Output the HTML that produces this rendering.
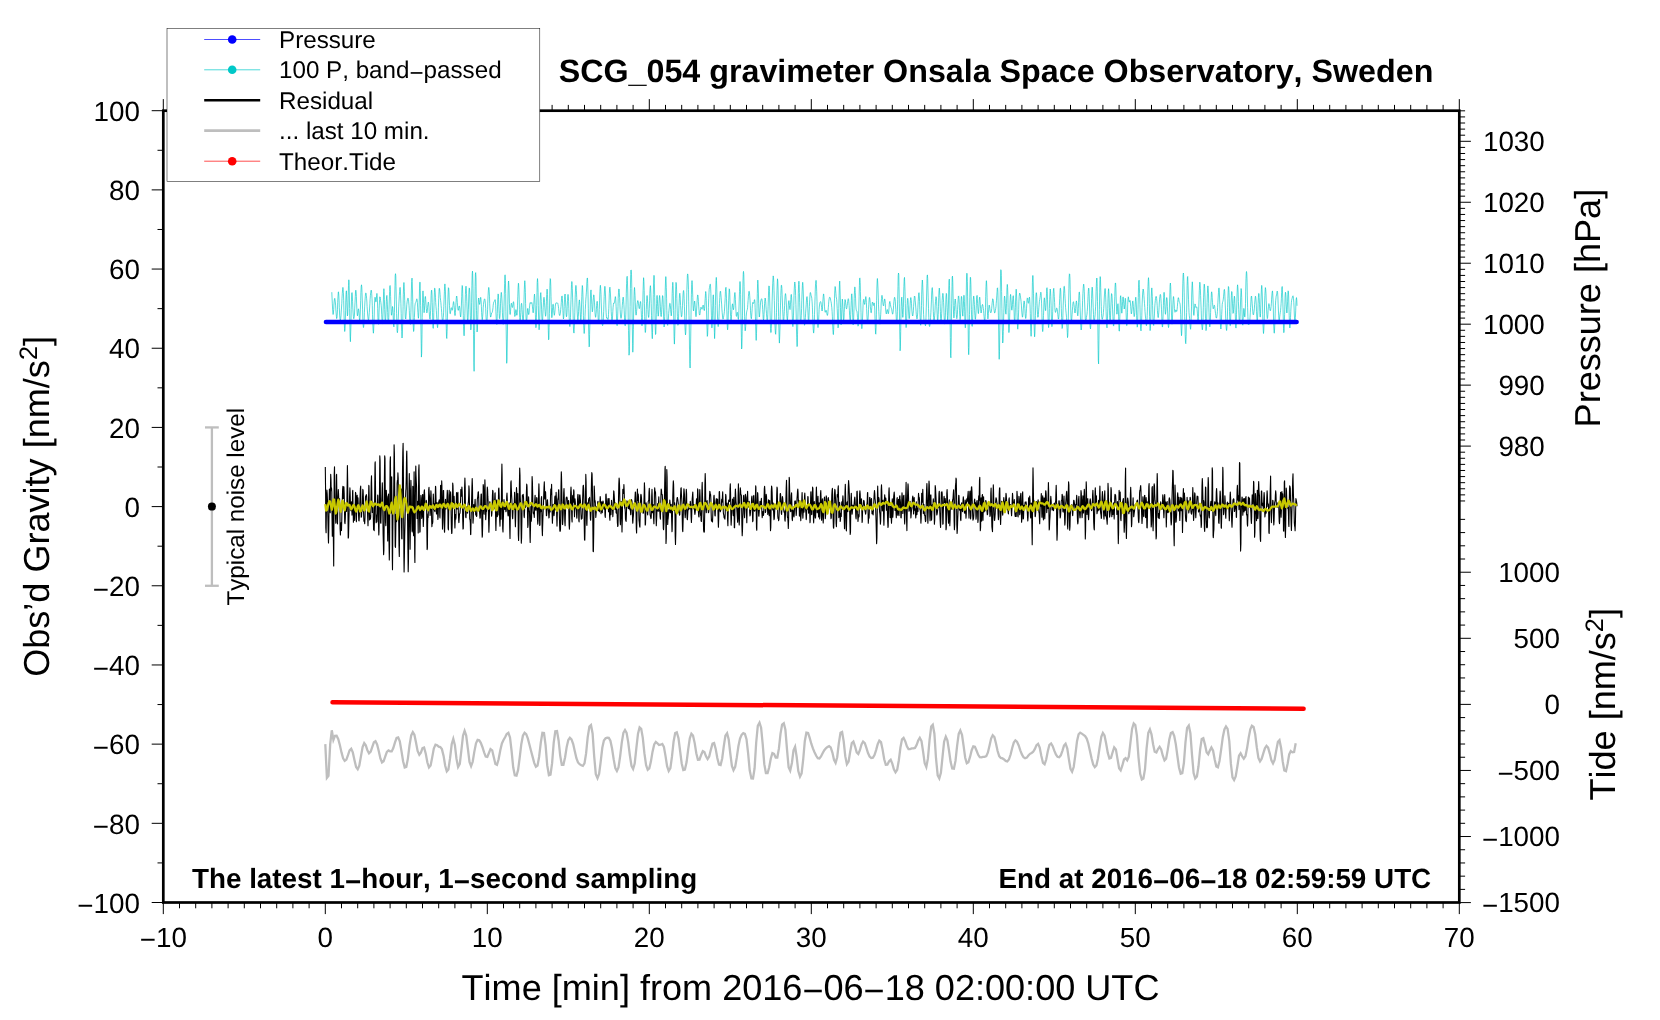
<!DOCTYPE html>
<html lang="en"><head><meta charset="utf-8"><title>SCG_054 gravimeter Onsala Space Observatory</title>
<style>html,body{margin:0;padding:0;background:#fff;}body{width:1660px;height:1020px;overflow:hidden;}svg{display:block;will-change:transform;}text{font-family:"Liberation Sans", sans-serif;font-kerning:none;text-rendering:geometricPrecision;}</style></head>
<body>
<svg width="1660" height="1020" viewBox="0 0 1660 1020" font-family='"Liberation Sans", sans-serif' fill="#000">
<rect x="0" y="0" width="1660" height="1020" fill="#fff"/>
<g fill="none" stroke-linejoin="round">
<path d="M331.8 292.2L332.0 297.1L332.3 303.2L332.6 309.1L332.9 313.1L333.1 314.5L333.4 313.0L333.7 309.4L333.9 305.0L334.2 301.1L334.5 298.8L334.8 298.3L335.0 299.5L335.3 301.9L335.6 305.1L335.8 308.9L336.1 312.9L336.4 316.4L336.6 318.6L336.9 318.4L337.2 315.3L337.5 309.6L337.7 302.6L338.0 296.2L338.3 292.2L338.5 291.8L338.8 295.0L339.1 300.8L339.3 307.7L339.6 314.0L339.9 318.4L340.1 320.5L340.4 320.4L340.7 318.7L341.0 315.8L341.2 312.1L341.5 308.0L341.8 303.3L342.0 298.3L342.3 293.4L342.6 289.4L342.9 287.4L343.1 288.3L343.4 292.8L343.7 300.6L343.9 310.6L344.2 320.6L344.5 328.3L344.7 331.5L345.0 329.1L345.3 321.6L345.6 310.8L345.8 300.1L346.1 292.7L346.4 290.8L346.6 294.8L346.9 302.7L347.2 311.0L347.4 315.9L347.7 314.7L348.0 307.2L348.2 295.9L348.5 285.3L348.8 279.8L349.1 282.3L349.3 293.0L349.6 308.5L349.9 324.2L350.1 336.6L350.4 341.7L350.7 333.0L351.0 322.1L351.2 309.6L351.5 299.1L351.8 293.2L352.0 292.6L352.3 296.0L352.6 301.7L352.8 307.8L353.1 313.0L353.4 316.6L353.6 318.5L353.9 318.8L354.2 317.3L354.5 314.0L354.7 308.9L355.0 302.7L355.3 296.6L355.5 292.0L355.8 290.2L356.1 291.8L356.4 296.6L356.6 303.1L356.9 309.5L357.2 314.0L357.4 315.8L357.7 314.8L358.0 312.2L358.2 309.7L358.5 308.8L358.8 310.3L359.1 313.7L359.3 317.6L359.6 320.3L359.9 320.0L360.1 316.1L360.4 309.1L360.7 300.5L360.9 292.4L361.2 286.7L361.5 284.8L361.8 287.1L362.0 292.8L362.3 300.9L362.6 309.8L362.8 318.0L363.1 324.2L363.4 327.5L363.6 327.5L363.9 324.5L364.2 319.2L364.4 312.7L364.7 306.1L365.0 300.5L365.3 296.4L365.5 293.8L365.8 292.9L366.1 293.4L366.3 295.2L366.6 298.2L366.9 302.1L367.1 306.5L367.4 311.0L367.7 315.0L368.0 318.0L368.2 319.8L368.5 320.1L368.8 318.8L369.0 316.2L369.3 312.4L369.6 308.0L369.9 303.5L370.1 299.3L370.4 295.6L370.7 292.8L370.9 290.9L371.2 290.1L371.5 290.8L371.7 293.4L372.0 298.4L372.3 305.7L372.5 314.5L372.8 323.3L373.1 330.1L373.4 333.2L373.6 331.2L373.9 324.9L374.2 316.0L374.4 307.0L374.7 300.3L375.0 297.2L375.2 297.7L375.5 299.9L375.8 301.8L376.1 301.7L376.3 299.1L376.6 295.6L376.9 293.4L377.1 294.6L377.4 300.1L377.7 308.6L377.9 317.4L378.2 323.3L378.5 324.3L378.8 320.2L379.0 312.9L379.3 305.1L379.6 299.3L379.8 296.8L380.1 297.0L380.4 298.7L380.6 300.7L380.9 302.7L381.2 305.2L381.5 309.0L381.7 314.3L382.0 320.0L382.3 323.8L382.5 323.8L382.8 318.9L383.1 310.1L383.4 300.0L383.6 291.9L383.9 288.7L384.2 291.6L384.4 299.4L384.7 309.4L385.0 318.1L385.2 322.9L385.5 322.4L385.8 317.2L386.1 309.4L386.3 301.7L386.6 296.6L386.9 295.4L387.1 298.6L387.4 304.9L387.7 312.5L387.9 319.2L388.2 322.9L388.5 322.4L388.8 317.6L389.0 309.4L389.3 300.0L389.6 291.5L389.8 286.3L390.1 285.5L390.4 289.3L390.6 296.5L390.9 304.7L391.2 311.6L391.4 315.2L391.7 315.1L392.0 312.1L392.3 308.4L392.5 306.5L392.8 307.9L393.1 312.8L393.3 319.5L393.6 325.2L393.9 326.9L394.1 322.7L394.4 312.7L394.7 299.1L395.0 285.4L395.2 275.5L395.5 273.7L395.8 276.1L396.0 286.2L396.3 299.8L396.6 313.5L396.9 324.4L397.1 330.9L397.4 332.7L397.7 330.4L397.9 325.5L398.2 319.4L398.5 313.0L398.7 306.8L399.0 301.1L399.3 295.8L399.6 291.3L399.8 288.2L400.1 287.4L400.4 289.6L400.6 295.1L400.9 303.5L401.2 313.6L401.4 323.7L401.7 331.7L402.0 338.0L402.2 336.6L402.5 329.1L402.8 318.9L403.1 306.6L403.3 294.7L403.6 286.1L403.9 282.5L404.1 284.5L404.4 291.2L404.7 300.4L405.0 309.4L405.2 316.0L405.5 319.0L405.8 318.7L406.0 315.9L406.3 311.9L406.6 308.0L406.8 304.6L407.1 301.9L407.4 300.0L407.6 298.7L407.9 298.1L408.2 298.3L408.5 299.5L408.7 301.9L409.0 305.6L409.3 310.5L409.5 315.9L409.8 320.9L410.1 324.2L410.4 324.3L410.6 320.3L410.9 312.3L411.2 301.4L411.4 290.1L411.7 281.4L412.0 278.1L412.2 281.5L412.5 291.0L412.8 304.1L413.1 317.3L413.3 327.1L413.6 331.5L413.9 330.1L414.1 324.7L414.4 317.5L414.7 310.9L414.9 306.2L415.2 303.7L415.5 302.8L415.8 302.4L416.0 301.8L416.3 300.7L416.6 299.4L416.8 298.8L417.1 299.7L417.4 302.5L417.6 307.1L417.9 312.4L418.2 316.7L418.4 318.3L418.7 315.8L419.0 308.9L419.3 299.0L419.5 288.9L419.8 282.2L420.1 282.2L420.3 290.3L420.6 305.3L420.9 323.3L421.2 343.3L421.4 357.1L421.7 353.6L422.0 334.5L422.2 317.6L422.5 302.2L422.8 292.5L423.0 290.9L423.3 295.8L423.6 303.7L423.9 310.3L424.1 312.7L424.4 310.4L424.7 305.2L424.9 299.8L425.2 296.5L425.5 296.6L425.7 299.5L426.0 304.0L426.3 308.5L426.6 311.6L426.8 312.9L427.1 312.2L427.4 310.1L427.6 307.2L427.9 304.4L428.2 302.5L428.4 302.1L428.7 303.6L429.0 307.0L429.2 311.5L429.5 316.0L429.8 319.0L430.1 319.3L430.3 316.3L430.6 310.4L430.9 302.9L431.1 295.6L431.4 290.8L431.7 290.1L432.0 294.2L432.2 302.4L432.5 312.8L432.8 322.4L433.0 328.2L433.3 328.3L433.6 322.5L433.8 312.6L434.1 301.6L434.4 292.8L434.6 288.2L434.9 288.3L435.2 292.0L435.5 297.3L435.7 302.5L436.0 306.7L436.3 310.4L436.5 314.2L436.8 318.7L437.1 323.5L437.4 327.0L437.6 327.7L437.9 324.3L438.2 317.2L438.4 307.8L438.7 298.5L439.0 291.6L439.2 288.3L439.5 288.5L439.8 291.0L440.1 294.5L440.3 297.7L440.6 300.4L440.9 302.7L441.1 305.3L441.4 308.6L441.7 312.3L441.9 316.1L442.2 319.2L442.5 321.1L442.8 321.5L443.0 320.3L443.3 317.4L443.6 312.8L443.8 306.5L444.1 299.2L444.4 291.8L444.6 286.1L444.9 283.9L445.2 286.5L445.5 294.1L445.7 305.3L446.0 317.8L446.3 328.6L446.5 336.9L446.8 338.5L447.1 331.4L447.3 322.2L447.6 310.9L447.9 299.9L448.2 291.7L448.4 287.7L448.7 288.2L449.0 292.5L449.2 299.0L449.5 305.7L449.8 310.9L450.0 313.6L450.3 313.7L450.6 312.1L450.9 309.8L451.1 308.2L451.4 307.7L451.7 308.4L451.9 309.6L452.2 310.3L452.5 309.8L452.7 308.0L453.0 305.3L453.3 302.8L453.6 301.6L453.8 302.5L454.1 305.3L454.4 309.3L454.6 313.2L454.9 315.6L455.2 315.4L455.4 312.6L455.7 307.9L456.0 302.7L456.3 298.3L456.5 296.0L456.8 296.3L457.1 298.7L457.3 302.3L457.6 306.1L457.9 309.0L458.1 310.4L458.4 310.2L458.7 308.9L458.9 307.1L459.2 306.0L459.5 306.2L459.8 308.2L460.0 311.4L460.3 314.9L460.6 317.0L460.8 316.3L461.1 312.2L461.4 305.1L461.7 296.7L461.9 289.3L462.2 285.5L462.5 286.8L462.7 293.3L463.0 303.8L463.3 315.7L463.5 326.2L463.8 333.0L464.1 335.8L464.4 331.0L464.6 323.4L464.9 313.5L465.2 303.2L465.4 294.4L465.7 288.4L466.0 286.2L466.2 288.0L466.5 293.4L466.8 301.3L467.1 310.0L467.3 317.5L467.6 321.7L467.9 321.6L468.1 317.0L468.4 309.2L468.7 300.0L468.9 292.2L469.2 287.9L469.5 288.6L469.8 294.3L470.0 304.0L470.3 315.2L470.6 324.9L470.8 329.9L471.1 327.8L471.4 318.2L471.6 302.8L471.9 285.7L472.2 273.8L472.5 271.1L472.7 274.0L473.0 288.5L473.3 311.0L473.5 334.2L473.8 362.2L474.1 371.3L474.3 359.0L474.6 330.6L474.9 307.8L475.1 286.5L475.4 274.1L475.7 272.6L476.0 277.8L476.2 293.2L476.5 310.7L476.8 324.8L477.0 332.0L477.3 331.2L477.6 324.2L477.9 314.3L478.1 305.3L478.4 299.6L478.7 298.0L478.9 299.6L479.2 302.4L479.5 304.4L479.7 304.3L480.0 302.2L480.3 299.3L480.6 297.3L480.8 297.6L481.1 300.8L481.4 306.3L481.6 312.4L481.9 317.3L482.2 319.8L482.4 319.3L482.7 316.3L483.0 312.0L483.2 307.8L483.5 304.3L483.8 301.9L484.1 300.4L484.3 299.4L484.6 298.9L484.9 299.1L485.1 300.7L485.4 303.9L485.7 308.7L485.9 314.3L486.2 319.4L486.5 322.8L486.8 323.5L487.0 321.1L487.3 316.1L487.6 309.3L487.8 302.0L488.1 295.2L488.4 290.1L488.7 287.4L488.9 287.8L489.2 291.1L489.5 296.8L489.7 303.7L490.0 310.1L490.3 314.8L490.5 317.0L490.8 317.0L491.1 315.7L491.4 314.1L491.6 313.0L491.9 312.6L492.2 312.4L492.4 311.7L492.7 310.1L493.0 307.7L493.2 305.2L493.5 303.2L493.8 302.1L494.1 301.6L494.3 301.3L494.6 300.7L494.9 299.8L495.1 299.6L495.4 301.1L495.7 305.2L495.9 311.5L496.2 318.3L496.5 323.3L496.8 324.5L497.0 320.9L497.3 313.6L497.6 304.9L497.8 297.5L498.1 293.9L498.4 294.9L498.6 299.8L498.9 306.8L499.2 313.5L499.4 317.8L499.7 318.7L500.0 315.9L500.3 310.4L500.5 303.8L500.8 297.7L501.1 293.6L501.3 292.4L501.6 294.3L501.9 298.9L502.2 305.2L502.4 312.2L502.7 318.4L503.0 322.8L503.2 324.3L503.5 322.1L503.8 316.0L504.0 306.4L504.3 294.8L504.6 283.6L504.9 275.8L505.1 274.8L505.4 280.3L505.7 293.6L505.9 311.5L506.2 329.8L506.5 352.0L506.7 363.3L507.0 359.0L507.3 341.0L507.6 321.8L507.8 304.8L508.1 290.8L508.4 282.5L508.6 281.0L508.9 285.6L509.2 294.0L509.4 303.2L509.7 310.6L510.0 314.4L510.2 314.5L510.5 311.7L510.8 307.8L511.1 304.6L511.3 303.2L511.6 303.7L511.9 305.4L512.1 307.0L512.4 307.5L512.7 306.5L513.0 304.4L513.2 302.4L513.5 301.7L513.8 303.0L514.0 306.4L514.3 310.8L514.6 314.6L514.8 316.5L515.1 316.0L515.4 313.6L515.6 311.0L515.9 309.6L516.2 310.3L516.5 312.7L516.7 315.1L517.0 315.4L517.3 312.2L517.5 305.2L517.8 296.2L518.1 287.9L518.4 283.2L518.6 283.8L518.9 289.7L519.2 299.2L519.4 309.3L519.7 317.4L520.0 321.5L520.2 321.4L520.5 317.8L520.8 312.6L521.0 307.5L521.3 304.2L521.6 303.3L521.9 305.3L522.1 309.4L522.4 314.8L522.7 319.8L522.9 322.8L523.2 322.5L523.5 318.1L523.8 310.0L524.0 299.8L524.3 289.8L524.6 282.8L524.8 280.7L525.1 284.3L525.4 292.7L525.6 303.6L525.9 314.0L526.2 321.2L526.5 323.7L526.7 321.7L527.0 317.0L527.3 312.0L527.5 308.9L527.8 308.4L528.1 310.3L528.3 312.9L528.6 314.6L528.9 314.3L529.2 312.0L529.4 308.5L529.7 305.2L530.0 303.0L530.2 302.4L530.5 302.7L530.8 303.4L531.0 303.6L531.3 303.2L531.6 302.6L531.9 302.5L532.1 303.7L532.4 306.1L532.7 309.3L532.9 312.0L533.2 312.8L533.5 310.8L533.7 306.2L534.0 300.4L534.3 295.7L534.5 294.1L534.8 297.2L535.1 304.6L535.4 314.3L535.6 323.1L535.9 327.7L536.2 326.0L536.4 317.9L536.7 305.5L537.0 292.3L537.2 282.4L537.5 278.6L537.8 282.3L538.1 292.1L538.3 305.3L538.6 318.0L538.9 326.9L539.1 329.8L539.4 326.7L539.7 318.9L540.0 309.1L540.2 300.2L540.5 294.2L540.8 292.6L541.0 295.4L541.3 301.6L541.6 309.2L541.8 316.1L542.1 320.6L542.4 321.6L542.7 319.1L542.9 313.9L543.2 307.7L543.5 302.1L543.7 298.4L544.0 297.3L544.3 298.7L544.5 302.3L544.8 307.0L545.1 311.7L545.4 315.2L545.6 316.3L545.9 314.3L546.2 309.1L546.4 301.8L546.7 294.4L547.0 289.4L547.2 289.1L547.5 294.6L547.8 305.2L548.0 318.4L548.3 330.2L548.6 339.8L548.9 338.4L549.1 327.6L549.4 313.6L549.7 298.1L549.9 285.3L550.2 278.6L550.5 279.2L550.8 286.2L551.0 296.7L551.3 307.2L551.6 314.8L551.8 317.7L552.1 316.2L552.4 312.0L552.6 307.3L552.9 304.4L553.2 304.2L553.5 306.7L553.7 310.4L554.0 313.7L554.3 315.3L554.5 314.7L554.8 312.3L555.1 309.1L555.3 306.1L555.6 304.0L555.9 303.0L556.1 302.7L556.4 302.9L556.7 303.1L557.0 303.1L557.2 303.0L557.5 303.0L557.8 303.4L558.0 304.4L558.3 306.1L558.6 308.5L558.9 311.1L559.1 313.5L559.4 315.1L559.7 315.6L559.9 315.2L560.2 313.9L560.5 312.1L560.7 309.6L561.0 306.4L561.3 302.6L561.5 298.8L561.8 296.3L562.1 295.9L562.4 298.6L562.6 303.8L562.9 310.4L563.2 316.1L563.4 319.0L563.7 318.0L564.0 313.4L564.2 306.5L564.5 299.7L564.8 295.0L565.1 294.0L565.3 296.7L565.6 302.1L565.9 308.6L566.1 314.1L566.4 316.8L566.7 316.2L567.0 312.3L567.2 306.5L567.5 300.4L567.8 295.9L568.0 294.4L568.3 296.3L568.6 301.4L568.8 308.4L569.1 315.9L569.4 322.2L569.7 326.0L569.9 326.6L570.2 323.6L570.5 317.5L570.7 309.1L571.0 299.7L571.3 290.9L571.5 284.4L571.8 281.5L572.1 282.8L572.3 288.3L572.6 297.1L572.9 307.7L573.2 318.3L573.4 327.0L573.7 332.1L574.0 333.1L574.2 329.4L574.5 322.2L574.8 312.8L575.0 302.9L575.3 294.1L575.6 288.0L575.9 285.4L576.1 286.4L576.4 290.7L576.7 297.3L576.9 304.9L577.2 312.0L577.5 317.4L577.8 320.1L578.0 319.7L578.3 316.4L578.6 311.3L578.8 305.8L579.1 301.6L579.4 299.9L579.6 301.4L579.9 305.8L580.2 311.8L580.5 317.4L580.7 320.5L581.0 319.6L581.3 314.4L581.5 306.0L581.8 296.6L582.1 289.0L582.3 285.5L582.6 287.3L582.9 294.1L583.2 304.3L583.4 315.7L583.7 325.5L584.0 331.7L584.2 333.5L584.5 330.2L584.8 323.9L585.0 316.3L585.3 309.3L585.6 303.8L585.8 299.8L586.1 296.3L586.4 292.1L586.7 287.0L586.9 281.6L587.2 278.0L587.5 278.1L587.7 283.5L588.0 294.1L588.3 308.2L588.5 322.9L588.8 336.1L589.1 346.9L589.4 346.1L589.6 334.4L589.9 322.6L590.2 310.0L590.4 299.0L590.7 291.9L591.0 289.9L591.2 292.5L591.5 298.1L591.8 304.5L592.1 309.6L592.3 311.8L592.6 310.7L592.9 306.9L593.1 301.9L593.4 297.4L593.7 294.9L594.0 295.1L594.2 298.0L594.5 302.8L594.8 308.1L595.0 312.8L595.3 316.1L595.6 317.3L595.8 316.5L596.1 313.7L596.4 309.6L596.6 305.4L596.9 302.1L597.2 301.3L597.5 303.4L597.7 308.4L598.0 314.8L598.3 320.7L598.5 323.9L598.8 323.1L599.1 317.9L599.3 309.6L599.6 300.2L599.9 291.8L600.2 286.5L600.4 285.3L600.7 288.2L601.0 294.3L601.2 302.1L601.5 310.1L601.8 316.9L602.0 321.9L602.3 324.8L602.6 325.7L602.9 324.8L603.1 322.2L603.4 317.8L603.7 311.6L603.9 304.2L604.2 296.5L604.5 290.0L604.8 286.3L605.0 286.6L605.3 290.9L605.6 298.0L605.8 305.9L606.1 312.6L606.4 316.7L606.6 318.2L606.9 318.1L607.2 317.8L607.4 318.2L607.7 319.1L608.0 319.6L608.3 318.3L608.5 314.5L608.8 308.3L609.1 300.8L609.3 293.8L609.6 288.9L609.9 287.2L610.1 288.8L610.4 293.0L610.7 299.0L611.0 305.5L611.2 311.6L611.5 316.6L611.8 319.8L612.0 320.7L612.3 319.3L612.6 315.9L612.8 311.5L613.1 307.3L613.4 304.3L613.7 303.0L613.9 303.1L614.2 303.3L614.5 302.8L614.7 301.0L615.0 298.5L615.3 296.6L615.5 296.8L615.8 300.2L616.1 306.3L616.4 313.9L616.6 320.9L616.9 325.2L617.2 325.7L617.4 322.0L617.7 315.1L618.0 306.7L618.2 298.5L618.5 292.3L618.8 289.0L619.1 289.1L619.3 292.1L619.6 297.3L619.9 303.5L620.1 309.4L620.4 314.1L620.7 317.2L621.0 318.4L621.2 317.9L621.5 316.0L621.8 313.0L622.0 309.4L622.3 305.4L622.6 301.6L622.8 298.6L623.1 297.1L623.4 297.5L623.6 300.1L623.9 304.8L624.2 310.8L624.5 317.2L624.7 322.6L625.0 325.8L625.3 325.7L625.5 321.8L625.8 314.2L626.1 304.1L626.3 293.2L626.6 283.6L626.9 277.4L627.2 276.3L627.4 280.6L627.7 290.0L628.0 302.9L628.2 317.2L628.5 330.7L628.8 346.5L629.0 355.2L629.3 353.2L629.6 340.1L629.9 323.7L630.1 306.5L630.4 288.7L630.7 274.6L630.9 270.2L631.2 270.0L631.5 274.2L631.8 288.6L632.0 307.9L632.3 326.2L632.6 343.8L632.8 352.2L633.1 345.7L633.4 329.5L633.6 315.0L633.9 301.2L634.2 291.4L634.5 287.5L634.7 289.4L635.0 295.3L635.3 302.8L635.5 309.4L635.8 313.8L636.1 315.2L636.3 314.1L636.6 311.3L636.9 307.9L637.1 304.6L637.4 302.1L637.7 300.7L638.0 300.6L638.2 301.7L638.5 303.7L638.8 306.1L639.0 307.9L639.3 308.7L639.6 308.0L639.8 305.9L640.1 303.3L640.4 301.5L640.7 301.7L640.9 304.8L641.2 310.6L641.5 317.6L641.7 323.5L642.0 325.8L642.3 322.8L642.5 314.5L642.8 302.7L643.1 290.4L643.4 281.2L643.6 277.7L643.9 281.1L644.2 290.4L644.4 303.3L644.7 316.5L645.0 326.9L645.2 332.5L645.5 332.3L645.8 327.1L646.1 318.7L646.3 309.4L646.6 301.4L646.9 296.5L647.1 295.5L647.4 298.1L647.7 303.2L647.9 309.3L648.2 314.5L648.5 317.4L648.8 317.3L649.0 314.1L649.3 308.2L649.6 300.8L649.8 293.5L650.1 288.0L650.4 285.7L650.6 287.6L650.9 293.9L651.2 303.7L651.5 315.3L651.7 326.2L652.0 334.6L652.3 338.7L652.5 332.5L652.8 322.9L653.1 309.3L653.3 294.5L653.6 282.1L653.9 275.3L654.2 275.7L654.4 283.8L654.7 297.5L655.0 313.1L655.2 326.5L655.5 334.5L655.8 333.8L656.0 326.0L656.3 314.7L656.6 303.6L656.9 296.6L657.1 295.4L657.4 299.7L657.7 306.7L657.9 313.1L658.2 316.2L658.5 314.8L658.8 309.7L659.0 303.3L659.3 297.9L659.6 295.5L659.8 296.8L660.1 301.0L660.4 306.8L660.6 312.3L660.9 315.9L661.2 316.6L661.5 314.5L661.7 309.9L662.0 304.1L662.3 298.8L662.5 295.6L662.8 295.8L663.1 299.9L663.3 307.2L663.6 316.0L663.9 323.5L664.1 327.0L664.4 324.8L664.7 316.6L665.0 304.4L665.2 291.2L665.5 281.0L665.8 276.6L666.0 279.0L666.3 287.3L666.6 298.8L666.8 310.3L667.1 319.2L667.4 324.3L667.7 325.4L667.9 323.8L668.2 320.6L668.5 317.0L668.7 313.4L669.0 310.1L669.3 307.1L669.5 304.6L669.8 303.3L670.1 303.5L670.4 305.7L670.6 309.4L670.9 313.3L671.2 315.9L671.4 315.4L671.7 311.0L672.0 303.1L672.2 293.6L672.5 285.6L672.8 282.3L673.1 285.7L673.3 295.8L673.6 310.3L673.9 325.1L674.1 338.1L674.4 344.1L674.7 336.3L675.0 323.7L675.2 309.4L675.5 296.0L675.8 286.4L676.0 282.4L676.3 283.9L676.6 289.9L676.8 298.5L677.1 307.9L677.4 316.3L677.7 322.5L677.9 325.3L678.2 324.4L678.5 320.0L678.7 313.2L679.0 305.6L679.3 298.8L679.5 294.5L679.8 293.3L680.1 295.4L680.3 299.9L680.6 305.4L680.9 310.8L681.2 314.8L681.4 316.8L681.7 316.6L682.0 314.3L682.2 310.4L682.5 305.4L682.8 300.0L683.0 295.0L683.3 291.5L683.6 290.5L683.9 292.7L684.1 298.2L684.4 306.4L684.7 315.9L684.9 324.8L685.2 331.3L685.5 334.9L685.8 332.2L686.0 325.9L686.3 316.1L686.6 304.3L686.8 292.4L687.1 282.2L687.4 275.3L687.6 273.9L687.9 274.7L688.2 279.9L688.5 289.4L688.7 301.8L689.0 315.8L689.3 330.0L689.5 349.1L689.8 363.4L690.1 368.0L690.3 361.3L690.6 344.1L690.9 324.9L691.1 308.9L691.4 294.6L691.7 284.6L692.0 280.6L692.2 282.6L692.5 289.1L692.8 297.6L693.0 305.3L693.3 310.1L693.6 310.9L693.8 308.6L694.1 304.8L694.4 301.7L694.7 301.0L694.9 303.0L695.2 307.2L695.5 312.0L695.7 315.5L696.0 316.7L696.3 315.1L696.5 311.1L696.8 305.9L697.1 300.7L697.4 296.8L697.6 294.9L697.9 295.2L698.2 297.6L698.4 301.5L698.7 306.1L699.0 310.4L699.2 313.5L699.5 315.1L699.8 314.8L700.1 313.2L700.3 310.8L700.6 308.6L700.9 307.3L701.1 307.2L701.4 307.9L701.7 308.8L702.0 309.3L702.2 308.9L702.5 307.6L702.8 306.1L703.0 305.1L703.3 305.3L703.6 306.7L703.8 308.8L704.1 310.4L704.4 310.5L704.6 308.3L704.9 304.0L705.2 298.4L705.5 293.6L705.7 291.5L706.0 293.7L706.3 300.3L706.5 310.2L706.8 321.2L707.1 330.2L707.3 336.4L707.6 334.8L707.9 327.8L708.2 318.1L708.4 307.7L708.7 298.8L709.0 292.7L709.2 289.3L709.5 287.3L709.8 285.7L710.0 284.3L710.3 284.2L710.6 286.9L710.9 293.6L711.1 303.8L711.4 315.2L711.7 324.3L711.9 327.9L712.2 324.7L712.5 315.9L712.8 305.2L713.0 297.0L713.3 294.8L713.6 299.7L713.8 310.4L714.1 322.9L714.4 332.7L714.6 338.6L714.9 331.8L715.2 320.5L715.4 305.5L715.7 291.1L716.0 280.9L716.3 277.4L716.5 280.6L716.8 289.1L717.1 300.1L717.3 310.9L717.6 319.4L717.9 324.7L718.2 326.6L718.4 325.5L718.7 322.0L719.0 316.6L719.2 310.2L719.5 303.4L719.8 297.4L720.0 293.1L720.3 291.2L720.6 291.5L720.8 293.8L721.1 297.1L721.4 300.9L721.7 304.9L721.9 308.9L722.2 312.7L722.5 316.0L722.7 318.3L723.0 319.2L723.3 318.9L723.5 317.6L723.8 315.8L724.1 313.8L724.4 311.4L724.6 308.0L724.9 303.3L725.2 297.6L725.4 291.9L725.7 287.9L726.0 287.3L726.2 291.0L726.5 298.7L726.8 309.0L727.1 319.3L727.3 326.9L727.6 329.8L727.9 327.3L728.1 320.1L728.4 310.3L728.7 300.3L729.0 292.6L729.2 288.8L729.5 289.4L729.8 294.1L730.0 301.5L730.3 309.6L730.6 316.6L730.8 320.9L731.1 321.7L731.4 319.1L731.6 314.3L731.9 309.2L732.2 305.3L732.5 303.8L732.7 304.8L733.0 307.2L733.3 309.4L733.5 309.8L733.8 307.6L734.1 303.3L734.3 298.1L734.6 294.0L734.9 292.5L735.2 294.5L735.4 299.4L735.7 305.8L736.0 311.7L736.2 315.4L736.5 316.4L736.8 315.2L737.0 313.3L737.3 312.3L737.6 313.3L737.9 315.9L738.1 318.6L738.4 319.5L738.7 316.9L738.9 310.4L739.2 301.1L739.5 291.4L739.8 284.1L740.0 281.5L740.3 285.0L740.6 294.4L740.8 308.0L741.1 322.9L741.4 337.3L741.6 349.0L741.9 347.1L742.2 331.7L742.5 315.8L742.7 297.1L743.0 280.3L743.3 272.5L743.5 271.4L743.8 274.6L744.1 286.6L744.3 302.1L744.6 316.3L744.9 326.4L745.1 330.9L745.4 330.3L745.7 326.3L746.0 321.0L746.2 316.2L746.5 312.9L746.8 311.2L747.0 310.4L747.3 309.5L747.6 307.6L747.8 304.5L748.1 300.5L748.4 296.4L748.7 293.2L748.9 291.4L749.2 291.3L749.5 292.8L749.7 295.8L750.0 300.1L750.3 305.3L750.5 310.6L750.8 315.3L751.1 318.3L751.4 318.8L751.6 316.7L751.9 312.8L752.2 308.4L752.4 304.7L752.7 302.6L753.0 302.3L753.2 302.9L753.5 303.5L753.8 303.2L754.1 301.8L754.3 300.1L754.6 299.6L754.9 301.7L755.1 307.4L755.4 316.2L755.7 326.2L755.9 335.3L756.2 340.4L756.5 333.7L756.8 322.8L757.0 308.1L757.3 293.6L757.6 283.4L757.8 280.1L758.1 284.1L758.4 293.0L758.7 303.5L758.9 312.1L759.2 316.7L759.5 317.0L759.7 314.1L760.0 309.9L760.3 305.9L760.5 302.9L760.8 301.0L761.1 299.9L761.3 299.1L761.6 298.7L761.9 299.2L762.2 301.0L762.4 304.4L762.7 309.3L763.0 314.4L763.2 318.5L763.5 320.2L763.8 318.8L764.0 314.7L764.3 309.0L764.6 303.4L764.9 299.5L765.1 298.0L765.4 298.9L765.7 301.6L765.9 305.3L766.2 309.5L766.5 313.7L766.8 317.6L767.0 320.4L767.3 321.3L767.6 319.4L767.8 314.3L768.1 306.6L768.4 297.9L768.6 290.3L768.9 285.9L769.2 286.1L769.5 291.2L769.7 300.0L770.0 310.7L770.3 320.9L770.5 328.6L770.8 332.6L771.1 332.4L771.3 328.4L771.6 321.2L771.9 312.0L772.1 301.9L772.4 292.0L772.7 283.8L773.0 278.1L773.2 275.9L773.5 277.4L773.8 282.5L774.0 290.5L774.3 300.4L774.6 310.9L774.8 320.7L775.1 328.4L775.4 333.1L775.7 334.3L775.9 330.3L776.2 323.0L776.5 312.7L776.7 301.1L777.0 290.1L777.3 282.0L777.5 278.8L777.8 281.5L778.1 289.9L778.4 302.5L778.6 316.5L778.9 328.9L779.2 339.6L779.4 343.1L779.7 336.8L780.0 326.9L780.2 316.1L780.5 305.1L780.8 295.5L781.1 288.7L781.3 285.2L781.6 285.3L781.9 288.6L782.1 294.6L782.4 302.0L782.7 309.6L783.0 316.1L783.2 320.3L783.5 321.8L783.8 320.4L784.0 316.7L784.3 311.4L784.6 305.6L784.8 300.2L785.1 295.9L785.4 293.6L785.6 293.7L785.9 296.3L786.2 301.0L786.5 307.1L786.7 313.2L787.0 318.0L787.3 320.3L787.5 319.4L787.8 315.7L788.1 310.4L788.3 305.1L788.6 301.5L788.9 300.6L789.2 302.3L789.4 305.4L789.7 308.4L790.0 309.6L790.2 308.1L790.5 304.2L790.8 299.3L791.0 295.4L791.3 294.4L791.6 297.2L791.9 303.6L792.1 312.0L792.4 320.1L792.7 325.5L792.9 326.6L793.2 322.8L793.5 315.1L793.8 305.4L794.0 295.7L794.3 288.0L794.6 283.3L794.8 282.0L795.1 283.8L795.4 288.4L795.6 295.3L795.9 304.3L796.2 315.0L796.4 326.0L796.7 337.2L797.0 346.6L797.3 346.2L797.5 334.8L797.8 321.9L798.1 307.3L798.3 293.7L798.6 284.3L798.9 281.2L799.2 284.4L799.4 292.4L799.7 302.4L800.0 312.0L800.2 319.1L800.5 322.9L800.8 323.4L801.0 320.9L801.3 315.7L801.6 308.6L801.8 300.2L802.1 291.9L802.4 285.3L802.7 282.3L802.9 283.8L803.2 289.9L803.5 299.0L803.7 309.0L804.0 317.7L804.3 323.3L804.5 325.3L804.8 324.3L805.1 321.3L805.4 317.4L805.6 313.2L805.9 309.0L806.2 304.8L806.4 300.9L806.7 297.8L807.0 296.6L807.2 298.1L807.5 302.4L807.8 308.8L808.1 315.5L808.3 320.5L808.6 322.1L808.9 319.7L809.1 314.0L809.4 306.7L809.7 299.8L810.0 294.9L810.2 292.6L810.5 292.6L810.8 293.8L811.0 295.2L811.3 296.1L811.6 297.0L811.8 298.6L812.1 301.8L812.4 307.2L812.6 314.3L812.9 322.0L813.2 328.7L813.5 332.6L813.7 333.1L814.0 329.5L814.3 322.9L814.5 314.4L814.8 305.3L815.1 296.6L815.3 289.1L815.6 283.5L815.9 280.4L816.2 280.5L816.4 284.3L816.7 291.6L817.0 301.4L817.2 311.8L817.5 320.7L817.8 326.3L818.0 327.6L818.3 325.2L818.6 320.3L818.9 314.6L819.1 309.5L819.4 306.0L819.7 303.9L819.9 302.7L820.2 302.0L820.5 301.6L820.8 301.7L821.0 302.7L821.3 304.8L821.6 307.6L821.8 310.0L822.1 311.0L822.4 309.7L822.6 306.1L822.9 301.1L823.2 296.6L823.5 293.9L823.7 294.2L824.0 297.2L824.3 302.0L824.5 306.8L824.8 310.5L825.1 312.2L825.3 312.3L825.6 311.3L825.9 310.4L826.1 310.2L826.4 311.0L826.7 312.6L827.0 314.3L827.2 315.4L827.5 315.3L827.8 313.8L828.0 311.1L828.3 307.7L828.6 304.2L828.8 301.2L829.1 298.9L829.4 297.6L829.7 297.1L829.9 297.2L830.2 297.9L830.5 299.0L830.7 300.3L831.0 301.7L831.3 303.2L831.5 305.1L831.8 307.6L832.1 311.4L832.4 316.8L832.6 323.1L832.9 329.4L833.2 334.0L833.4 334.6L833.7 329.3L834.0 320.4L834.2 309.1L834.5 298.2L834.8 290.2L835.1 286.5L835.3 287.0L835.6 290.0L835.9 293.6L836.1 296.3L836.4 298.0L836.7 299.7L836.9 302.8L837.2 308.4L837.5 315.9L837.8 323.3L838.0 327.9L838.3 327.1L838.6 320.1L838.8 308.4L839.1 295.3L839.4 285.0L839.7 281.1L839.9 284.8L840.2 294.9L840.5 307.7L840.7 318.9L841.0 324.9L841.3 324.2L841.5 318.0L841.8 309.4L842.1 302.2L842.3 299.1L842.6 301.1L842.9 307.0L843.2 314.0L843.4 319.3L843.7 320.7L844.0 318.1L844.2 312.6L844.5 306.5L844.8 301.7L845.0 299.5L845.3 299.9L845.6 302.2L845.9 305.1L846.1 307.5L846.4 308.8L846.7 308.8L846.9 307.6L847.2 305.6L847.5 303.3L847.8 301.1L848.0 299.4L848.3 298.7L848.6 299.4L848.8 301.6L849.1 305.4L849.4 310.2L849.6 315.2L849.9 319.1L850.2 320.8L850.5 319.3L850.7 314.6L851.0 307.8L851.3 300.5L851.5 295.2L851.8 293.8L852.1 296.9L852.3 304.0L852.6 312.9L852.9 320.7L853.1 324.9L853.4 323.9L853.7 317.8L854.0 308.5L854.2 298.5L854.5 290.7L854.8 286.9L855.0 287.7L855.3 292.4L855.6 298.9L855.8 305.0L856.1 309.1L856.4 310.7L856.7 310.8L856.9 311.2L857.2 313.4L857.5 317.7L857.7 322.7L858.0 326.2L858.3 325.5L858.5 319.5L858.8 309.0L859.1 296.4L859.4 285.3L859.6 278.6L859.9 277.9L860.2 282.7L860.4 291.6L860.7 302.2L861.0 312.5L861.2 321.0L861.5 326.5L861.8 328.7L862.1 327.5L862.3 323.2L862.6 317.0L862.9 310.1L863.1 304.1L863.4 300.4L863.7 299.3L864.0 300.4L864.2 302.6L864.5 304.3L864.8 304.4L865.0 302.8L865.3 300.0L865.6 297.5L865.8 296.6L866.1 298.3L866.4 302.5L866.6 308.5L866.9 314.8L867.2 319.9L867.5 322.6L867.7 322.4L868.0 319.6L868.3 315.0L868.5 309.6L868.8 304.3L869.1 300.1L869.3 297.7L869.6 297.4L869.9 299.1L870.2 302.6L870.4 306.7L870.7 310.5L871.0 312.7L871.2 312.8L871.5 310.8L871.8 307.6L872.0 304.4L872.3 302.4L872.6 302.0L872.9 303.2L873.1 304.7L873.4 305.5L873.7 304.9L873.9 303.5L874.2 302.9L874.5 304.7L874.8 310.2L875.0 318.6L875.3 327.5L875.6 333.9L875.8 334.2L876.1 327.0L876.4 314.8L876.6 300.6L876.9 288.0L877.2 280.3L877.4 278.5L877.7 282.0L878.0 288.9L878.3 297.1L878.5 304.8L878.8 311.5L879.1 316.7L879.3 320.7L879.6 323.3L879.9 324.2L880.2 323.0L880.4 319.7L880.7 314.7L881.0 308.8L881.2 303.0L881.5 298.5L881.8 295.8L882.0 295.3L882.3 296.7L882.6 299.3L882.8 302.2L883.1 304.7L883.4 305.9L883.7 305.5L883.9 303.8L884.2 301.5L884.5 299.5L884.7 298.9L885.0 300.2L885.3 303.3L885.5 307.3L885.8 311.1L886.1 313.4L886.4 313.9L886.6 312.7L886.9 310.9L887.2 309.6L887.4 309.6L887.7 310.9L888.0 312.7L888.2 313.8L888.5 313.3L888.8 311.0L889.1 307.5L889.3 304.1L889.6 301.8L889.9 301.4L890.1 302.5L890.4 304.3L890.7 306.1L891.0 307.3L891.2 308.0L891.5 308.7L891.8 309.9L892.0 311.5L892.3 313.2L892.6 314.2L892.8 313.9L893.1 312.1L893.4 309.1L893.6 305.4L893.9 301.8L894.2 299.0L894.5 297.4L894.7 297.3L895.0 298.6L895.3 301.2L895.5 305.0L895.8 309.6L896.1 314.6L896.3 319.2L896.6 322.5L896.9 322.9L897.2 319.4L897.4 311.2L897.7 299.4L898.0 286.3L898.2 275.5L898.5 273.0L898.8 274.8L899.0 286.2L899.3 303.7L899.6 322.3L899.9 339.5L900.1 350.8L900.4 346.8L900.7 331.5L900.9 318.4L901.2 306.3L901.5 298.7L901.8 297.2L902.0 301.2L902.3 308.1L902.6 314.5L902.8 317.4L903.1 314.9L903.4 307.5L903.6 297.0L903.9 286.5L904.2 279.2L904.5 277.4L904.7 281.8L905.0 291.2L905.3 303.4L905.5 315.2L905.8 323.8L906.1 327.6L906.3 326.2L906.6 320.7L906.9 313.1L907.1 305.6L907.4 300.3L907.7 298.3L908.0 299.9L908.2 304.2L908.5 309.9L908.8 315.1L909.0 318.4L909.3 318.7L909.6 316.0L909.8 311.1L910.1 305.4L910.4 300.5L910.7 297.7L910.9 297.5L911.2 299.8L911.5 303.6L911.7 308.0L912.0 311.9L912.3 314.7L912.5 316.0L912.8 315.7L913.1 313.8L913.4 310.7L913.6 306.6L913.9 302.3L914.2 298.7L914.4 296.4L914.7 296.0L915.0 297.4L915.2 300.3L915.5 304.0L915.8 307.9L916.1 311.6L916.3 314.8L916.6 317.4L916.9 318.9L917.1 318.8L917.4 316.9L917.7 312.9L917.9 307.5L918.2 301.4L918.5 296.1L918.8 292.9L919.0 292.7L919.3 295.8L919.6 301.8L919.8 309.5L920.1 317.2L920.4 323.0L920.7 325.3L920.9 322.9L921.2 315.8L921.5 305.4L921.7 294.1L922.0 284.8L922.3 280.0L922.5 281.0L922.8 287.2L923.1 296.7L923.3 306.6L923.6 314.5L923.9 319.2L924.2 321.0L924.4 321.4L924.7 321.9L925.0 323.3L925.2 325.1L925.5 325.9L925.8 323.6L926.0 317.3L926.3 307.1L926.6 295.0L926.9 283.8L927.1 276.3L927.4 274.9L927.7 278.4L927.9 287.0L928.2 297.9L928.5 308.6L928.8 317.3L929.0 323.1L929.3 325.9L929.6 326.5L929.8 325.7L930.1 323.8L930.4 321.1L930.6 317.3L930.9 312.3L931.2 306.0L931.5 299.2L931.7 293.0L932.0 288.7L932.3 287.6L932.5 290.2L932.8 295.9L933.1 303.6L933.3 311.4L933.6 317.5L933.9 320.9L934.1 321.3L934.4 319.2L934.7 315.3L935.0 310.6L935.2 305.9L935.5 301.6L935.8 298.3L936.0 296.7L936.3 297.5L936.6 300.9L936.8 306.6L937.1 313.2L937.4 318.9L937.7 321.6L937.9 320.2L938.2 314.6L938.5 306.3L938.7 297.6L939.0 290.9L939.3 288.1L939.5 289.8L939.8 295.4L940.1 303.4L940.4 311.7L940.6 318.4L940.9 322.1L941.2 322.2L941.4 318.9L941.7 313.3L942.0 306.6L942.2 300.3L942.5 295.6L942.8 293.3L943.1 293.8L943.3 297.0L943.6 302.3L943.9 308.9L944.1 315.7L944.4 321.2L944.7 324.1L945.0 323.5L945.2 319.3L945.5 312.2L945.8 304.0L946.0 297.0L946.3 293.4L946.6 294.3L946.8 299.6L947.1 307.6L947.4 315.5L947.6 320.3L947.9 319.7L948.2 313.1L948.5 302.0L948.7 289.9L949.0 281.1L949.3 279.1L949.5 285.7L949.8 300.1L950.1 318.4L950.3 337.5L950.6 355.8L950.9 357.8L951.2 342.6L951.4 322.2L951.7 303.1L952.0 286.7L952.2 277.1L952.5 276.1L952.8 282.7L953.0 293.9L953.3 305.6L953.6 314.2L953.9 317.9L954.1 316.5L954.4 311.5L954.7 305.5L954.9 300.8L955.2 299.0L955.5 300.4L955.8 304.3L956.0 309.3L956.3 314.2L956.6 317.5L956.8 318.7L957.1 317.5L957.4 314.1L957.6 309.3L957.9 303.9L958.2 299.2L958.4 296.2L958.7 295.9L959.0 298.7L959.3 304.2L959.5 310.8L959.8 316.6L960.1 319.7L960.3 318.7L960.6 313.9L960.9 306.9L961.1 300.2L961.4 296.4L961.7 296.9L962.0 301.5L962.2 308.1L962.5 313.9L962.8 316.2L963.0 313.7L963.3 307.5L963.6 300.2L963.8 295.3L964.1 295.4L964.4 301.3L964.7 311.2L964.9 321.4L965.2 327.9L965.5 327.6L965.7 319.8L966.0 306.4L966.3 291.0L966.5 278.0L966.8 273.2L967.1 273.8L967.4 281.3L967.6 296.2L967.9 313.7L968.2 330.0L968.4 347.5L968.7 354.7L969.0 347.9L969.2 330.3L969.5 314.4L969.8 297.8L970.1 284.4L970.3 277.2L970.6 277.7L970.9 285.0L971.1 296.7L971.4 309.5L971.7 320.0L972.0 325.9L972.2 326.4L972.5 322.1L972.8 314.7L973.0 306.6L973.3 299.9L973.6 296.2L973.8 296.1L974.1 299.2L974.4 304.4L974.6 310.3L974.9 315.5L975.2 318.8L975.5 319.3L975.7 316.9L976.0 312.0L976.3 305.7L976.5 299.9L976.8 296.0L977.1 295.4L977.3 298.2L977.6 303.4L977.9 309.0L978.2 312.9L978.4 313.6L978.7 311.0L979.0 306.1L979.2 300.9L979.5 297.5L979.8 297.1L980.0 299.7L980.3 304.2L980.6 308.8L980.9 312.0L981.1 313.0L981.4 311.9L981.7 309.4L981.9 306.8L982.2 305.0L982.5 304.4L982.8 305.0L983.0 306.4L983.3 308.3L983.6 310.6L983.8 313.5L984.1 316.9L984.4 320.2L984.6 322.2L984.9 321.3L985.2 316.4L985.5 307.7L985.7 296.7L986.0 286.7L986.3 280.7L986.5 280.8L986.8 287.1L987.1 297.3L987.3 307.9L987.6 315.7L987.9 318.9L988.1 317.7L988.4 313.6L988.7 309.2L989.0 306.1L989.2 305.1L989.5 306.1L989.8 308.1L990.0 310.1L990.3 311.7L990.6 312.6L990.8 312.9L991.1 312.3L991.4 311.0L991.7 308.7L991.9 305.8L992.2 302.8L992.5 300.2L992.7 298.8L993.0 299.1L993.3 300.9L993.5 303.8L993.8 307.1L994.1 310.1L994.4 312.1L994.6 313.0L994.9 312.8L995.2 311.8L995.4 310.4L995.7 308.6L996.0 306.5L996.2 303.7L996.5 300.2L996.8 295.9L997.1 291.4L997.3 288.1L997.6 287.8L997.9 292.2L998.1 301.9L998.4 315.9L998.7 331.0L998.9 350.6L999.2 359.3L999.5 351.8L999.8 330.2L1000.0 310.2L1000.3 289.1L1000.6 273.9L1000.8 269.7L1001.1 270.4L1001.4 275.6L1001.6 291.4L1001.9 308.6L1002.2 323.8L1002.5 335.2L1002.7 343.0L1003.0 340.9L1003.3 331.6L1003.5 322.7L1003.8 312.8L1004.1 304.0L1004.3 298.1L1004.6 296.1L1004.9 298.1L1005.2 303.1L1005.4 308.9L1005.7 313.3L1006.0 314.2L1006.2 310.7L1006.5 303.5L1006.8 294.7L1007.0 287.4L1007.3 284.4L1007.6 287.2L1007.9 295.6L1008.1 307.6L1008.4 319.8L1008.7 328.9L1008.9 332.6L1009.2 330.0L1009.5 322.4L1009.8 312.3L1010.0 302.8L1010.3 296.4L1010.6 294.4L1010.8 296.3L1011.1 300.8L1011.4 305.8L1011.6 309.3L1011.9 310.2L1012.2 308.3L1012.5 304.3L1012.7 299.8L1013.0 296.5L1013.3 295.7L1013.5 298.5L1013.8 304.4L1014.1 312.0L1014.3 319.0L1014.6 322.9L1014.9 322.0L1015.1 316.3L1015.4 307.3L1015.7 297.8L1016.0 291.0L1016.2 289.2L1016.5 293.2L1016.8 301.8L1017.0 312.6L1017.3 322.3L1017.6 328.3L1017.8 329.2L1018.1 325.2L1018.4 317.9L1018.7 309.4L1018.9 301.8L1019.2 296.3L1019.5 293.6L1019.7 293.0L1020.0 293.9L1020.3 295.3L1020.5 297.1L1020.8 299.1L1021.1 301.8L1021.4 305.1L1021.6 309.0L1021.9 312.9L1022.2 315.8L1022.4 317.2L1022.7 316.5L1023.0 314.0L1023.2 310.1L1023.5 305.9L1023.8 302.6L1024.1 300.9L1024.3 301.5L1024.6 304.3L1024.9 308.6L1025.1 313.3L1025.4 317.0L1025.7 318.5L1026.0 317.4L1026.2 313.8L1026.5 308.8L1026.8 303.6L1027.0 299.7L1027.3 297.9L1027.6 298.3L1027.8 300.2L1028.1 302.3L1028.4 303.3L1028.6 302.7L1028.9 300.6L1029.2 298.1L1029.5 297.1L1029.7 299.1L1030.0 304.8L1030.3 313.6L1030.5 323.4L1030.8 331.4L1031.1 336.3L1031.3 332.1L1031.6 323.2L1031.9 309.8L1032.2 295.2L1032.4 282.8L1032.7 275.7L1033.0 275.4L1033.2 281.9L1033.5 293.7L1033.8 307.8L1034.0 321.3L1034.3 331.0L1034.6 336.8L1034.9 333.5L1035.1 326.0L1035.4 315.7L1035.7 305.2L1035.9 296.8L1036.2 292.6L1036.5 292.9L1036.8 297.0L1037.0 303.3L1037.3 309.8L1037.6 314.8L1037.8 317.3L1038.1 317.1L1038.4 314.7L1038.6 311.1L1038.9 307.3L1039.2 304.0L1039.4 301.5L1039.7 299.6L1040.0 297.7L1040.3 295.6L1040.5 293.5L1040.8 292.2L1041.1 293.0L1041.3 296.9L1041.6 303.8L1041.9 312.8L1042.1 321.9L1042.4 328.7L1042.7 331.6L1043.0 329.7L1043.2 323.7L1043.5 315.4L1043.8 307.0L1044.0 300.6L1044.3 297.8L1044.6 298.8L1044.8 302.6L1045.1 307.3L1045.4 310.5L1045.7 310.6L1045.9 307.1L1046.2 300.8L1046.5 293.8L1046.7 288.8L1047.0 287.7L1047.3 291.4L1047.5 299.2L1047.8 309.2L1048.1 318.8L1048.4 325.5L1048.6 327.6L1048.9 324.8L1049.2 317.9L1049.4 308.6L1049.7 299.2L1050.0 292.1L1050.2 289.0L1050.5 290.6L1050.8 296.5L1051.1 305.3L1051.3 314.9L1051.6 322.7L1051.9 326.7L1052.1 325.9L1052.4 320.4L1052.7 311.7L1053.0 302.0L1053.2 293.8L1053.5 289.0L1053.8 288.3L1054.0 291.3L1054.3 296.6L1054.6 302.5L1054.8 307.5L1055.1 310.9L1055.4 312.4L1055.6 312.3L1055.9 311.3L1056.2 309.9L1056.5 308.7L1056.7 308.0L1057.0 308.3L1057.3 309.6L1057.5 311.8L1057.8 314.6L1058.1 317.2L1058.3 319.0L1058.6 319.0L1058.9 316.8L1059.2 312.1L1059.4 305.6L1059.7 298.5L1060.0 292.2L1060.2 288.4L1060.5 288.2L1060.8 292.0L1061.0 299.2L1061.3 308.4L1061.6 317.6L1061.9 324.8L1062.1 328.5L1062.4 327.9L1062.7 323.1L1062.9 315.2L1063.2 305.9L1063.5 297.0L1063.8 290.2L1064.0 286.5L1064.3 286.3L1064.6 289.0L1064.8 293.5L1065.1 298.8L1065.4 303.7L1065.6 307.7L1065.9 310.9L1066.2 313.8L1066.5 317.4L1066.7 322.0L1067.0 327.5L1067.3 332.7L1067.5 337.6L1067.8 335.6L1068.1 328.1L1068.3 317.0L1068.6 302.9L1068.9 288.8L1069.1 277.8L1069.4 273.8L1069.7 274.2L1070.0 279.6L1070.2 289.7L1070.5 301.0L1070.8 310.9L1071.0 317.8L1071.3 321.1L1071.6 320.9L1071.8 318.3L1072.1 314.4L1072.4 310.2L1072.7 306.5L1072.9 303.7L1073.2 302.1L1073.5 301.7L1073.7 302.7L1074.0 304.8L1074.3 307.6L1074.5 310.5L1074.8 312.6L1075.1 313.0L1075.4 311.5L1075.6 308.4L1075.9 304.7L1076.2 301.8L1076.4 300.9L1076.7 302.5L1077.0 306.3L1077.2 310.9L1077.5 314.6L1077.8 315.8L1078.1 313.7L1078.3 308.7L1078.6 302.2L1078.9 296.0L1079.1 292.2L1079.4 292.0L1079.7 295.6L1079.9 302.4L1080.2 310.9L1080.5 319.3L1080.8 325.9L1081.0 329.6L1081.3 330.0L1081.6 327.2L1081.8 322.1L1082.1 315.4L1082.4 307.9L1082.6 300.5L1082.9 293.7L1083.2 288.2L1083.5 284.8L1083.7 284.1L1084.0 286.5L1084.3 291.8L1084.5 299.1L1084.8 307.0L1085.1 314.0L1085.3 318.8L1085.6 320.9L1085.9 320.8L1086.2 319.4L1086.4 317.5L1086.7 315.8L1087.0 314.1L1087.2 311.6L1087.5 307.9L1087.8 302.6L1088.0 296.6L1088.3 291.2L1088.6 288.1L1088.9 288.8L1089.1 293.7L1089.4 302.0L1089.7 312.0L1089.9 321.2L1090.2 327.3L1090.5 328.9L1090.8 325.5L1091.0 318.0L1091.3 308.2L1091.6 298.4L1091.8 290.9L1092.1 287.1L1092.4 287.6L1092.6 292.0L1092.9 299.2L1093.2 307.3L1093.5 314.5L1093.7 319.6L1094.0 321.9L1094.3 321.8L1094.5 320.2L1094.8 317.8L1095.1 315.1L1095.3 311.7L1095.6 306.8L1095.9 299.9L1096.1 291.4L1096.4 283.2L1096.7 278.0L1097.0 278.6L1097.2 286.7L1097.5 301.6L1097.8 320.1L1098.0 340.8L1098.3 360.3L1098.6 363.9L1098.8 350.8L1099.1 328.0L1099.4 309.3L1099.7 292.2L1099.9 280.7L1100.2 276.6L1100.5 279.5L1100.7 287.3L1101.0 297.2L1101.3 306.5L1101.5 313.5L1101.8 317.6L1102.1 319.2L1102.4 319.2L1102.6 318.2L1102.9 316.8L1103.2 314.9L1103.4 312.3L1103.7 308.7L1104.0 304.2L1104.2 299.0L1104.5 293.9L1104.8 290.1L1105.1 288.5L1105.3 290.0L1105.6 294.8L1105.9 302.4L1106.1 311.3L1106.4 319.8L1106.7 325.9L1107.0 327.9L1107.2 325.2L1107.5 318.2L1107.8 308.6L1108.0 298.8L1108.3 291.5L1108.6 288.7L1108.8 291.1L1109.1 298.0L1109.4 307.2L1109.6 315.8L1109.9 321.2L1110.2 321.8L1110.5 317.8L1110.7 310.7L1111.0 302.9L1111.3 296.7L1111.5 293.6L1111.8 294.0L1112.1 297.5L1112.3 303.2L1112.6 309.9L1112.9 316.5L1113.2 322.1L1113.4 325.6L1113.7 326.1L1114.0 323.0L1114.2 316.2L1114.5 306.9L1114.8 296.7L1115.0 288.0L1115.3 283.0L1115.6 283.0L1115.9 287.8L1116.1 296.1L1116.4 304.9L1116.7 311.6L1116.9 314.2L1117.2 312.4L1117.5 308.1L1117.8 304.2L1118.0 303.7L1118.3 308.0L1118.6 316.2L1118.8 325.2L1119.1 331.1L1119.4 331.1L1119.6 324.9L1119.9 314.5L1120.2 304.0L1120.4 297.1L1120.7 295.7L1121.0 299.3L1121.3 305.4L1121.5 310.9L1121.8 313.2L1122.1 311.6L1122.3 307.0L1122.6 301.6L1122.9 297.7L1123.1 296.9L1123.4 299.1L1123.7 303.2L1124.0 307.1L1124.2 309.0L1124.5 308.0L1124.8 304.5L1125.0 300.5L1125.3 298.3L1125.6 299.7L1125.8 305.0L1126.1 313.0L1126.4 320.8L1126.7 325.6L1126.9 325.5L1127.2 320.7L1127.5 312.8L1127.7 304.7L1128.0 299.0L1128.3 296.8L1128.5 297.6L1128.8 299.9L1129.1 301.7L1129.4 302.1L1129.6 301.3L1129.9 300.4L1130.2 300.7L1130.4 303.0L1130.7 306.7L1131.0 310.8L1131.2 313.5L1131.5 313.9L1131.8 311.7L1132.1 308.0L1132.3 304.0L1132.6 301.4L1132.9 300.9L1133.1 302.9L1133.4 306.7L1133.7 311.1L1133.9 314.8L1134.2 316.6L1134.5 315.8L1134.8 312.4L1135.0 307.3L1135.3 301.8L1135.6 297.9L1135.8 297.2L1136.1 300.3L1136.4 307.0L1136.6 315.4L1136.9 323.0L1137.2 327.2L1137.5 326.2L1137.7 319.8L1138.0 309.4L1138.3 297.5L1138.5 287.2L1138.8 281.0L1139.1 280.2L1139.3 284.8L1139.6 293.5L1139.9 304.3L1140.2 315.1L1140.4 323.8L1140.7 329.3L1141.0 330.9L1141.2 328.6L1141.5 323.1L1141.8 315.7L1142.0 307.5L1142.3 300.0L1142.6 294.1L1142.9 290.4L1143.1 289.0L1143.4 289.7L1143.7 292.0L1143.9 295.4L1144.2 299.4L1144.5 303.6L1144.8 307.6L1145.0 311.4L1145.3 315.0L1145.6 318.5L1145.8 321.7L1146.1 324.3L1146.4 325.7L1146.6 325.1L1146.9 321.8L1147.2 315.5L1147.5 306.5L1147.7 296.1L1148.0 286.4L1148.3 279.6L1148.5 277.7L1148.8 281.6L1149.1 290.9L1149.3 303.5L1149.6 316.4L1149.9 326.2L1150.1 330.6L1150.4 328.4L1150.7 320.7L1151.0 309.8L1151.2 298.9L1151.5 291.0L1151.8 287.9L1152.0 290.1L1152.3 296.5L1152.6 305.3L1152.8 314.2L1153.1 321.2L1153.4 325.1L1153.7 325.5L1153.9 322.9L1154.2 318.4L1154.5 313.1L1154.7 308.0L1155.0 303.7L1155.3 300.5L1155.5 298.3L1155.8 296.9L1156.1 296.3L1156.4 296.8L1156.6 298.4L1156.9 301.5L1157.2 305.7L1157.4 310.4L1157.7 314.5L1158.0 317.1L1158.2 317.6L1158.5 315.7L1158.8 312.1L1159.1 307.6L1159.3 303.0L1159.6 299.2L1159.9 296.4L1160.1 294.8L1160.4 294.4L1160.7 295.6L1160.9 298.5L1161.2 303.3L1161.5 309.8L1161.8 316.9L1162.0 323.2L1162.3 327.0L1162.6 326.9L1162.8 322.6L1163.1 314.9L1163.4 305.7L1163.6 297.5L1163.9 292.6L1164.2 292.3L1164.5 296.2L1164.7 302.7L1165.0 309.3L1165.3 313.6L1165.5 314.3L1165.8 311.4L1166.1 306.2L1166.3 301.0L1166.6 297.7L1166.9 297.6L1167.2 300.9L1167.4 306.8L1167.7 313.9L1168.0 320.6L1168.2 325.6L1168.5 327.6L1168.8 326.0L1169.0 320.7L1169.3 312.2L1169.6 301.9L1169.9 292.1L1170.1 285.2L1170.4 283.0L1170.7 286.4L1170.9 294.4L1171.2 304.9L1171.5 315.1L1171.8 322.1L1172.0 324.2L1172.3 321.4L1172.6 314.9L1172.8 307.0L1173.1 300.3L1173.4 296.6L1173.6 296.6L1173.9 299.5L1174.2 304.0L1174.4 308.4L1174.7 311.3L1175.0 312.3L1175.3 311.8L1175.5 310.7L1175.8 309.9L1176.1 310.0L1176.3 310.8L1176.6 311.5L1176.9 311.3L1177.1 309.5L1177.4 306.3L1177.7 302.5L1178.0 299.3L1178.2 297.7L1178.5 297.8L1178.8 299.2L1179.0 301.0L1179.3 302.1L1179.6 302.5L1179.8 302.8L1180.1 304.3L1180.4 308.1L1180.7 314.6L1180.9 322.7L1181.2 330.2L1181.5 335.7L1181.7 333.5L1182.0 325.7L1182.3 313.0L1182.5 297.9L1182.8 283.8L1183.1 274.7L1183.4 273.0L1183.6 274.5L1183.9 281.6L1184.2 292.8L1184.4 304.9L1184.7 316.3L1185.0 326.1L1185.2 334.4L1185.5 342.4L1185.8 343.7L1186.1 336.7L1186.3 325.8L1186.6 312.6L1186.9 298.0L1187.1 285.4L1187.4 277.7L1187.7 276.5L1187.9 281.4L1188.2 290.0L1188.5 299.4L1188.8 307.3L1189.0 312.6L1189.3 315.8L1189.6 318.3L1189.8 321.4L1190.1 325.1L1190.4 328.4L1190.6 329.3L1190.9 326.0L1191.2 318.1L1191.5 306.9L1191.7 295.0L1192.0 285.8L1192.3 281.8L1192.5 284.0L1192.8 291.0L1193.1 300.4L1193.3 308.9L1193.6 314.2L1193.9 315.4L1194.2 313.0L1194.4 309.1L1194.7 305.6L1195.0 303.9L1195.2 304.1L1195.5 305.5L1195.8 307.0L1196.0 307.6L1196.3 307.3L1196.6 306.8L1196.9 307.2L1197.1 309.3L1197.4 313.1L1197.7 317.5L1197.9 320.6L1198.2 320.6L1198.5 316.7L1198.7 309.1L1199.0 299.7L1199.3 290.8L1199.6 284.5L1199.8 282.2L1200.1 283.9L1200.4 288.8L1200.6 295.5L1200.9 302.9L1201.2 310.2L1201.4 317.0L1201.7 323.0L1202.0 327.5L1202.3 329.8L1202.5 329.1L1202.8 324.9L1203.1 317.4L1203.3 307.8L1203.6 297.8L1203.9 289.4L1204.1 284.5L1204.4 284.1L1204.7 288.5L1205.0 297.0L1205.2 307.7L1205.5 318.5L1205.8 326.7L1206.0 330.6L1206.3 329.2L1206.6 322.9L1206.8 313.2L1207.1 302.5L1207.4 293.3L1207.7 287.4L1207.9 285.9L1208.2 288.7L1208.5 295.0L1208.7 303.4L1209.0 312.2L1209.3 319.9L1209.5 325.0L1209.8 326.9L1210.1 325.0L1210.4 319.9L1210.6 312.5L1210.9 304.5L1211.2 297.5L1211.4 293.0L1211.7 291.8L1212.0 293.7L1212.2 297.8L1212.5 302.4L1212.8 306.3L1213.1 308.5L1213.3 308.8L1213.6 307.8L1213.9 306.3L1214.1 305.3L1214.4 305.3L1214.7 306.4L1214.9 308.4L1215.2 310.8L1215.5 313.4L1215.8 315.6L1216.0 317.3L1216.3 318.1L1216.6 318.0L1216.8 316.9L1217.1 314.8L1217.4 311.6L1217.6 307.4L1217.9 302.4L1218.2 297.1L1218.5 292.3L1218.7 288.8L1219.0 287.9L1219.3 290.2L1219.5 296.0L1219.8 304.3L1220.1 313.7L1220.3 322.1L1220.6 327.6L1220.9 329.0L1221.2 326.5L1221.4 321.0L1221.7 314.5L1222.0 308.6L1222.2 304.6L1222.5 302.5L1222.8 301.6L1223.0 300.8L1223.3 299.1L1223.6 296.2L1223.9 292.9L1224.1 290.2L1224.4 289.4L1224.7 291.4L1224.9 296.1L1225.2 303.0L1225.5 310.8L1225.7 318.4L1226.0 324.8L1226.3 329.0L1226.6 330.5L1226.8 329.0L1227.1 324.3L1227.4 316.9L1227.6 307.7L1227.9 298.3L1228.2 290.7L1228.4 286.5L1228.7 287.0L1229.0 292.3L1229.3 301.1L1229.5 311.3L1229.8 320.2L1230.1 325.5L1230.3 325.7L1230.6 320.9L1230.9 312.5L1231.1 303.0L1231.4 295.3L1231.7 291.5L1232.0 292.4L1232.2 297.2L1232.5 303.9L1232.8 310.0L1233.0 313.4L1233.3 313.0L1233.6 309.2L1233.8 303.6L1234.1 298.6L1234.4 296.2L1234.7 298.0L1234.9 303.9L1235.2 312.4L1235.5 321.1L1235.7 327.0L1236.0 328.1L1236.3 323.5L1236.5 314.3L1236.8 303.1L1237.1 292.9L1237.4 286.4L1237.6 284.8L1237.9 287.8L1238.2 294.1L1238.4 301.7L1238.7 309.3L1239.0 315.8L1239.2 320.5L1239.5 322.6L1239.8 321.5L1240.1 316.8L1240.3 309.1L1240.6 300.0L1240.9 292.3L1241.1 288.5L1241.4 290.3L1241.7 297.3L1241.9 307.4L1242.2 317.2L1242.5 323.7L1242.8 325.2L1243.0 322.0L1243.3 316.3L1243.6 311.0L1243.8 308.4L1244.1 309.4L1244.4 312.9L1244.6 316.5L1244.9 317.1L1245.2 312.9L1245.5 303.6L1245.7 291.1L1246.0 278.7L1246.3 272.7L1246.5 271.5L1246.8 273.8L1247.1 282.3L1247.3 295.1L1247.6 307.4L1247.9 316.8L1248.2 322.4L1248.4 324.7L1248.7 325.0L1249.0 324.4L1249.2 323.7L1249.5 322.6L1249.8 320.7L1250.0 317.5L1250.3 312.8L1250.6 307.3L1250.9 301.9L1251.1 297.9L1251.4 296.0L1251.7 296.7L1251.9 299.6L1252.2 303.8L1252.5 308.2L1252.8 311.8L1253.0 314.1L1253.3 314.9L1253.6 314.5L1253.8 313.1L1254.1 311.0L1254.4 308.1L1254.6 304.6L1254.9 300.9L1255.2 297.8L1255.4 296.2L1255.7 296.8L1256.0 300.0L1256.3 305.2L1256.5 311.4L1256.8 317.0L1257.1 320.4L1257.3 320.5L1257.6 317.1L1257.9 310.9L1258.1 303.6L1258.4 297.2L1258.7 293.5L1259.0 293.6L1259.2 297.7L1259.5 304.3L1259.8 311.3L1260.0 316.3L1260.3 317.1L1260.6 313.4L1260.8 306.0L1261.1 297.0L1261.4 289.3L1261.7 285.4L1261.9 286.6L1262.2 293.0L1262.5 303.0L1262.7 314.3L1263.0 324.5L1263.3 331.2L1263.5 333.5L1263.8 330.3L1264.1 323.3L1264.4 313.9L1264.6 303.9L1264.9 295.3L1265.2 289.7L1265.4 287.6L1265.7 289.2L1266.0 293.8L1266.2 300.2L1266.5 307.0L1266.8 313.0L1267.1 317.1L1267.3 318.6L1267.6 317.6L1267.9 314.6L1268.1 310.6L1268.4 306.9L1268.7 304.4L1268.9 303.6L1269.2 304.6L1269.5 306.5L1269.8 308.6L1270.0 310.2L1270.3 310.8L1270.6 310.4L1270.8 308.9L1271.1 306.5L1271.4 303.2L1271.6 299.2L1271.9 295.1L1272.2 291.9L1272.5 290.9L1272.7 293.2L1273.0 299.0L1273.3 307.9L1273.5 318.0L1273.8 326.9L1274.1 332.3L1274.3 333.2L1274.6 329.0L1274.9 321.6L1275.2 313.2L1275.4 305.8L1275.7 300.7L1276.0 297.8L1276.2 296.2L1276.5 294.9L1276.8 293.3L1277.0 291.6L1277.3 291.1L1277.6 292.7L1277.9 296.9L1278.1 303.1L1278.4 310.0L1278.7 315.8L1278.9 319.4L1279.2 320.3L1279.5 319.1L1279.7 316.8L1280.0 314.3L1280.3 312.3L1280.6 310.3L1280.8 307.6L1281.1 303.6L1281.4 298.3L1281.6 292.5L1281.9 287.9L1282.2 286.5L1282.4 289.6L1282.7 297.2L1283.0 308.0L1283.3 319.3L1283.5 328.4L1283.8 332.7L1284.1 331.1L1284.3 324.4L1284.6 314.5L1284.9 304.1L1285.1 296.1L1285.4 292.2L1285.7 292.9L1286.0 297.4L1286.2 303.9L1286.5 309.8L1286.8 313.0L1287.0 312.4L1287.3 307.9L1287.6 301.2L1287.8 294.6L1288.1 290.8L1288.4 291.5L1288.7 297.0L1288.9 305.9L1289.2 315.7L1289.5 323.8L1289.7 328.0L1290.0 327.7L1290.3 323.7L1290.5 317.6L1290.8 311.3L1291.1 306.1L1291.4 302.5L1291.6 300.3L1291.9 299.1L1292.2 298.1L1292.4 297.1L1292.7 296.2L1293.0 295.8L1293.2 296.4L1293.5 298.5L1293.8 302.5L1294.1 308.0L1294.3 314.0L1294.6 319.1L1294.9 322.0L1295.1 321.4L1295.4 317.4L1295.7 310.9L1295.9 304.0L1296.2 299.0L1296.5 297.6L1296.8 300.3L1297.0 305.8" stroke="#00c8c8" stroke-width="0.65"/>
<line x1="326" y1="322" x2="1296.6" y2="322" stroke="#0000ff" stroke-width="4.6" stroke-linecap="round"/>
<path d="M325.3 467.0L325.6 492.3L325.8 527.7L326.1 532.7L326.4 512.4L326.6 494.4L326.9 490.1L327.2 494.1L327.5 501.0L327.7 510.4L328.0 523.4L328.3 538.1L328.5 542.9L328.8 528.6L329.1 504.3L329.4 489.1L329.6 493.3L329.9 508.7L330.2 512.7L330.4 492.8L330.7 474.4L331.0 479.9L331.2 490.3L331.5 487.9L331.8 492.1L332.0 516.2L332.3 536.2L332.6 531.0L332.9 509.1L333.1 505.3L333.4 541.0L333.7 566.0L333.9 529.1L334.2 475.0L334.5 466.7L334.8 491.0L335.0 504.6L335.3 508.5L335.6 519.6L335.8 523.1L336.1 502.2L336.4 475.3L336.6 474.3L336.9 499.7L337.2 522.3L337.5 524.0L337.7 511.5L338.0 497.1L338.3 489.6L338.5 492.6L338.8 499.9L339.1 502.6L339.3 499.6L339.6 498.7L339.9 510.0L340.1 528.7L340.4 534.9L340.7 526.2L341.0 522.7L341.2 529.8L341.5 530.4L341.8 518.9L342.0 508.0L342.3 499.7L342.6 489.9L342.9 486.2L343.1 492.7L343.4 498.5L343.7 493.8L343.9 486.8L344.2 493.4L344.5 510.7L344.7 522.2L345.0 523.7L345.3 518.8L345.6 509.9L345.8 504.7L346.1 506.8L346.4 510.2L346.6 511.5L346.9 503.2L347.2 480.4L347.4 465.6L347.7 482.0L348.0 516.1L348.2 538.1L348.5 537.4L348.8 524.3L349.1 512.9L349.3 505.4L349.6 495.5L349.9 487.8L350.1 491.7L350.4 502.5L350.7 510.1L351.0 510.7L351.2 505.2L351.5 501.8L351.8 507.8L352.0 515.1L352.3 507.8L352.6 491.4L352.8 490.4L353.1 508.7L353.4 522.3L353.6 516.5L353.9 504.9L354.2 505.9L354.5 516.9L354.7 520.4L355.0 512.1L355.3 500.7L355.5 492.4L355.8 493.3L356.1 508.1L356.4 521.8L356.6 513.5L356.9 495.9L357.2 495.3L357.4 504.3L357.7 503.0L358.0 497.9L358.2 502.9L358.5 514.2L358.8 520.5L359.1 520.8L359.3 517.1L359.6 508.5L359.9 500.6L360.1 496.0L360.4 488.6L360.7 486.0L360.9 500.7L361.2 517.2L361.5 516.6L361.8 511.0L362.0 511.6L362.3 506.9L362.6 495.5L362.8 489.3L363.1 490.3L363.4 498.4L363.6 512.9L363.9 521.3L364.2 519.7L364.4 520.4L364.7 523.8L365.0 517.8L365.3 504.9L365.5 496.8L365.8 495.7L366.1 495.9L366.3 494.6L366.6 495.8L366.9 501.9L367.1 506.4L367.4 509.1L367.7 518.0L368.0 525.7L368.2 519.3L368.5 501.4L368.8 485.4L369.0 486.4L369.3 505.1L369.6 520.0L369.9 518.6L370.1 515.7L370.4 519.2L370.7 516.9L370.9 501.9L371.2 482.9L371.5 475.7L371.7 486.6L372.0 504.3L372.3 512.4L372.5 508.0L372.8 502.0L373.1 507.3L373.4 521.7L373.6 529.7L373.9 529.8L374.2 530.7L374.4 521.6L374.7 492.6L375.0 463.7L375.2 461.8L375.5 487.1L375.8 514.9L376.1 522.8L376.3 515.8L376.6 515.1L376.9 522.0L377.1 519.1L377.4 505.3L377.7 495.0L377.9 495.8L378.2 507.6L378.5 524.6L378.8 535.0L379.0 531.3L379.3 511.0L379.6 480.3L379.8 455.8L380.1 460.7L380.4 494.6L380.6 522.8L380.9 523.3L381.2 512.0L381.5 505.3L381.7 501.9L382.0 493.2L382.3 482.7L382.5 488.6L382.8 512.3L383.1 533.5L383.4 545.2L383.6 554.6L383.9 549.9L384.2 518.2L384.4 478.4L384.7 455.9L385.0 458.6L385.2 486.7L385.5 521.5L385.8 525.6L386.1 500.9L386.3 490.3L386.6 497.8L386.9 495.7L387.1 497.3L387.4 522.3L387.7 540.9L387.9 526.1L388.2 499.9L388.5 494.1L388.8 512.9L389.0 541.9L389.3 559.9L389.6 544.8L389.8 499.8L390.1 461.6L390.4 456.9L390.6 478.4L390.9 505.2L391.2 513.0L391.4 492.9L391.7 476.7L392.0 505.2L392.3 557.7L392.5 569.7L392.8 533.4L393.1 504.6L393.3 506.6L393.6 502.9L393.9 471.7L394.1 444.7L394.4 453.5L394.7 486.8L395.0 522.5L395.2 546.3L395.5 547.4L395.8 530.1L396.0 514.3L396.3 516.0L396.6 521.6L396.9 506.3L397.1 483.9L397.4 480.4L397.7 480.9L397.9 472.9L398.2 478.2L398.5 500.1L398.7 523.0L399.0 546.0L399.3 556.5L399.5 539.4L399.8 516.2L400.1 508.9L400.4 509.1L400.6 502.3L400.9 489.4L401.2 489.0L401.4 511.6L401.7 538.5L402.0 538.9L402.2 507.4L402.5 472.0L402.8 452.0L403.1 443.3L403.3 457.1L403.6 506.4L403.9 558.2L404.1 571.9L404.4 555.7L404.7 536.8L405.0 524.3L405.2 513.8L405.5 500.0L405.8 490.8L406.0 488.9L406.3 476.0L406.6 454.6L406.8 451.0L407.1 471.8L407.4 498.9L407.6 521.6L407.9 549.5L408.2 571.7L408.5 559.2L408.7 522.1L409.0 489.2L409.3 473.6L409.5 488.1L409.8 527.2L410.1 549.2L410.4 527.9L410.6 492.1L410.9 480.2L411.2 490.6L411.4 505.0L411.7 518.8L412.0 530.5L412.2 531.9L412.5 513.2L412.8 486.2L413.1 491.4L413.3 529.9L413.6 535.7L413.9 492.1L414.1 471.7L414.4 508.7L414.7 555.5L414.9 562.4L415.2 525.3L415.5 481.2L415.8 466.0L416.0 474.5L416.3 481.8L416.6 487.6L416.8 504.2L417.1 518.4L417.4 511.6L417.6 501.4L417.9 516.8L418.2 532.9L418.4 507.9L418.7 470.5L419.0 464.8L419.3 486.3L419.5 513.7L419.8 532.3L420.1 531.6L420.3 517.8L420.6 503.2L420.9 495.3L421.2 498.1L421.4 509.8L421.7 518.4L422.0 516.9L422.2 506.6L422.5 494.7L422.8 494.5L423.0 512.3L423.3 526.4L423.6 519.2L423.8 503.0L424.1 492.3L424.4 489.8L424.7 495.7L424.9 504.9L425.2 507.9L425.5 505.4L425.7 504.7L426.0 504.7L426.3 500.4L426.6 502.9L426.8 524.9L427.1 549.6L427.4 548.1L427.6 525.0L427.9 513.9L428.2 517.5L428.4 508.0L428.7 489.9L429.0 487.2L429.2 493.0L429.5 496.7L429.8 505.5L430.1 515.4L430.3 512.9L430.6 500.2L430.9 490.8L431.1 493.2L431.4 506.1L431.7 521.2L431.9 526.7L432.2 523.0L432.5 523.6L432.8 521.8L433.0 505.3L433.3 494.1L433.6 502.4L433.8 509.7L434.1 505.2L434.4 503.8L434.6 510.7L434.9 511.7L435.2 499.2L435.5 486.2L435.7 486.9L436.0 498.4L436.3 509.9L436.5 513.9L436.8 508.7L437.1 502.6L437.4 504.6L437.6 513.1L437.9 519.4L438.2 516.3L438.4 506.4L438.7 501.5L439.0 501.6L439.2 499.9L439.5 503.4L439.8 516.0L440.0 517.9L440.3 499.5L440.6 485.2L440.9 494.2L441.1 507.8L441.4 499.6L441.7 480.9L441.9 485.7L442.2 512.9L442.5 529.1L442.8 521.9L443.0 504.1L443.3 490.5L443.6 490.6L443.8 501.9L444.1 517.6L444.4 530.9L444.6 532.3L444.9 519.3L445.2 503.1L445.5 499.3L445.7 506.9L446.0 509.0L446.3 503.9L446.5 502.6L446.8 501.8L447.1 495.1L447.3 490.2L447.6 496.1L447.9 511.8L448.1 528.2L448.4 529.9L448.7 513.0L449.0 494.4L449.2 490.2L449.5 497.9L449.8 506.3L450.0 507.4L450.3 499.7L450.6 491.9L450.9 496.9L451.1 513.9L451.4 528.4L451.7 533.5L451.9 533.2L452.2 523.9L452.5 501.3L452.7 483.1L453.0 485.5L453.3 497.8L453.6 502.8L453.8 499.2L454.1 496.4L454.4 503.3L454.6 519.3L454.9 527.9L455.2 520.6L455.4 514.6L455.7 519.3L456.0 517.5L456.3 502.3L456.5 492.6L456.8 499.7L457.1 508.9L457.3 504.7L457.6 493.6L457.9 492.3L458.1 502.3L458.4 513.5L458.7 520.8L458.9 522.6L459.2 518.5L459.5 514.0L459.8 513.4L460.0 513.2L460.3 508.6L460.6 498.5L460.8 489.5L461.1 491.2L461.4 496.3L461.6 492.3L461.9 487.1L462.2 491.6L462.5 503.9L462.7 518.6L463.0 529.1L463.3 528.5L463.5 518.1L463.8 509.6L464.1 508.6L464.4 503.6L464.6 487.9L464.9 478.1L465.2 487.1L465.4 505.0L465.7 517.1L466.0 517.7L466.2 512.5L466.5 508.8L466.8 506.8L467.1 506.7L467.3 511.0L467.6 513.1L467.9 508.0L468.1 503.5L468.4 501.9L468.7 495.2L468.9 485.9L469.2 489.5L469.5 506.8L469.7 519.2L470.0 519.3L470.3 522.9L470.6 534.6L470.8 534.5L471.1 519.3L471.4 507.4L471.6 500.4L471.9 487.9L472.2 478.6L472.5 487.6L472.7 509.4L473.0 523.1L473.3 518.7L473.5 507.8L473.8 504.5L474.1 508.2L474.3 511.3L474.6 509.1L474.9 502.2L475.1 499.2L475.4 506.6L475.7 515.0L476.0 514.9L476.2 513.3L476.5 516.4L476.8 516.1L477.0 507.7L477.3 499.7L477.6 497.5L477.8 496.1L478.1 492.3L478.4 491.7L478.7 497.7L478.9 505.2L479.2 509.0L479.5 510.5L479.7 513.8L480.0 518.2L480.3 517.5L480.6 509.8L480.8 500.4L481.1 494.0L481.4 494.0L481.6 505.7L481.9 525.2L482.2 537.3L482.4 535.6L482.7 523.7L483.0 502.8L483.2 484.5L483.5 486.6L483.8 503.3L484.1 514.1L484.3 509.9L484.6 493.8L484.9 479.8L485.1 485.8L485.4 507.0L485.7 519.6L485.9 516.5L486.2 511.2L486.5 511.4L486.8 508.3L487.0 496.2L487.3 487.1L487.6 489.9L487.8 496.4L488.1 501.1L488.4 510.0L488.7 524.4L488.9 532.3L489.2 523.9L489.5 508.9L489.7 501.8L490.0 502.0L490.3 504.0L490.5 505.7L490.8 506.1L491.1 507.5L491.4 512.3L491.6 516.1L491.9 513.2L492.2 505.0L492.4 496.4L492.7 490.4L493.0 491.0L493.2 499.1L493.5 506.9L493.8 508.9L494.0 508.9L494.3 507.5L494.6 501.6L494.9 493.7L495.1 492.8L495.4 505.8L495.7 523.8L495.9 530.5L496.2 518.2L496.5 500.6L496.8 499.9L497.0 512.3L497.3 516.7L497.6 513.2L497.8 514.7L498.1 514.9L498.4 502.7L498.6 488.9L498.9 488.0L499.2 496.6L499.4 508.2L499.7 521.2L500.0 526.1L500.3 515.6L500.5 503.3L500.8 507.8L501.1 519.3L501.3 509.4L501.6 480.8L501.9 464.1L502.1 473.6L502.4 503.2L502.7 528.7L503.0 531.9L503.2 524.3L503.5 514.6L503.8 503.0L504.0 499.5L504.3 504.9L504.6 509.3L504.9 509.4L505.1 507.6L505.4 506.7L505.7 509.0L505.9 511.7L506.2 511.0L506.5 505.2L506.7 496.3L507.0 493.1L507.3 499.8L507.6 508.3L507.8 513.5L508.1 516.0L508.4 515.2L508.6 511.3L508.9 506.5L509.2 502.9L509.4 508.9L509.7 527.5L510.0 538.5L510.2 525.3L510.5 500.0L510.8 482.9L511.1 480.8L511.3 487.9L511.6 494.9L511.9 499.9L512.1 507.7L512.4 516.7L512.7 518.8L513.0 511.4L513.2 503.9L513.5 503.7L513.8 508.2L514.0 509.5L514.3 501.0L514.6 492.2L514.8 499.4L515.1 517.6L515.4 526.8L515.6 520.0L515.9 507.0L516.2 495.2L516.5 487.6L516.7 490.7L517.0 503.5L517.3 508.6L517.5 498.3L517.8 493.6L518.1 511.1L518.3 534.8L518.6 540.5L518.9 528.0L519.2 508.8L519.4 485.2L519.7 468.0L520.0 475.2L520.2 495.4L520.5 503.1L520.8 505.8L521.0 524.9L521.3 543.1L521.6 537.7L521.9 520.8L522.1 505.0L522.4 495.1L522.7 495.3L522.9 496.6L523.2 494.4L523.5 497.0L523.8 506.2L524.0 515.7L524.3 517.6L524.6 510.6L524.8 505.1L525.1 506.2L525.4 507.4L525.6 506.7L525.9 506.4L526.2 502.7L526.4 492.9L526.7 484.1L527.0 485.8L527.3 498.0L527.5 514.7L527.8 527.4L528.1 524.8L528.3 507.2L528.6 496.9L528.9 504.6L529.2 511.2L529.4 510.7L529.7 520.0L530.0 537.2L530.2 542.4L530.5 527.3L530.8 506.8L531.0 506.4L531.3 521.2L531.6 517.1L531.9 492.2L532.1 476.6L532.4 481.7L532.7 494.9L532.9 505.9L533.2 512.6L533.5 513.8L533.7 512.3L534.0 514.3L534.3 517.4L534.5 511.5L534.8 499.2L535.1 495.3L535.4 502.4L535.6 509.3L535.9 510.4L536.2 508.0L536.4 503.2L536.7 497.5L537.0 498.4L537.2 508.4L537.5 519.6L537.8 524.3L538.1 520.1L538.3 508.6L538.6 494.0L538.9 483.9L539.1 489.8L539.4 510.0L539.7 525.5L540.0 524.5L540.2 513.9L540.5 508.7L540.8 511.8L541.0 509.2L541.3 498.5L541.6 496.6L541.8 510.3L542.1 528.4L542.4 535.6L542.6 528.6L542.9 518.0L543.2 510.9L543.5 504.0L543.7 495.8L544.0 487.4L544.3 481.8L544.5 487.6L544.8 499.0L545.1 499.0L545.4 491.6L545.6 492.2L545.9 501.2L546.2 510.4L546.4 515.7L546.7 515.3L547.0 508.5L547.2 500.5L547.5 499.7L547.8 505.0L548.0 508.2L548.3 509.5L548.6 513.3L548.9 517.9L549.1 517.7L549.4 511.6L549.7 507.7L549.9 512.0L550.2 511.9L550.5 497.4L550.8 489.0L551.0 494.4L551.3 491.8L551.6 484.2L551.8 493.6L552.1 513.4L552.4 523.2L552.6 519.0L552.9 509.6L553.2 504.2L553.5 506.1L553.7 512.1L554.0 515.8L554.3 512.9L554.5 505.1L554.8 497.2L555.1 496.0L555.3 504.0L555.6 509.7L555.9 502.3L556.1 492.2L556.4 498.0L556.7 516.2L557.0 526.1L557.2 519.0L557.5 505.1L557.8 498.7L558.0 499.4L558.3 496.3L558.6 489.7L558.8 489.9L559.1 500.4L559.4 515.9L559.7 527.7L559.9 531.2L560.2 531.3L560.5 529.4L560.7 514.0L561.0 487.2L561.3 471.8L561.5 475.8L561.8 490.5L562.1 510.2L562.4 524.0L562.6 524.6L562.9 520.1L563.2 514.3L563.4 503.8L563.7 492.7L564.0 488.6L564.2 493.9L564.5 507.4L564.8 521.7L565.1 525.8L565.3 517.8L565.6 508.3L565.9 503.0L566.1 498.9L566.4 497.2L566.7 497.8L566.9 497.1L567.2 498.3L567.5 503.7L567.8 507.4L568.0 506.0L568.3 501.4L568.6 500.5L568.8 510.8L569.1 524.8L569.4 529.1L569.7 522.2L569.9 512.1L570.2 505.7L570.5 500.6L570.7 492.0L571.0 487.0L571.3 493.1L571.5 506.1L571.8 518.8L572.1 522.0L572.3 510.3L572.6 496.1L572.9 495.2L573.2 502.2L573.4 500.0L573.7 489.7L574.0 491.4L574.2 507.8L574.5 516.8L574.8 508.2L575.0 498.9L575.3 501.9L575.6 508.0L575.9 507.4L576.1 506.1L576.4 510.6L576.7 517.1L576.9 518.3L577.2 511.5L577.5 501.1L577.8 494.8L578.0 494.4L578.3 498.3L578.6 507.8L578.8 520.3L579.1 521.9L579.4 507.6L579.6 495.0L579.9 494.9L580.2 498.1L580.5 501.3L580.7 507.6L581.0 514.7L581.3 519.1L581.5 519.0L581.8 518.0L582.1 518.3L582.3 512.8L582.6 500.6L582.9 490.5L583.1 485.9L583.4 485.3L583.7 489.5L584.0 502.5L584.2 523.6L584.5 539.5L584.8 540.2L585.0 531.1L585.3 513.9L585.6 489.6L585.8 474.4L586.1 482.0L586.4 504.9L586.7 523.8L586.9 525.4L587.2 514.3L587.5 504.5L587.7 502.9L588.0 505.3L588.3 505.3L588.5 501.4L588.8 498.5L589.1 499.5L589.4 499.0L589.6 497.4L589.9 503.7L590.2 513.9L590.4 519.2L590.7 520.3L591.0 513.1L591.2 496.2L591.5 480.1L591.8 472.6L592.1 474.2L592.3 482.9L592.6 502.1L592.9 530.8L593.1 551.3L593.4 551.6L593.7 534.1L594.0 505.1L594.2 486.1L594.5 491.7L594.8 501.9L595.0 500.4L595.3 502.1L595.6 512.8L595.8 517.5L596.1 513.8L596.4 510.8L596.6 508.2L596.9 506.3L597.2 509.1L597.5 508.8L597.7 501.9L598.0 501.3L598.3 508.0L598.5 510.4L598.8 510.0L599.1 511.1L599.4 511.7L599.6 508.9L599.9 502.2L600.2 496.5L600.4 497.9L600.7 506.7L601.0 513.6L601.2 509.8L601.5 501.8L601.8 502.1L602.0 509.8L602.3 512.7L602.6 506.9L602.9 501.1L603.1 501.1L603.4 503.5L603.7 506.0L603.9 509.1L604.2 509.2L604.5 506.0L604.8 507.5L605.0 515.5L605.3 517.5L605.6 506.7L605.8 494.8L606.1 494.0L606.4 500.6L606.6 504.5L606.9 505.6L607.2 508.1L607.5 507.8L607.7 501.5L608.0 498.6L608.3 505.0L608.5 511.7L608.8 507.7L609.1 498.6L609.3 502.6L609.6 516.8L609.9 520.2L610.1 512.8L610.4 507.3L610.7 509.3L611.0 514.6L611.2 509.6L611.5 500.3L611.8 503.1L612.0 508.9L612.3 508.2L612.6 511.0L612.8 516.8L613.1 512.8L613.4 499.8L613.7 490.9L613.9 491.3L614.2 495.2L614.5 500.3L614.7 506.7L615.0 509.5L615.3 506.3L615.5 503.1L615.8 506.3L616.1 512.7L616.4 513.2L616.6 509.1L616.9 509.9L617.2 516.7L617.4 523.0L617.7 526.4L618.0 525.8L618.2 516.9L618.5 500.0L618.8 484.3L619.1 478.0L619.3 479.6L619.6 487.0L619.9 503.0L620.1 520.7L620.4 524.7L620.7 514.5L621.0 504.1L621.2 501.2L621.5 508.3L621.8 523.7L622.0 532.0L622.3 520.4L622.6 500.1L622.8 489.4L623.1 490.8L623.4 493.4L623.7 489.2L623.9 484.5L624.2 491.3L624.5 504.6L624.7 508.3L625.0 506.6L625.3 512.3L625.5 519.2L625.8 520.6L626.1 521.4L626.3 517.9L626.6 507.0L626.9 500.7L627.2 502.7L627.4 503.2L627.7 502.0L628.0 504.5L628.2 508.2L628.5 508.6L628.8 505.8L629.0 503.3L629.3 504.5L629.6 508.2L629.9 510.0L630.1 509.0L630.4 510.1L630.7 514.8L630.9 514.2L631.2 505.2L631.5 499.6L631.8 500.4L632.0 501.5L632.3 508.9L632.6 520.7L632.8 523.3L633.1 518.5L633.4 515.8L633.6 511.8L633.9 505.7L634.2 504.3L634.5 506.0L634.7 504.1L635.0 497.9L635.3 492.0L635.5 492.0L635.8 500.5L636.1 514.8L636.3 528.6L636.6 533.0L636.9 520.2L637.1 498.4L637.4 489.1L637.7 496.4L638.0 500.4L638.2 494.1L638.5 496.8L638.8 511.4L639.0 520.2L639.3 522.4L639.6 526.1L639.9 527.2L640.1 518.9L640.4 505.1L640.7 495.9L640.9 494.2L641.2 495.3L641.5 498.4L641.7 504.2L642.0 508.1L642.3 507.4L642.5 506.8L642.8 509.8L643.1 513.2L643.4 513.0L643.6 509.6L643.9 503.6L644.2 492.6L644.4 482.8L644.7 489.0L645.0 509.5L645.2 525.1L645.5 524.4L645.8 512.1L646.1 502.8L646.3 504.4L646.6 509.3L646.9 509.4L647.1 508.9L647.4 513.1L647.7 515.0L648.0 508.4L648.2 501.3L648.5 501.0L648.8 500.0L649.0 492.3L649.3 488.3L649.6 496.1L649.8 507.9L650.1 514.6L650.4 515.8L650.6 516.7L650.9 518.6L651.2 517.5L651.5 509.9L651.7 496.4L652.0 489.3L652.3 499.1L652.5 512.8L652.8 512.5L653.1 504.5L653.3 506.3L653.6 518.5L653.9 523.8L654.2 512.0L654.4 494.7L654.7 487.7L655.0 491.1L655.2 493.2L655.5 491.9L655.8 499.3L656.0 516.4L656.3 525.8L656.6 520.0L656.9 511.7L657.1 509.7L657.4 506.9L657.7 503.6L657.9 508.4L658.2 511.4L658.5 502.8L658.8 496.7L659.0 503.0L659.3 510.0L659.6 510.9L659.8 511.8L660.1 517.0L660.4 519.2L660.6 510.8L660.9 496.8L661.2 489.0L661.5 490.4L661.7 493.8L662.0 494.4L662.3 494.9L662.5 499.3L662.8 509.3L663.1 521.0L663.3 528.7L663.6 529.8L663.9 523.4L664.2 511.9L664.4 499.9L664.7 485.0L665.0 468.6L665.2 466.2L665.5 486.9L665.8 519.8L666.0 543.5L666.3 538.0L666.6 502.6L666.8 469.5L667.1 476.7L667.4 510.0L667.7 524.4L667.9 520.2L668.2 518.1L668.5 514.4L668.7 509.7L669.0 511.8L669.3 512.6L669.5 505.7L669.8 500.1L670.1 503.0L670.4 510.2L670.6 512.6L670.9 507.9L671.2 504.2L671.4 509.3L671.7 521.6L672.0 531.7L672.2 529.2L672.5 513.0L672.8 495.4L673.1 485.7L673.3 480.9L673.6 484.2L673.9 499.5L674.1 510.3L674.4 505.6L674.7 502.7L675.0 515.9L675.2 536.2L675.5 544.4L675.8 533.0L676.0 515.3L676.3 505.7L676.6 503.2L676.8 500.7L677.1 497.8L677.4 497.5L677.7 499.0L677.9 500.2L678.2 502.7L678.5 507.6L678.7 512.0L679.0 513.0L679.3 513.1L679.5 515.1L679.8 514.6L680.1 508.9L680.3 501.7L680.6 494.8L680.9 488.3L681.2 487.8L681.4 493.7L681.7 498.1L682.0 503.0L682.2 516.4L682.5 529.6L682.8 531.8L683.0 526.1L683.3 513.8L683.6 497.3L683.9 488.7L684.1 489.9L684.4 493.7L684.7 501.8L684.9 513.2L685.2 517.7L685.5 513.8L685.8 507.6L686.0 498.3L686.3 489.4L686.6 493.7L686.8 508.6L687.1 518.3L687.4 519.8L687.6 516.7L687.9 511.1L688.2 508.8L688.5 509.7L688.7 508.1L689.0 505.1L689.3 504.7L689.5 507.5L689.8 508.9L690.1 504.6L690.3 501.2L690.6 504.5L690.9 509.7L691.1 516.9L691.4 522.4L691.7 516.3L692.0 504.7L692.2 499.0L692.5 495.5L692.8 492.1L693.0 497.0L693.3 506.9L693.6 508.8L693.8 504.6L694.1 504.6L694.4 509.0L694.7 513.0L694.9 514.4L695.2 512.3L695.5 509.1L695.7 508.7L696.0 507.9L696.3 502.7L696.5 498.7L696.8 503.3L697.1 508.7L697.4 501.2L697.6 488.9L697.9 490.0L698.2 502.0L698.4 511.7L698.7 516.3L699.0 517.0L699.2 510.9L699.5 498.3L699.8 489.6L700.1 496.9L700.3 511.2L700.6 515.5L700.9 515.7L701.1 521.0L701.4 521.5L701.7 507.0L702.0 486.8L702.2 482.4L702.5 496.5L702.8 506.6L703.0 508.2L703.3 518.3L703.6 530.2L703.8 531.6L704.1 532.2L704.4 531.5L704.7 513.1L704.9 485.2L705.2 473.5L705.5 482.5L705.7 498.2L706.0 509.6L706.3 512.8L706.5 508.7L706.8 502.2L707.1 500.6L707.3 503.3L707.6 505.3L707.9 506.7L708.2 509.9L708.4 512.7L708.7 512.3L709.0 509.5L709.2 504.6L709.5 497.1L709.8 491.4L710.0 491.7L710.3 494.1L710.6 494.6L710.9 499.9L711.1 511.8L711.4 520.6L711.7 521.2L711.9 519.4L712.2 521.3L712.5 521.9L712.8 514.2L713.0 505.3L713.3 503.9L713.6 502.6L713.8 496.8L714.1 495.2L714.4 501.1L714.6 509.2L714.9 515.2L715.2 516.0L715.4 510.9L715.7 504.8L716.0 501.0L716.3 498.5L716.5 499.9L716.8 505.2L717.1 506.4L717.3 501.0L717.6 499.1L717.9 508.4L718.2 522.0L718.4 527.3L718.7 519.5L719.0 503.9L719.2 491.9L719.5 491.5L719.8 500.7L720.0 509.8L720.3 511.8L720.6 509.7L720.9 509.9L721.1 509.4L721.4 504.0L721.7 499.4L721.9 501.2L722.2 502.1L722.5 495.1L722.7 491.7L723.0 501.2L723.3 511.8L723.5 514.0L723.8 514.9L724.1 517.8L724.4 518.0L724.6 518.0L724.9 519.1L725.2 513.7L725.4 501.9L725.7 494.3L726.0 496.0L726.2 503.8L726.5 510.4L726.8 508.8L727.1 503.0L727.3 506.7L727.6 520.1L727.9 525.7L728.1 516.5L728.4 504.5L728.7 500.0L729.0 500.4L729.2 501.1L729.5 501.5L729.8 498.2L730.0 489.0L730.3 483.8L730.6 494.1L730.8 514.0L731.1 525.1L731.4 520.5L731.6 511.7L731.9 507.0L732.2 503.3L732.5 499.1L732.7 502.1L733.0 513.0L733.3 515.7L733.5 503.6L733.8 497.2L734.1 510.6L734.3 527.7L734.6 527.8L734.9 511.2L735.2 493.9L735.4 489.0L735.7 494.9L736.0 501.3L736.2 503.3L736.5 505.2L736.8 508.6L737.0 512.0L737.3 516.8L737.6 522.1L737.9 516.4L738.1 495.9L738.4 483.8L738.7 498.3L738.9 519.2L739.2 525.0L739.5 519.4L739.8 508.2L740.0 494.3L740.3 487.7L740.6 490.5L740.8 494.3L741.1 494.7L741.4 495.5L741.6 506.2L741.9 525.6L742.2 535.7L742.5 530.2L742.7 520.9L743.0 512.2L743.3 502.6L743.5 495.8L743.8 495.4L744.1 502.8L744.3 513.9L744.6 517.7L744.9 509.2L745.2 498.1L745.4 494.3L745.7 496.1L746.0 497.7L746.2 502.0L746.5 513.7L746.8 522.7L747.0 514.5L747.3 497.0L747.6 491.3L747.8 498.6L748.1 504.4L748.4 506.1L748.7 507.1L748.9 504.3L749.2 501.3L749.5 505.4L749.7 512.6L750.0 515.9L750.3 514.6L750.5 511.7L750.8 509.3L751.1 506.9L751.4 503.1L751.6 498.0L751.9 496.0L752.2 501.6L752.4 512.8L752.7 521.7L753.0 520.7L753.2 509.1L753.5 496.3L753.8 495.4L754.1 504.6L754.3 510.8L754.6 511.1L754.9 510.7L755.1 507.4L755.4 497.0L755.7 485.8L755.9 487.4L756.2 507.2L756.5 528.3L756.8 530.3L757.0 516.1L757.3 500.8L757.6 492.5L757.8 493.6L758.1 500.9L758.4 509.6L758.7 515.9L758.9 516.2L759.2 512.2L759.5 508.8L759.7 505.1L760.0 501.4L760.3 502.5L760.5 506.7L760.8 506.6L761.1 501.3L761.4 498.3L761.6 503.9L761.9 513.4L762.2 517.6L762.4 515.6L762.7 512.7L763.0 511.3L763.2 512.6L763.5 515.4L763.8 512.1L764.0 500.0L764.3 489.0L764.6 486.3L764.9 490.9L765.1 501.8L765.4 512.5L765.7 511.6L765.9 501.1L766.2 494.3L766.5 496.4L766.8 503.1L767.0 507.4L767.3 508.1L767.6 510.7L767.8 514.5L768.1 511.4L768.4 502.0L768.6 499.8L768.9 509.8L769.2 515.6L769.5 507.3L769.7 500.6L770.0 508.2L770.3 522.0L770.5 530.7L770.8 527.2L771.1 509.7L771.3 491.6L771.6 486.1L771.9 487.9L772.1 492.1L772.4 502.2L772.7 509.9L773.0 506.3L773.2 503.1L773.5 509.7L773.8 517.0L774.0 519.6L774.3 518.6L774.6 512.8L774.8 507.2L775.1 507.3L775.4 508.7L775.7 508.2L775.9 508.6L776.2 508.8L776.5 504.3L776.7 495.2L777.0 487.1L777.3 488.7L777.5 502.6L777.8 516.5L778.1 518.8L778.4 517.7L778.6 520.6L778.9 519.5L779.2 512.7L779.4 508.9L779.7 506.1L780.0 499.3L780.2 493.7L780.5 493.5L780.8 497.9L781.1 505.9L781.3 513.2L781.6 514.5L781.9 508.9L782.1 500.7L782.4 496.5L782.7 498.2L783.0 502.1L783.2 504.4L783.5 506.3L783.8 510.4L784.0 512.3L784.3 510.7L784.6 513.2L784.8 519.7L785.1 521.2L785.4 515.5L785.7 508.8L785.9 500.8L786.2 488.2L786.5 480.2L786.7 487.2L787.0 503.4L787.3 515.2L787.5 517.5L787.8 517.7L788.1 523.2L788.3 528.4L788.6 520.4L788.9 496.9L789.2 477.3L789.4 478.9L789.7 492.2L790.0 502.3L790.2 507.6L790.5 511.2L790.8 511.6L791.0 505.3L791.3 495.3L791.6 492.9L791.9 504.4L792.1 518.7L792.4 520.6L792.7 513.7L792.9 509.5L793.2 510.4L793.5 513.2L793.8 516.0L794.0 517.0L794.3 513.1L794.6 505.6L794.8 501.1L795.1 500.9L795.4 501.4L795.6 503.9L795.9 510.4L796.2 515.5L796.4 513.1L796.7 505.3L797.0 498.9L797.3 495.1L797.5 491.4L797.8 489.1L798.1 493.2L798.3 501.0L798.6 502.7L798.9 500.2L799.2 506.0L799.4 516.1L799.7 513.8L800.0 502.5L800.2 503.3L800.5 516.1L800.8 520.6L801.0 515.7L801.3 513.0L801.6 508.0L801.9 496.8L802.1 492.5L802.4 502.8L802.7 515.4L802.9 518.2L803.2 512.5L803.5 507.4L803.7 509.1L804.0 512.1L804.3 507.1L804.5 496.8L804.8 493.0L805.1 499.6L805.4 507.4L805.6 509.5L805.9 512.9L806.2 519.6L806.4 518.5L806.7 510.5L807.0 507.7L807.2 509.5L807.5 505.5L807.8 496.6L808.1 496.7L808.3 507.0L808.6 513.1L808.9 510.0L809.1 505.0L809.4 504.3L809.7 512.2L810.0 522.8L810.2 520.8L810.5 505.3L810.8 491.9L811.0 491.8L811.3 503.2L811.6 514.6L811.8 514.4L812.1 503.8L812.4 493.3L812.6 487.1L812.9 488.5L813.2 503.3L813.5 521.2L813.7 522.9L814.0 510.2L814.3 501.5L814.5 505.2L814.8 513.1L815.1 516.8L815.3 518.2L815.6 517.3L815.9 507.6L816.2 492.3L816.4 487.0L816.7 495.9L817.0 506.9L817.2 512.8L817.5 510.9L817.8 500.5L818.0 496.3L818.3 507.8L818.6 516.9L818.9 510.2L819.1 502.9L819.4 509.3L819.7 518.9L819.9 516.4L820.2 504.2L820.5 494.0L820.8 490.5L821.0 496.1L821.3 510.6L821.6 520.2L821.8 514.0L822.1 502.0L822.4 498.8L822.6 506.6L822.9 517.8L823.2 522.9L823.5 517.2L823.7 506.8L824.0 500.9L824.3 498.4L824.5 497.0L824.8 502.1L825.1 512.5L825.3 518.8L825.6 515.5L825.9 505.1L826.2 495.9L826.4 496.7L826.7 504.7L827.0 509.2L827.2 509.1L827.5 508.5L827.8 504.3L828.0 498.4L828.3 497.6L828.6 500.0L828.8 502.6L829.1 506.4L829.4 507.4L829.7 504.8L829.9 504.9L830.2 508.0L830.5 510.2L830.7 513.4L831.0 518.7L831.3 517.4L831.5 505.9L831.8 495.2L832.1 490.4L832.4 488.4L832.6 494.0L832.9 508.4L833.2 521.1L833.4 527.4L833.7 528.2L834.0 520.4L834.2 506.2L834.5 494.3L834.8 489.3L835.1 490.5L835.3 494.7L835.6 500.5L835.9 511.2L836.1 523.4L836.4 526.7L836.7 518.3L836.9 504.5L837.2 494.6L837.5 495.3L837.8 497.0L838.0 489.1L838.3 485.8L838.6 501.2L838.8 517.6L839.1 514.1L839.4 502.3L839.7 502.6L839.9 513.0L840.2 521.5L840.5 519.7L840.7 513.4L841.0 515.3L841.3 516.4L841.5 506.4L841.8 501.8L842.1 508.5L842.4 509.1L842.6 500.3L842.9 495.8L843.2 499.9L843.4 504.9L843.7 505.2L844.0 506.6L844.2 518.1L844.5 528.8L844.8 517.7L845.0 493.3L845.3 484.3L845.6 495.6L845.9 513.3L846.1 528.3L846.4 531.0L846.7 517.6L846.9 503.0L847.2 501.8L847.5 509.3L847.8 511.8L848.0 501.8L848.3 486.5L848.6 480.5L848.8 483.6L849.1 488.5L849.4 496.1L849.6 508.0L849.9 522.8L850.2 534.5L850.5 532.2L850.7 515.9L851.0 499.0L851.3 493.3L851.5 499.5L851.8 509.0L852.1 514.1L852.3 512.5L852.6 507.3L852.9 505.0L853.2 507.1L853.4 508.8L853.7 508.1L854.0 506.1L854.2 503.0L854.5 499.3L854.8 497.1L855.0 499.0L855.3 504.3L855.6 510.7L855.8 516.8L856.1 518.9L856.4 512.7L856.7 500.9L856.9 491.4L857.2 491.2L857.5 501.7L857.7 515.6L858.0 521.4L858.3 517.7L858.5 514.8L858.8 517.1L859.1 516.3L859.4 505.9L859.6 494.2L859.9 490.9L860.2 494.1L860.4 500.6L860.7 507.8L861.0 507.4L861.2 500.1L861.5 498.8L861.8 509.9L862.1 522.4L862.3 521.1L862.6 509.8L862.9 505.3L863.1 506.0L863.4 502.8L863.7 500.4L864.0 500.6L864.2 501.5L864.5 505.4L864.8 509.7L865.0 510.8L865.3 512.1L865.6 514.1L865.8 513.2L866.1 509.9L866.4 506.4L866.6 504.5L866.9 504.8L867.2 501.4L867.5 492.6L867.7 492.6L868.0 509.1L868.3 523.3L868.5 519.5L868.8 514.2L869.1 518.1L869.3 512.1L869.6 497.5L869.9 497.4L870.2 505.8L870.4 506.7L870.7 504.9L871.0 503.4L871.2 499.2L871.5 498.5L871.8 506.4L872.0 513.7L872.3 513.2L872.6 511.4L872.9 513.5L873.1 514.9L873.4 510.4L873.7 503.8L873.9 499.2L874.2 493.8L874.5 490.5L874.8 493.9L875.0 498.3L875.3 500.9L875.6 506.0L875.8 513.2L876.1 522.2L876.4 534.5L876.6 543.6L876.9 538.3L877.2 515.8L877.5 491.9L877.7 486.1L878.0 496.7L878.3 505.5L878.5 503.1L878.8 497.5L879.1 499.4L879.3 507.0L879.6 511.8L879.9 513.9L880.2 518.8L880.4 524.3L880.7 520.6L881.0 505.6L881.2 489.9L881.5 484.8L881.8 491.8L882.0 503.8L882.3 511.0L882.6 508.8L882.8 502.3L883.1 500.0L883.4 506.8L883.7 519.5L883.9 525.2L884.2 514.4L884.5 498.9L884.7 494.9L885.0 498.6L885.3 500.6L885.5 499.6L885.8 498.0L886.1 501.8L886.4 510.2L886.6 510.2L886.9 501.7L887.2 501.6L887.4 512.2L887.7 521.7L888.0 527.5L888.2 525.9L888.5 510.4L888.8 492.5L889.1 487.7L889.3 494.0L889.6 502.4L889.9 511.1L890.1 517.6L890.4 514.3L890.7 506.3L891.0 508.2L891.2 518.1L891.5 523.2L891.8 516.8L892.0 504.0L892.3 498.9L892.6 507.8L892.8 517.3L893.1 513.3L893.4 502.1L893.7 496.5L893.9 494.5L894.2 492.1L894.5 496.1L894.7 505.9L895.0 510.5L895.3 508.2L895.5 505.6L895.8 507.7L896.1 514.3L896.3 517.8L896.6 510.6L896.9 499.0L897.2 497.5L897.4 507.4L897.7 515.3L898.0 512.4L898.2 503.5L898.5 499.3L898.8 506.9L899.0 515.6L899.3 508.4L899.6 496.3L899.9 495.7L900.1 498.9L900.4 501.8L900.7 509.8L900.9 517.8L901.2 517.9L901.5 509.3L901.8 498.0L902.0 492.8L902.3 496.9L902.6 507.1L902.8 513.4L903.1 508.9L903.4 501.0L903.6 495.8L903.9 495.3L904.2 505.5L904.5 520.5L904.7 523.9L905.0 515.7L905.3 510.0L905.5 506.3L905.8 493.2L906.1 482.2L906.3 494.9L906.6 520.9L906.9 530.6L907.1 517.8L907.4 501.5L907.7 490.9L908.0 483.8L908.2 485.8L908.5 496.6L908.8 506.4L909.0 511.2L909.3 510.6L909.6 506.7L909.8 503.3L910.1 501.3L910.4 504.0L910.7 512.6L910.9 517.9L911.2 514.4L911.5 510.2L911.7 509.4L912.0 506.5L912.3 501.4L912.5 497.8L912.8 496.0L913.1 499.0L913.4 508.9L913.6 513.9L913.9 505.5L914.2 497.6L914.4 502.6L914.7 510.2L915.0 509.9L915.2 508.7L915.5 514.4L915.8 518.0L916.1 509.7L916.3 501.8L916.6 507.1L916.9 514.8L917.1 512.6L917.4 508.2L917.7 510.5L918.0 511.5L918.2 502.1L918.5 493.4L918.8 496.2L919.0 499.3L919.3 497.6L919.6 502.1L919.8 508.8L920.1 509.8L920.4 511.3L920.7 517.3L920.9 523.1L921.2 518.5L921.5 503.0L921.7 493.2L922.0 497.6L922.3 502.2L922.5 494.9L922.8 489.4L923.1 500.8L923.3 513.5L923.6 510.1L923.9 504.3L924.2 509.3L924.4 515.0L924.7 515.3L925.0 516.1L925.2 519.1L925.5 521.7L925.8 520.8L926.0 513.8L926.3 501.6L926.6 489.0L926.9 483.6L927.1 489.2L927.4 503.8L927.7 519.4L927.9 523.3L928.2 512.4L928.5 497.9L928.8 487.0L929.0 481.0L929.3 485.1L929.6 500.4L929.8 516.7L930.1 520.7L930.4 509.1L930.6 495.3L930.9 494.9L931.2 508.1L931.5 520.2L931.7 518.8L932.0 508.6L932.3 504.7L932.5 508.3L932.8 507.8L933.1 501.8L933.3 498.7L933.6 501.6L933.9 507.2L934.2 515.5L934.4 524.2L934.7 520.2L935.0 500.3L935.2 485.5L935.5 487.8L935.8 493.8L936.0 497.4L936.3 504.7L936.6 512.4L936.8 515.0L937.1 514.1L937.4 512.3L937.7 509.9L937.9 505.9L938.2 505.0L938.5 507.6L938.7 503.5L939.0 493.3L939.3 491.2L939.5 501.3L939.8 512.8L940.1 519.5L940.4 525.3L940.6 527.4L940.9 516.0L941.2 498.3L941.4 492.1L941.7 493.8L942.0 491.9L942.2 493.8L942.5 508.8L942.8 524.3L943.1 523.7L943.3 512.6L943.6 503.6L943.9 498.1L944.1 496.4L944.4 500.0L944.7 502.6L945.0 500.7L945.2 498.5L945.5 501.9L945.8 515.1L946.0 529.8L946.3 528.0L946.6 509.7L946.8 493.2L947.1 489.5L947.4 496.6L947.6 506.4L947.9 512.3L948.2 517.4L948.5 523.3L948.7 518.5L949.0 503.0L949.3 499.7L949.5 514.8L949.8 525.7L950.1 519.5L950.3 508.4L950.6 504.6L950.9 505.1L951.2 504.8L951.4 506.1L951.7 509.2L952.0 509.2L952.2 505.1L952.5 500.7L952.8 499.2L953.0 498.8L953.3 493.8L953.6 489.8L953.9 500.9L954.1 520.7L954.4 529.7L954.7 524.7L954.9 510.9L955.2 494.1L955.5 485.5L955.8 483.4L956.0 478.0L956.3 479.4L956.6 500.0L956.8 524.8L957.1 533.4L957.4 529.2L957.6 522.5L957.9 515.1L958.2 507.1L958.5 500.1L958.7 495.4L959.0 495.7L959.3 502.9L959.5 510.1L959.8 508.9L960.1 504.9L960.3 509.8L960.6 519.7L960.9 520.6L961.1 511.8L961.4 504.1L961.7 502.9L962.0 505.8L962.2 509.7L962.5 511.7L962.8 508.5L963.0 501.0L963.3 496.9L963.6 499.7L963.8 504.2L964.1 508.1L964.4 512.6L964.7 513.2L964.9 506.4L965.2 500.1L965.5 502.9L965.7 512.1L966.0 518.2L966.3 513.5L966.5 502.2L966.8 498.7L967.1 501.9L967.4 500.9L967.6 497.7L967.9 494.8L968.2 491.4L968.4 497.0L968.7 511.1L969.0 518.1L969.2 512.8L969.5 501.6L969.8 491.8L970.1 491.1L970.3 504.3L970.6 519.0L970.9 515.9L971.1 499.1L971.4 487.4L971.7 486.8L972.0 492.0L972.2 500.6L972.5 510.5L972.8 517.7L973.0 520.1L973.3 519.2L973.6 518.0L973.8 515.1L974.1 507.9L974.4 500.2L974.7 499.1L974.9 502.9L975.2 503.4L975.5 502.8L975.7 510.0L976.0 519.2L976.3 516.5L976.5 506.4L976.8 501.2L977.1 500.5L977.3 503.2L977.6 512.8L977.9 522.5L978.2 519.5L978.4 504.7L978.7 495.9L979.0 500.5L979.2 497.9L979.5 480.3L979.8 477.4L980.0 504.3L980.3 530.8L980.6 527.4L980.9 505.5L981.1 497.7L981.4 511.5L981.7 521.1L981.9 510.9L982.2 495.2L982.5 494.6L982.8 511.0L983.0 520.3L983.3 507.9L983.6 496.8L983.8 504.5L984.1 512.0L984.4 507.7L984.6 506.6L984.9 511.0L985.2 510.4L985.5 504.9L985.7 500.6L986.0 500.7L986.3 503.8L986.5 507.0L986.8 509.7L987.1 512.5L987.3 514.8L987.6 514.2L987.9 509.5L988.1 504.5L988.4 504.0L988.7 505.7L989.0 504.3L989.2 502.4L989.5 505.6L989.8 512.1L990.0 516.5L990.3 515.2L990.6 506.5L990.8 493.2L991.1 488.1L991.4 500.9L991.7 519.5L991.9 526.9L992.2 529.4L992.5 531.7L992.7 520.1L993.0 497.5L993.3 484.7L993.5 489.0L993.8 502.7L994.1 514.9L994.4 520.2L994.6 520.4L994.9 517.8L995.2 513.7L995.4 507.4L995.7 500.8L996.0 497.7L996.2 498.1L996.5 499.6L996.8 501.5L997.1 503.6L997.3 505.3L997.6 506.6L997.9 508.9L998.1 514.5L998.4 519.8L998.7 516.2L999.0 504.7L999.2 494.8L999.5 488.2L999.8 487.9L1000.0 500.3L1000.3 517.6L1000.6 524.4L1000.8 519.3L1001.1 510.7L1001.4 504.5L1001.6 501.3L1001.9 501.3L1002.2 506.3L1002.5 513.4L1002.7 515.3L1003.0 511.7L1003.3 507.1L1003.5 501.6L1003.8 497.5L1004.1 501.1L1004.3 507.4L1004.6 506.2L1004.9 501.8L1005.2 502.4L1005.4 503.2L1005.7 498.7L1006.0 493.4L1006.2 494.6L1006.5 499.3L1006.8 502.5L1007.0 506.3L1007.3 509.6L1007.6 508.6L1007.9 508.3L1008.1 512.4L1008.4 513.9L1008.7 508.1L1008.9 499.7L1009.2 497.9L1009.5 503.8L1009.8 507.3L1010.0 504.6L1010.3 504.5L1010.6 507.9L1010.8 506.8L1011.1 506.6L1011.4 513.4L1011.6 515.8L1011.9 509.4L1012.2 500.5L1012.5 493.3L1012.7 495.3L1013.0 504.1L1013.3 506.4L1013.5 503.5L1013.8 503.5L1014.1 502.1L1014.3 499.6L1014.6 504.8L1014.9 514.2L1015.2 516.4L1015.4 513.1L1015.7 513.2L1016.0 516.5L1016.2 516.4L1016.5 509.2L1016.8 497.8L1017.0 491.3L1017.3 496.0L1017.6 507.3L1017.8 516.0L1018.1 516.9L1018.4 510.6L1018.7 501.8L1018.9 496.4L1019.2 499.1L1019.5 508.4L1019.7 514.8L1020.0 512.5L1020.3 504.8L1020.5 496.1L1020.8 493.3L1021.1 501.4L1021.4 514.7L1021.6 522.2L1021.9 518.2L1022.2 506.0L1022.4 493.8L1022.7 491.8L1023.0 504.7L1023.2 518.9L1023.5 518.5L1023.8 509.6L1024.1 505.3L1024.3 506.3L1024.6 507.0L1024.9 504.6L1025.1 502.0L1025.4 502.5L1025.7 503.1L1026.0 501.8L1026.2 502.9L1026.5 506.3L1026.8 507.3L1027.0 507.8L1027.3 511.9L1027.6 517.9L1027.8 521.0L1028.1 516.7L1028.4 506.0L1028.6 497.7L1028.9 499.1L1029.2 505.3L1029.5 503.3L1029.7 496.0L1030.0 500.3L1030.3 511.9L1030.5 516.8L1030.8 518.0L1031.1 514.5L1031.3 503.0L1031.6 503.9L1031.9 527.5L1032.2 544.7L1032.4 528.1L1032.7 490.5L1033.0 467.9L1033.2 477.2L1033.5 498.3L1033.8 507.2L1034.0 504.4L1034.3 501.1L1034.6 503.6L1034.9 511.0L1035.1 516.6L1035.4 516.1L1035.7 512.5L1035.9 508.1L1036.2 503.1L1036.5 501.5L1036.8 504.6L1037.0 506.2L1037.3 504.0L1037.6 502.9L1037.8 502.1L1038.1 499.8L1038.4 502.0L1038.6 509.0L1038.9 512.2L1039.2 513.4L1039.5 520.4L1039.7 523.7L1040.0 513.0L1040.3 501.9L1040.5 503.7L1040.8 506.2L1041.1 497.9L1041.3 493.5L1041.6 505.5L1041.9 517.3L1042.1 511.8L1042.4 499.0L1042.7 495.7L1043.0 505.0L1043.2 517.7L1043.5 519.9L1043.8 509.4L1044.0 497.9L1044.3 498.4L1044.6 511.1L1044.8 518.7L1045.1 510.7L1045.4 497.2L1045.7 490.7L1045.9 491.1L1046.2 494.8L1046.5 503.6L1046.7 512.6L1047.0 509.2L1047.3 501.3L1047.5 504.8L1047.8 508.5L1048.1 496.7L1048.4 482.6L1048.6 488.5L1048.9 512.3L1049.2 529.9L1049.4 528.9L1049.7 520.9L1050.0 516.7L1050.2 511.6L1050.5 501.5L1050.8 496.3L1051.1 500.1L1051.3 503.9L1051.6 504.7L1051.9 507.1L1052.1 509.9L1052.4 509.5L1052.7 507.7L1053.0 507.8L1053.2 509.8L1053.5 510.7L1053.8 508.1L1054.0 503.8L1054.3 503.2L1054.6 506.4L1054.8 507.5L1055.1 504.6L1055.4 502.4L1055.7 500.8L1055.9 493.1L1056.2 485.3L1056.5 496.8L1056.7 524.9L1057.0 540.3L1057.3 533.5L1057.5 520.0L1057.8 509.2L1058.1 506.2L1058.3 509.0L1058.6 506.5L1058.9 500.9L1059.2 500.9L1059.4 503.5L1059.7 507.6L1060.0 514.4L1060.2 518.0L1060.5 516.1L1060.8 511.9L1061.0 505.6L1061.3 500.7L1061.6 500.7L1061.9 499.4L1062.1 494.2L1062.4 495.7L1062.7 505.0L1062.9 511.5L1063.2 512.1L1063.5 508.1L1063.8 499.4L1064.0 496.1L1064.3 505.4L1064.6 517.9L1064.8 525.1L1065.1 522.7L1065.4 512.1L1065.6 504.3L1065.9 501.1L1066.2 496.5L1066.5 492.4L1066.7 491.4L1067.0 495.6L1067.3 509.1L1067.5 525.8L1067.8 528.9L1068.1 512.3L1068.3 491.4L1068.6 481.8L1068.9 485.0L1069.1 499.4L1069.4 519.3L1069.7 530.3L1070.0 526.4L1070.2 517.3L1070.5 511.8L1070.8 508.9L1071.0 507.6L1071.3 508.4L1071.6 507.4L1071.8 504.5L1072.1 506.6L1072.4 513.1L1072.7 515.7L1072.9 512.8L1073.2 508.0L1073.5 503.3L1073.7 500.3L1074.0 500.5L1074.3 502.2L1074.5 503.7L1074.8 506.7L1075.1 509.6L1075.4 508.3L1075.6 504.9L1075.9 504.3L1076.2 504.4L1076.4 500.0L1076.7 495.4L1077.0 499.9L1077.2 512.0L1077.5 521.1L1077.8 523.9L1078.1 521.7L1078.3 512.0L1078.6 499.5L1078.9 496.2L1079.1 502.6L1079.4 510.1L1079.7 515.1L1080.0 517.9L1080.2 517.2L1080.5 510.0L1080.8 498.2L1081.0 490.5L1081.3 493.1L1081.6 502.5L1081.8 512.3L1082.1 517.8L1082.4 512.9L1082.6 500.3L1082.9 495.8L1083.2 504.4L1083.5 513.0L1083.7 509.4L1084.0 496.9L1084.3 489.2L1084.5 491.9L1084.8 503.3L1085.1 523.2L1085.3 539.0L1085.6 530.5L1085.9 502.4L1086.2 481.7L1086.4 485.7L1086.7 504.1L1087.0 514.5L1087.2 509.8L1087.5 500.8L1087.8 498.5L1088.0 506.0L1088.3 516.4L1088.6 519.6L1088.9 514.2L1089.1 508.5L1089.4 507.4L1089.7 506.0L1089.9 501.4L1090.2 498.8L1090.5 500.4L1090.8 503.3L1091.0 505.9L1091.3 508.7L1091.6 510.6L1091.8 510.2L1092.1 507.6L1092.4 502.7L1092.6 494.8L1092.9 490.3L1093.2 498.0L1093.5 512.4L1093.7 522.3L1094.0 528.2L1094.3 530.0L1094.5 521.3L1094.8 505.2L1095.1 491.4L1095.3 487.8L1095.6 495.8L1095.9 503.4L1096.2 499.6L1096.4 495.8L1096.7 504.3L1097.0 513.7L1097.2 512.4L1097.5 507.6L1097.8 507.6L1098.0 510.9L1098.3 508.9L1098.6 500.4L1098.8 500.4L1099.1 509.9L1099.4 507.4L1099.7 491.0L1099.9 486.0L1100.2 499.5L1100.5 511.4L1100.7 513.3L1101.0 514.8L1101.3 518.4L1101.5 517.3L1101.8 508.4L1102.1 496.7L1102.4 491.5L1102.6 494.6L1102.9 498.5L1103.2 501.2L1103.4 507.5L1103.7 516.1L1104.0 519.1L1104.2 510.4L1104.5 495.2L1104.8 490.7L1105.1 503.8L1105.3 515.9L1105.6 512.6L1105.9 506.9L1106.1 511.3L1106.4 517.4L1106.7 519.1L1107.0 521.8L1107.2 524.3L1107.5 516.0L1107.8 496.3L1108.0 483.4L1108.3 489.1L1108.6 502.2L1108.8 508.0L1109.1 508.4L1109.4 512.6L1109.6 517.1L1109.9 515.2L1110.2 512.4L1110.5 510.3L1110.7 500.1L1111.0 487.5L1111.3 490.0L1111.5 506.2L1111.8 516.8L1112.1 513.6L1112.3 509.1L1112.6 512.2L1112.9 514.4L1113.2 509.1L1113.4 502.7L1113.7 504.9L1114.0 515.0L1114.2 518.9L1114.5 508.1L1114.8 496.2L1115.0 494.3L1115.3 494.9L1115.6 495.3L1115.9 499.8L1116.1 503.4L1116.4 504.6L1116.7 509.4L1116.9 514.5L1117.2 510.0L1117.5 501.6L1117.8 506.6L1118.0 527.7L1118.3 543.6L1118.6 532.6L1118.8 505.4L1119.1 490.4L1119.4 494.5L1119.6 499.5L1119.9 494.7L1120.2 492.1L1120.5 503.5L1120.7 518.8L1121.0 520.7L1121.3 512.0L1121.5 507.0L1121.8 508.5L1122.1 509.7L1122.3 506.3L1122.6 502.0L1122.9 500.8L1123.1 499.7L1123.4 498.5L1123.7 507.8L1124.0 525.6L1124.2 532.2L1124.5 526.3L1124.8 522.0L1125.0 508.3L1125.3 479.2L1125.6 468.1L1125.8 494.4L1126.1 528.4L1126.4 538.4L1126.7 525.5L1126.9 510.6L1127.2 503.1L1127.5 498.8L1127.7 498.0L1128.0 500.1L1128.3 502.3L1128.5 507.5L1128.8 513.8L1129.1 512.8L1129.4 507.2L1129.6 507.8L1129.9 511.5L1130.2 506.8L1130.4 494.4L1130.7 487.3L1131.0 495.3L1131.2 513.6L1131.5 526.8L1131.8 523.9L1132.1 512.3L1132.3 508.7L1132.6 509.7L1132.9 502.2L1133.1 497.8L1133.4 507.6L1133.7 516.8L1133.9 515.7L1134.2 513.0L1134.5 511.3L1134.8 508.0L1135.0 505.2L1135.3 504.6L1135.6 505.2L1135.8 505.4L1136.1 505.1L1136.4 504.2L1136.7 502.6L1136.9 501.4L1137.2 500.5L1137.5 500.2L1137.7 503.3L1138.0 510.4L1138.3 517.2L1138.5 521.1L1138.8 522.6L1139.1 517.7L1139.3 504.6L1139.6 492.7L1139.9 490.1L1140.2 490.3L1140.4 487.1L1140.7 485.6L1141.0 491.2L1141.2 500.8L1141.5 509.9L1141.8 518.4L1142.0 523.5L1142.3 518.4L1142.6 504.9L1142.9 496.8L1143.1 502.7L1143.4 514.0L1143.7 516.8L1143.9 509.5L1144.2 500.7L1144.5 495.5L1144.8 495.4L1145.0 503.5L1145.3 515.9L1145.6 517.6L1145.8 506.3L1146.1 497.5L1146.4 501.5L1146.6 514.8L1146.9 527.8L1147.2 527.9L1147.5 513.7L1147.7 501.8L1148.0 501.8L1148.3 504.3L1148.5 498.6L1148.8 486.6L1149.1 483.5L1149.3 496.3L1149.6 507.5L1149.9 505.7L1150.1 503.6L1150.4 507.3L1150.7 511.1L1151.0 518.1L1151.2 527.0L1151.5 523.8L1151.8 505.6L1152.0 488.2L1152.3 486.6L1152.6 501.0L1152.8 521.0L1153.1 530.7L1153.4 520.1L1153.7 499.5L1153.9 486.7L1154.2 483.7L1154.5 486.1L1154.7 493.7L1155.0 500.4L1155.3 502.4L1155.5 509.1L1155.8 525.1L1156.1 538.9L1156.4 536.1L1156.6 515.9L1156.9 489.7L1157.2 473.5L1157.4 479.6L1157.7 500.5L1158.0 515.8L1158.2 517.7L1158.5 513.9L1158.8 513.7L1159.1 518.5L1159.3 518.6L1159.6 511.0L1159.9 507.1L1160.1 508.2L1160.4 505.3L1160.7 501.8L1161.0 504.1L1161.2 507.9L1161.5 507.6L1161.8 507.2L1162.0 509.4L1162.3 507.5L1162.6 499.5L1162.8 494.7L1163.1 497.0L1163.4 502.8L1163.6 511.6L1163.9 517.7L1164.2 511.1L1164.5 497.9L1164.7 494.6L1165.0 502.5L1165.3 506.6L1165.5 501.8L1165.8 503.0L1166.1 517.5L1166.3 527.0L1166.6 516.8L1166.9 502.2L1167.2 501.6L1167.4 508.7L1167.7 512.4L1168.0 512.7L1168.2 512.4L1168.5 511.5L1168.8 506.7L1169.0 500.0L1169.3 497.7L1169.6 498.7L1169.9 500.4L1170.1 504.0L1170.4 508.7L1170.7 514.4L1170.9 521.0L1171.2 524.9L1171.5 522.4L1171.8 512.3L1172.0 499.0L1172.3 488.3L1172.6 478.9L1172.8 470.4L1173.1 470.8L1173.4 484.5L1173.6 509.5L1173.9 535.8L1174.2 545.7L1174.4 530.6L1174.7 501.9L1175.0 485.0L1175.3 494.3L1175.5 513.7L1175.8 522.2L1176.1 521.8L1176.3 519.6L1176.6 514.4L1176.9 508.1L1177.2 502.5L1177.4 496.3L1177.7 492.7L1178.0 497.0L1178.2 506.7L1178.5 510.9L1178.8 504.4L1179.0 497.2L1179.3 501.8L1179.6 514.6L1179.8 520.4L1180.1 512.8L1180.4 500.6L1180.7 497.3L1180.9 504.5L1181.2 510.6L1181.5 506.5L1181.7 498.1L1182.0 502.1L1182.3 521.0L1182.5 532.5L1182.8 519.0L1183.1 495.6L1183.4 488.6L1183.6 499.1L1183.9 505.1L1184.2 497.9L1184.4 493.0L1184.7 497.7L1185.0 503.6L1185.2 509.4L1185.5 517.0L1185.8 520.8L1186.1 521.0L1186.3 521.7L1186.6 516.6L1186.9 503.9L1187.1 497.4L1187.4 502.8L1187.7 507.4L1187.9 503.2L1188.2 500.7L1188.5 507.2L1188.8 513.0L1189.0 511.3L1189.3 509.3L1189.6 508.6L1189.8 503.4L1190.1 497.2L1190.4 498.7L1190.6 506.0L1190.9 511.3L1191.2 513.3L1191.5 514.2L1191.7 512.8L1192.0 511.0L1192.3 508.5L1192.5 498.0L1192.8 487.5L1193.1 495.5L1193.3 513.5L1193.6 520.5L1193.9 516.1L1194.2 508.2L1194.4 499.1L1194.7 492.9L1195.0 493.8L1195.2 501.7L1195.5 512.7L1195.8 517.7L1196.0 513.9L1196.3 508.5L1196.6 504.0L1196.9 498.7L1197.1 496.1L1197.4 497.0L1197.7 496.4L1197.9 496.6L1198.2 503.8L1198.5 511.9L1198.7 511.6L1199.0 506.1L1199.3 504.0L1199.6 506.1L1199.8 510.2L1200.1 514.8L1200.4 516.4L1200.6 515.0L1200.9 519.0L1201.2 527.5L1201.5 524.1L1201.7 505.1L1202.0 486.3L1202.3 478.5L1202.5 482.1L1202.8 494.4L1203.1 506.2L1203.3 507.1L1203.6 500.6L1203.9 502.0L1204.1 514.9L1204.4 528.4L1204.7 531.4L1205.0 520.1L1205.2 501.0L1205.5 487.0L1205.8 487.7L1206.0 501.7L1206.3 518.4L1206.6 527.3L1206.8 527.7L1207.1 527.8L1207.4 527.0L1207.7 513.3L1207.9 490.2L1208.2 477.5L1208.5 484.0L1208.7 501.4L1209.0 515.8L1209.3 518.0L1209.5 511.9L1209.8 507.6L1210.1 507.5L1210.4 506.9L1210.6 503.9L1210.9 501.4L1211.2 503.4L1211.4 509.8L1211.7 510.6L1212.0 492.6L1212.2 467.9L1212.5 471.2L1212.8 506.7L1213.1 535.7L1213.3 537.7L1213.6 532.7L1213.9 529.5L1214.1 518.3L1214.4 505.5L1214.7 501.7L1214.9 502.2L1215.2 505.2L1215.5 513.3L1215.8 515.6L1216.0 504.6L1216.3 492.1L1216.6 488.6L1216.8 492.7L1217.1 501.1L1217.4 508.3L1217.7 507.4L1217.9 502.8L1218.2 505.4L1218.5 515.1L1218.7 522.7L1219.0 523.4L1219.3 517.8L1219.5 508.4L1219.8 497.9L1220.1 491.0L1220.3 492.5L1220.6 501.5L1220.9 515.3L1221.2 528.1L1221.4 528.2L1221.7 515.3L1222.0 507.3L1222.2 504.8L1222.5 488.8L1222.8 467.3L1223.0 470.8L1223.3 497.6L1223.6 514.7L1223.9 512.1L1224.1 508.5L1224.4 508.5L1224.7 502.3L1224.9 495.7L1225.2 501.1L1225.5 513.8L1225.8 518.3L1226.0 512.1L1226.3 507.4L1226.6 508.5L1226.8 507.7L1227.1 503.3L1227.4 502.1L1227.6 505.5L1227.9 508.6L1228.2 507.3L1228.4 503.4L1228.7 503.4L1229.0 511.9L1229.3 520.7L1229.5 517.6L1229.8 505.6L1230.1 495.4L1230.3 492.1L1230.6 497.8L1230.9 506.0L1231.1 508.5L1231.4 512.2L1231.7 521.7L1232.0 527.2L1232.2 523.2L1232.5 513.4L1232.8 503.9L1233.0 499.8L1233.3 499.5L1233.6 498.8L1233.9 499.3L1234.1 504.9L1234.4 511.5L1234.7 510.7L1234.9 506.2L1235.2 507.4L1235.5 508.6L1235.7 504.3L1236.0 506.4L1236.3 517.1L1236.5 517.4L1236.8 503.2L1237.1 489.8L1237.4 485.4L1237.6 491.0L1237.9 500.1L1238.2 499.6L1238.4 495.8L1238.7 503.5L1239.0 509.6L1239.2 490.7L1239.5 462.5L1239.8 463.2L1240.1 494.1L1240.3 530.3L1240.6 551.1L1240.9 544.1L1241.1 521.2L1241.4 506.3L1241.7 501.2L1242.0 497.1L1242.2 497.2L1242.5 505.9L1242.8 515.2L1243.0 512.3L1243.3 500.1L1243.6 498.7L1243.8 509.7L1244.1 512.0L1244.4 502.4L1244.6 498.6L1244.9 504.8L1245.2 510.4L1245.5 506.7L1245.7 497.4L1246.0 496.6L1246.3 507.1L1246.5 514.7L1246.8 514.4L1247.1 516.6L1247.3 524.2L1247.6 526.1L1247.9 516.0L1248.2 501.7L1248.4 497.0L1248.7 502.4L1249.0 503.6L1249.2 498.0L1249.5 498.1L1249.8 504.7L1250.0 507.5L1250.3 506.7L1250.6 508.5L1250.9 513.2L1251.1 519.6L1251.4 523.5L1251.7 516.7L1251.9 502.9L1252.2 494.8L1252.5 496.4L1252.8 502.6L1253.0 504.2L1253.3 493.8L1253.6 481.3L1253.8 482.1L1254.1 496.2L1254.4 518.8L1254.6 537.3L1254.9 532.1L1255.2 508.6L1255.4 493.6L1255.7 496.4L1256.0 506.0L1256.3 514.4L1256.5 520.8L1256.8 517.8L1257.1 501.8L1257.3 490.2L1257.6 500.7L1257.9 518.5L1258.2 513.1L1258.4 489.2L1258.7 481.5L1259.0 491.1L1259.2 493.6L1259.5 496.0L1259.8 512.2L1260.0 529.6L1260.3 539.2L1260.6 541.4L1260.8 529.0L1261.1 505.8L1261.4 491.0L1261.7 491.1L1261.9 498.5L1262.2 505.2L1262.5 505.8L1262.7 503.4L1263.0 505.5L1263.3 508.7L1263.5 505.7L1263.8 498.0L1264.1 492.6L1264.4 496.8L1264.6 509.2L1264.9 517.0L1265.2 514.4L1265.4 509.8L1265.7 510.6L1266.0 513.2L1266.2 512.8L1266.5 507.3L1266.8 497.6L1267.1 490.9L1267.3 493.5L1267.6 501.2L1267.9 506.5L1268.1 505.5L1268.4 504.1L1268.7 514.7L1268.9 532.4L1269.2 533.5L1269.5 516.2L1269.8 504.7L1270.0 501.0L1270.3 487.3L1270.6 476.1L1270.8 490.4L1271.1 514.8L1271.4 522.6L1271.6 514.8L1271.9 507.9L1272.2 507.1L1272.5 504.9L1272.7 500.2L1273.0 500.8L1273.3 508.7L1273.5 519.1L1273.8 524.9L1274.1 520.7L1274.4 510.1L1274.6 502.9L1274.9 501.5L1275.2 500.1L1275.4 494.7L1275.7 490.8L1276.0 494.4L1276.2 501.6L1276.5 505.7L1276.8 506.4L1277.0 507.0L1277.3 507.2L1277.6 504.7L1277.9 502.7L1278.1 503.3L1278.4 503.2L1278.7 504.5L1278.9 512.4L1279.2 521.6L1279.5 523.8L1279.7 519.6L1280.0 510.3L1280.3 497.5L1280.6 492.4L1280.8 503.9L1281.1 517.3L1281.4 510.4L1281.6 493.4L1281.9 491.5L1282.2 499.5L1282.5 498.8L1282.7 493.8L1283.0 499.3L1283.3 514.8L1283.5 530.6L1283.8 531.2L1284.1 508.0L1284.3 482.2L1284.6 480.8L1284.9 501.4L1285.1 526.0L1285.4 537.5L1285.7 526.8L1286.0 503.4L1286.2 488.0L1286.5 491.0L1286.8 501.3L1287.0 503.8L1287.3 502.3L1287.6 505.5L1287.8 508.5L1288.1 507.3L1288.4 511.6L1288.7 524.3L1288.9 526.5L1289.2 508.3L1289.5 489.7L1289.7 485.9L1290.0 486.6L1290.3 488.5L1290.5 498.4L1290.8 511.7L1291.1 523.1L1291.4 530.5L1291.6 525.1L1291.9 511.0L1292.2 502.4L1292.4 494.2L1292.7 479.6L1293.0 473.7L1293.2 484.7L1293.5 496.9L1293.8 502.2L1294.1 511.0L1294.3 522.5L1294.6 525.9L1294.9 527.5L1295.1 530.7L1295.4 523.0L1295.7 506.8L1295.9 498.5L1296.2 499.8L1296.5 501.7L1296.8 503.4L1297.0 506.2" stroke="#000" stroke-width="1.1"/>
<path d="M325.3 504.1L326.1 510.6L326.9 510.1L327.7 506.6L328.5 503.5L329.4 501.2L330.2 501.5L331.0 506.0L331.8 509.8L332.6 506.3L333.4 499.4L334.2 499.5L335.0 507.6L335.8 513.5L336.6 510.9L337.5 503.9L338.3 499.6L339.1 501.8L339.9 508.4L340.7 511.8L341.5 507.1L342.3 500.6L343.1 501.6L343.9 508.2L344.7 510.4L345.6 505.7L346.4 502.9L347.2 504.4L348.0 505.5L348.8 504.7L349.6 505.1L350.4 507.5L351.2 509.4L352.0 508.3L352.8 505.9L353.6 504.9L354.5 506.6L355.3 509.8L356.1 511.6L356.9 510.0L357.7 506.4L358.5 505.2L359.3 508.1L360.1 511.6L360.9 511.1L361.8 507.4L362.6 505.3L363.4 507.3L364.2 510.4L365.0 509.5L365.8 504.6L366.6 501.5L367.4 504.7L368.2 510.5L369.0 511.5L369.9 506.5L370.7 501.7L371.5 501.8L372.3 504.9L373.1 506.2L373.9 504.9L374.7 503.6L375.5 503.7L376.3 504.6L377.1 504.9L377.9 504.3L378.8 504.4L379.6 505.7L380.4 506.4L381.2 504.4L382.0 502.6L382.8 504.7L383.6 508.9L384.4 510.0L385.2 507.8L386.1 506.1L386.9 506.1L387.7 507.3L388.5 510.2L389.3 513.5L390.1 512.3L390.9 506.1L391.7 502.7L392.5 507.6L393.3 513.6L394.1 510.3L395.0 500.0L395.8 496.8L396.6 507.4L397.4 519.4L398.2 515.0L399.0 496.3L399.8 485.4L400.6 495.7L401.4 513.1L402.2 517.1L403.1 508.0L403.9 499.7L404.7 497.9L405.5 499.3L406.3 503.4L407.1 509.7L407.9 512.6L408.7 509.8L409.5 506.6L410.4 506.7L411.2 507.3L412.0 506.8L412.8 507.8L413.6 510.7L414.4 512.2L415.2 511.6L416.0 510.6L416.8 509.2L417.6 506.9L418.4 506.3L419.3 508.3L420.1 510.0L420.9 508.8L421.7 506.7L422.5 506.9L423.3 509.1L424.1 509.9L424.9 507.0L425.7 503.7L426.6 504.9L427.4 509.0L428.2 510.2L429.0 507.6L429.8 505.9L430.6 507.1L431.4 507.8L432.2 506.2L433.0 505.4L433.8 507.3L434.6 508.8L435.5 507.3L436.3 505.0L437.1 505.3L437.9 507.0L438.7 506.5L439.5 504.5L440.3 504.5L441.1 506.7L441.9 507.6L442.8 505.6L443.6 503.8L444.4 504.4L445.2 506.5L446.0 507.3L446.8 505.8L447.6 503.8L448.4 504.6L449.2 508.0L450.0 509.4L450.9 506.6L451.7 503.1L452.5 503.8L453.3 507.1L454.1 508.1L454.9 505.7L455.7 503.9L456.5 505.1L457.3 507.0L458.1 506.3L458.9 504.3L459.8 503.9L460.6 505.6L461.4 507.2L462.2 507.5L463.0 506.6L463.8 505.1L464.6 504.6L465.4 506.8L466.2 510.1L467.1 510.9L467.9 508.4L468.7 506.0L469.5 506.8L470.3 509.7L471.1 510.8L471.9 509.3L472.7 508.4L473.5 509.7L474.3 510.9L475.1 509.6L476.0 507.7L476.8 508.3L477.6 510.4L478.4 510.7L479.2 508.7L480.0 506.6L480.8 506.3L481.6 507.6L482.4 508.8L483.2 508.8L484.1 507.4L484.9 506.1L485.7 506.2L486.5 506.9L487.3 507.9L488.1 508.9L488.9 508.3L489.7 505.3L490.5 503.5L491.4 506.1L492.2 510.3L493.0 509.5L493.8 504.0L494.6 501.1L495.4 504.9L496.2 510.3L497.0 509.8L497.8 504.2L498.6 500.4L499.4 502.1L500.3 505.8L501.1 506.8L501.9 504.6L502.7 502.7L503.5 503.6L504.3 505.9L505.1 506.2L505.9 503.7L506.7 501.8L507.6 503.7L508.4 507.6L509.2 508.9L510.0 506.3L510.8 503.9L511.6 505.5L512.4 508.8L513.2 509.2L514.0 506.2L514.8 504.1L515.6 505.4L516.5 508.2L517.3 509.5L518.1 509.0L518.9 507.5L519.7 505.3L520.5 503.3L521.3 503.7L522.1 506.8L522.9 509.3L523.8 508.2L524.6 504.5L525.4 501.8L526.2 502.1L527.0 504.2L527.8 506.1L528.6 506.3L529.4 505.2L530.2 503.7L531.0 503.0L531.9 503.3L532.7 504.3L533.5 505.6L534.3 506.1L535.1 505.1L535.9 504.2L536.7 505.1L537.5 506.6L538.3 506.3L539.1 504.8L540.0 505.1L540.8 507.4L541.6 508.4L542.4 507.1L543.2 506.3L544.0 507.6L544.8 508.5L545.6 507.7L546.4 507.0L547.2 507.4L548.0 507.3L548.9 506.4L549.7 506.7L550.5 508.5L551.3 509.8L552.1 509.5L552.9 508.3L553.7 506.7L554.5 505.3L555.3 505.8L556.1 508.6L557.0 510.8L557.8 509.5L558.6 506.0L559.4 504.9L560.2 507.4L561.0 509.3L561.8 507.3L562.6 504.5L563.4 505.3L564.2 508.2L565.1 508.5L565.9 506.0L566.7 505.1L567.5 507.0L568.3 508.1L569.1 506.3L569.9 504.5L570.7 505.9L571.5 508.7L572.3 509.4L573.2 507.8L574.0 506.3L574.8 505.8L575.6 505.9L576.4 506.5L577.2 507.6L578.0 508.3L578.8 507.5L579.6 505.8L580.5 504.5L581.3 505.0L582.1 506.7L582.9 507.3L583.7 505.8L584.5 504.4L585.3 505.8L586.1 509.0L586.9 509.7L587.7 506.9L588.5 504.9L589.4 507.1L590.2 510.6L591.0 510.7L591.8 508.4L592.6 507.8L593.4 508.8L594.2 508.6L595.0 507.5L595.8 508.4L596.6 510.3L597.5 508.9L598.3 504.9L599.1 503.3L599.9 505.9L600.7 509.1L601.5 509.4L602.3 507.4L603.1 505.3L603.9 504.5L604.8 505.0L605.6 506.4L606.4 507.8L607.2 508.4L608.0 507.7L608.8 506.4L609.6 505.7L610.4 506.1L611.2 506.9L612.0 507.8L612.8 508.8L613.7 508.5L614.5 506.5L615.3 504.2L616.1 503.8L616.9 505.4L617.7 507.3L618.5 507.5L619.3 505.2L620.1 502.5L621.0 503.0L621.8 505.5L622.6 505.2L623.4 501.6L624.2 499.5L625.0 501.4L625.8 504.5L626.6 505.8L627.4 505.4L628.2 503.8L629.0 501.4L629.9 500.2L630.7 502.3L631.5 506.6L632.3 508.7L633.1 507.2L633.9 504.4L634.7 503.2L635.5 504.9L636.3 508.5L637.1 510.7L638.0 508.6L638.8 504.3L639.6 503.5L640.4 507.6L641.2 511.7L642.0 511.2L642.8 507.4L643.6 504.9L644.4 505.2L645.2 507.0L646.1 509.1L646.9 510.6L647.7 510.3L648.5 507.4L649.3 504.6L650.1 504.8L650.9 507.5L651.7 509.9L652.5 509.7L653.3 507.8L654.2 506.5L655.0 506.5L655.8 507.2L656.6 507.8L657.4 508.3L658.2 507.6L659.0 505.3L659.8 503.6L660.6 505.4L661.5 509.9L662.3 511.1L663.1 506.0L663.9 500.2L664.7 501.3L665.5 507.7L666.3 511.1L667.1 508.2L667.9 504.3L668.7 504.8L669.5 507.9L670.4 508.6L671.2 507.4L672.0 508.0L672.8 509.9L673.6 509.3L674.4 506.4L675.2 506.5L676.0 510.8L676.8 513.5L677.7 510.7L678.5 506.0L679.3 505.3L680.1 508.4L680.9 510.4L681.7 508.5L682.5 505.4L683.3 504.8L684.1 506.9L684.9 508.9L685.8 508.2L686.6 505.9L687.4 504.3L688.2 504.5L689.0 506.0L689.8 507.2L690.6 507.2L691.4 506.7L692.2 507.0L693.0 507.7L693.8 507.4L694.7 505.7L695.5 505.0L696.3 507.0L697.1 509.7L697.9 510.0L698.7 507.2L699.5 503.7L700.3 502.9L701.1 505.8L702.0 509.2L702.8 509.2L703.6 506.0L704.4 503.3L705.2 502.9L706.0 503.7L706.8 505.3L707.6 507.7L708.4 509.1L709.2 507.9L710.0 505.0L710.9 502.9L711.7 503.7L712.5 506.9L713.3 509.6L714.1 508.9L714.9 506.0L715.7 504.8L716.5 507.0L717.3 508.9L718.2 507.4L719.0 504.9L719.8 505.6L720.6 508.4L721.4 509.0L722.2 507.3L723.0 506.6L723.8 507.5L724.6 507.5L725.4 506.7L726.2 507.7L727.1 510.1L727.9 510.3L728.7 507.6L729.5 505.5L730.3 506.3L731.1 508.1L731.9 509.1L732.7 508.8L733.5 508.0L734.3 507.0L735.2 506.2L736.0 505.8L736.8 505.9L737.6 506.5L738.4 506.7L739.2 505.5L740.0 504.5L740.8 505.3L741.6 507.0L742.5 506.5L743.3 504.1L744.1 502.9L744.9 504.9L745.7 507.4L746.5 507.5L747.3 505.0L748.1 503.0L748.9 504.1L749.7 507.3L750.5 508.9L751.4 507.0L752.2 504.1L753.0 503.9L753.8 506.7L754.6 508.9L755.4 507.9L756.2 505.2L757.0 504.6L757.8 506.7L758.7 508.9L759.5 508.7L760.3 507.1L761.1 506.0L761.9 506.0L762.7 506.2L763.5 506.6L764.3 507.4L765.1 508.3L765.9 508.0L766.8 505.9L767.6 504.1L768.4 505.0L769.2 507.7L770.0 508.5L770.8 506.6L771.6 505.2L772.4 506.3L773.2 507.5L774.0 506.3L774.8 504.4L775.7 505.3L776.5 508.3L777.3 509.0L778.1 505.8L778.9 502.5L779.7 503.2L780.5 506.8L781.3 509.4L782.1 508.8L783.0 506.5L783.8 504.1L784.6 503.2L785.4 504.8L786.2 508.1L787.0 510.5L787.8 510.0L788.6 507.4L789.4 505.3L790.2 505.4L791.0 507.3L791.9 508.7L792.7 508.3L793.5 507.2L794.3 506.9L795.1 506.5L795.9 505.1L796.7 504.6L797.5 506.4L798.3 507.1L799.2 504.3L800.0 501.4L800.8 502.9L801.6 507.0L802.4 507.3L803.2 503.2L804.0 500.5L804.8 503.0L805.6 507.0L806.4 508.2L807.2 506.6L808.1 504.9L808.9 504.4L809.7 504.6L810.5 505.7L811.3 507.5L812.1 509.3L812.9 509.4L813.7 507.3L814.5 505.1L815.3 505.2L816.2 507.5L817.0 509.1L817.8 508.9L818.6 508.4L819.4 508.0L820.2 506.2L821.0 504.1L821.8 505.4L822.6 510.2L823.5 512.2L824.3 507.5L825.1 502.0L825.9 503.6L826.7 510.7L827.5 513.7L828.3 508.6L829.1 502.0L829.9 501.4L830.7 506.9L831.5 512.3L832.4 512.8L833.2 509.0L834.0 505.2L834.8 504.3L835.6 505.9L836.4 507.9L837.2 509.5L838.0 510.2L838.8 509.4L839.7 507.6L840.5 506.3L841.3 506.6L842.1 507.8L842.9 508.8L843.7 509.1L844.5 508.5L845.3 507.3L846.1 506.3L846.9 506.2L847.8 507.4L848.6 509.0L849.4 509.5L850.2 508.6L851.0 507.6L851.8 507.2L852.6 507.5L853.4 507.9L854.2 507.8L855.0 507.1L855.8 506.7L856.7 507.8L857.5 509.5L858.3 509.4L859.1 507.1L859.9 505.0L860.7 505.6L861.5 508.0L862.3 509.3L863.1 508.2L864.0 507.0L864.8 508.0L865.6 509.1L866.4 507.6L867.2 505.5L868.0 506.2L868.8 508.3L869.6 508.3L870.4 507.0L871.2 507.6L872.0 509.4L872.9 508.8L873.7 505.8L874.5 504.2L875.3 505.4L876.1 507.3L876.9 507.7L877.7 506.4L878.5 504.2L879.3 503.0L880.2 503.8L881.0 505.0L881.8 504.4L882.6 503.2L883.4 503.0L884.2 503.6L885.0 503.6L885.8 502.8L886.6 501.8L887.4 501.8L888.2 503.4L889.1 504.9L889.9 504.5L890.7 503.0L891.5 503.2L892.3 504.9L893.1 506.4L893.9 507.2L894.7 507.4L895.5 506.4L896.3 505.5L897.2 506.8L898.0 509.1L898.8 509.7L899.6 509.2L900.4 509.5L901.2 510.0L902.0 509.2L902.8 507.7L903.6 507.4L904.5 507.9L905.3 508.1L906.1 508.1L906.9 508.0L907.7 506.8L908.5 504.1L909.3 502.2L910.1 503.4L910.9 505.8L911.7 506.2L912.5 504.2L913.4 502.7L914.2 503.1L915.0 504.2L915.8 504.7L916.6 504.6L917.4 504.7L918.2 505.2L919.0 506.2L919.8 507.5L920.7 507.8L921.5 506.7L922.3 505.7L923.1 506.7L923.9 509.1L924.7 510.3L925.5 509.4L926.3 507.7L927.1 507.1L927.9 507.8L928.8 508.4L929.6 507.8L930.4 506.8L931.2 507.5L932.0 509.6L932.8 509.7L933.6 506.3L934.4 503.1L935.2 503.9L936.0 506.8L936.8 508.0L937.7 506.6L938.5 504.7L939.3 504.3L940.1 505.2L940.9 506.1L941.7 506.0L942.5 505.2L943.3 504.7L944.1 505.0L945.0 505.4L945.8 504.9L946.6 503.9L947.4 504.8L948.2 507.8L949.0 509.3L949.8 506.3L950.6 502.3L951.4 502.6L952.2 506.6L953.0 508.6L953.9 506.6L954.7 504.7L955.5 505.9L956.3 507.9L957.1 507.8L957.9 506.3L958.7 505.6L959.5 506.6L960.3 507.9L961.1 507.6L962.0 505.7L962.8 504.8L963.6 506.9L964.4 509.7L965.2 509.5L966.0 506.8L966.8 504.7L967.6 504.6L968.4 505.0L969.2 505.8L970.1 507.7L970.9 509.2L971.7 508.3L972.5 505.7L973.3 504.5L974.1 505.5L974.9 506.9L975.7 507.9L976.5 508.8L977.3 509.4L978.2 508.7L979.0 506.8L979.8 505.6L980.6 506.9L981.4 509.8L982.2 510.9L983.0 508.1L983.8 503.8L984.6 502.7L985.5 506.2L986.3 509.5L987.1 508.1L987.9 503.8L988.7 502.0L989.5 503.8L990.3 505.4L991.1 504.7L991.9 504.1L992.7 505.3L993.5 506.2L994.4 505.1L995.2 503.9L996.0 505.4L996.8 507.8L997.6 507.3L998.4 505.0L999.2 505.6L1000.0 509.3L1000.8 510.0L1001.6 505.6L1002.5 502.3L1003.3 505.5L1004.1 511.4L1004.9 512.2L1005.7 506.8L1006.5 502.1L1007.3 503.4L1008.1 508.0L1008.9 509.7L1009.8 507.7L1010.6 506.0L1011.4 506.5L1012.2 507.0L1013.0 505.8L1013.8 504.5L1014.6 506.0L1015.4 509.7L1016.2 511.1L1017.0 508.0L1017.8 504.3L1018.7 504.5L1019.5 507.6L1020.3 509.1L1021.1 507.7L1021.9 506.5L1022.7 507.9L1023.5 509.8L1024.3 509.5L1025.1 507.3L1026.0 505.8L1026.8 506.6L1027.6 508.8L1028.4 510.6L1029.2 510.0L1030.0 507.4L1030.8 505.5L1031.6 507.0L1032.4 510.5L1033.2 511.2L1034.0 506.9L1034.9 502.2L1035.7 502.6L1036.5 507.2L1037.3 509.9L1038.1 507.8L1038.9 504.0L1039.7 502.3L1040.5 502.8L1041.3 503.4L1042.1 503.3L1043.0 503.5L1043.8 504.2L1044.6 504.7L1045.4 504.2L1046.2 502.9L1047.0 501.9L1047.8 502.5L1048.6 504.6L1049.4 506.3L1050.2 506.3L1051.1 505.6L1051.9 505.1L1052.7 505.0L1053.5 505.3L1054.3 506.7L1055.1 508.1L1055.9 507.5L1056.7 505.3L1057.5 504.7L1058.3 506.6L1059.2 508.4L1060.0 507.7L1060.8 506.1L1061.6 505.9L1062.4 506.6L1063.2 507.3L1064.0 507.7L1064.8 508.0L1065.6 506.9L1066.5 505.2L1067.3 505.7L1068.1 509.1L1068.9 511.5L1069.7 510.1L1070.5 506.8L1071.3 505.7L1072.1 507.2L1072.9 509.1L1073.7 509.8L1074.5 509.8L1075.4 509.6L1076.2 508.9L1077.0 507.6L1077.8 506.8L1078.6 507.5L1079.4 509.3L1080.2 510.3L1081.0 509.4L1081.8 507.3L1082.6 506.1L1083.5 507.0L1084.3 508.7L1085.1 509.2L1085.9 508.4L1086.7 507.1L1087.5 505.7L1088.3 504.5L1089.1 504.6L1089.9 506.6L1090.8 508.4L1091.6 507.9L1092.4 505.5L1093.2 504.0L1094.0 504.7L1094.8 505.7L1095.6 505.1L1096.4 503.7L1097.2 503.9L1098.0 506.1L1098.8 507.6L1099.7 506.5L1100.5 503.5L1101.3 501.7L1102.1 503.4L1102.9 507.3L1103.7 509.4L1104.5 506.8L1105.3 502.1L1106.1 501.1L1107.0 505.4L1107.8 509.8L1108.6 509.4L1109.4 505.3L1110.2 502.7L1111.0 503.8L1111.8 506.6L1112.6 508.3L1113.4 507.9L1114.2 505.9L1115.0 504.1L1115.9 504.3L1116.7 506.1L1117.5 508.1L1118.3 509.3L1119.1 508.9L1119.9 506.3L1120.7 502.9L1121.5 503.0L1122.3 507.9L1123.1 513.2L1124.0 512.9L1124.8 507.6L1125.6 504.0L1126.4 506.0L1127.2 509.8L1128.0 510.7L1128.8 509.1L1129.6 508.0L1130.4 507.7L1131.2 506.9L1132.1 506.5L1132.9 507.5L1133.7 508.6L1134.5 508.1L1135.3 506.0L1136.1 503.8L1136.9 503.1L1137.7 504.5L1138.5 507.1L1139.3 508.3L1140.2 506.7L1141.0 503.8L1141.8 502.7L1142.6 504.2L1143.4 506.8L1144.2 508.5L1145.0 508.4L1145.8 506.4L1146.6 504.2L1147.5 504.4L1148.3 506.6L1149.1 508.0L1149.9 506.9L1150.7 504.9L1151.5 504.4L1152.3 505.6L1153.1 506.8L1153.9 506.5L1154.7 505.3L1155.5 505.1L1156.4 505.7L1157.2 505.0L1158.0 503.4L1158.8 504.3L1159.6 507.6L1160.4 509.2L1161.2 507.2L1162.0 505.0L1162.8 505.2L1163.6 506.9L1164.5 508.3L1165.3 509.2L1166.1 509.1L1166.9 507.4L1167.7 505.8L1168.5 506.7L1169.3 509.7L1170.1 511.4L1170.9 509.3L1171.8 505.7L1172.6 505.1L1173.4 507.9L1174.2 510.0L1175.0 508.8L1175.8 506.3L1176.6 505.8L1177.4 507.0L1178.2 507.7L1179.0 506.8L1179.8 505.2L1180.7 504.5L1181.5 505.6L1182.3 507.6L1183.1 508.2L1183.9 506.0L1184.7 502.6L1185.5 501.6L1186.3 504.3L1187.1 508.1L1187.9 509.4L1188.8 507.2L1189.6 503.2L1190.4 501.5L1191.2 503.8L1192.0 507.3L1192.8 507.9L1193.6 506.1L1194.4 505.0L1195.2 505.0L1196.0 504.9L1196.9 505.7L1197.7 507.7L1198.5 508.5L1199.3 506.2L1200.1 503.7L1200.9 504.6L1201.7 508.1L1202.5 510.2L1203.3 509.5L1204.1 507.6L1205.0 506.8L1205.8 507.4L1206.6 508.2L1207.4 508.4L1208.2 508.7L1209.0 509.8L1209.8 510.0L1210.6 508.2L1211.4 506.9L1212.2 508.5L1213.1 510.7L1213.9 509.7L1214.7 506.4L1215.5 505.3L1216.3 507.4L1217.1 508.5L1217.9 506.7L1218.7 505.3L1219.5 506.5L1220.3 507.8L1221.2 506.5L1222.0 504.7L1222.8 504.9L1223.6 506.4L1224.4 506.6L1225.2 505.4L1226.0 505.5L1226.8 507.3L1227.6 508.1L1228.4 506.5L1229.3 504.8L1230.1 505.1L1230.9 506.4L1231.7 506.8L1232.5 505.9L1233.3 504.6L1234.1 503.7L1234.9 503.5L1235.7 503.9L1236.5 504.7L1237.4 504.9L1238.2 503.9L1239.0 502.7L1239.8 502.9L1240.6 504.4L1241.4 504.7L1242.2 503.5L1243.0 502.8L1243.8 503.9L1244.6 505.2L1245.5 505.3L1246.3 504.9L1247.1 505.5L1247.9 506.6L1248.7 506.6L1249.5 505.8L1250.3 505.9L1251.1 506.8L1251.9 506.5L1252.8 505.7L1253.6 506.6L1254.4 508.9L1255.2 509.5L1256.0 507.6L1256.8 506.3L1257.6 507.5L1258.4 509.4L1259.2 510.0L1260.0 509.7L1260.8 509.4L1261.7 509.7L1262.5 510.4L1263.3 511.0L1264.1 510.5L1264.9 509.2L1265.7 508.8L1266.5 509.6L1267.3 510.5L1268.1 510.5L1268.9 510.2L1269.8 509.7L1270.6 508.5L1271.4 507.3L1272.2 506.6L1273.0 506.5L1273.8 506.5L1274.6 506.6L1275.4 506.6L1276.2 506.4L1277.0 506.5L1277.9 506.1L1278.7 504.1L1279.5 501.5L1280.3 501.7L1281.1 505.5L1281.9 508.4L1282.7 505.9L1283.5 500.3L1284.3 498.5L1285.1 502.5L1286.0 506.9L1286.8 506.6L1287.6 502.9L1288.4 500.5L1289.2 501.4L1290.0 504.1L1290.8 505.5L1291.6 504.7L1292.4 503.6L1293.2 503.7L1294.1 504.2L1294.9 504.2L1295.7 504.6L1296.5 505.8" stroke="#c8c800" stroke-width="2.25"/>
<path d="M325.3 744.1L326.9 777.8L328.5 775.8L330.2 744.1L331.8 730.3L333.4 740.0L335.0 735.9L336.6 735.8L338.3 739.2L339.9 745.3L341.5 752.4L343.1 758.3L344.7 760.9L346.4 759.6L348.0 755.2L349.6 750.4L351.2 748.8L352.8 752.4L354.5 760.2L356.1 767.1L357.7 769.3L359.3 765.6L360.9 756.6L362.6 747.1L364.2 743.2L365.8 745.4L367.4 750.4L369.0 753.3L370.7 751.6L372.3 746.8L373.9 742.3L375.5 741.2L377.1 744.4L378.8 751.2L380.4 758.5L382.0 762.4L383.6 761.3L385.2 756.6L386.9 751.9L388.5 750.4L390.1 751.3L391.7 751.4L393.3 748.0L395.0 742.4L396.6 738.0L398.2 737.4L399.8 741.4L401.4 750.6L403.1 761.2L404.7 767.4L406.3 766.8L407.9 758.6L409.5 745.5L411.2 735.4L412.8 732.2L414.4 734.8L416.0 742.6L417.6 751.0L419.3 754.7L420.9 752.6L422.5 748.2L424.1 747.5L425.7 753.4L427.4 762.5L429.0 767.5L430.6 765.6L432.2 757.4L433.8 748.5L435.5 744.6L437.1 745.2L438.7 746.7L440.3 747.1L441.9 749.1L443.6 755.9L445.2 765.7L446.8 771.3L448.4 769.5L450.0 758.7L451.7 744.3L453.3 738.8L454.9 745.2L456.5 758.9L458.1 767.0L459.8 764.0L461.4 750.2L463.0 735.7L464.6 730.9L466.2 735.5L467.9 748.8L469.5 761.9L471.1 766.2L472.7 761.8L474.3 751.9L476.0 743.3L477.6 739.8L479.2 740.3L480.8 742.8L482.4 747.0L484.1 752.3L485.7 756.6L487.3 756.9L488.9 753.0L490.5 749.0L492.2 750.3L493.8 757.2L495.4 763.9L497.0 764.8L498.6 759.2L500.3 750.2L501.9 743.4L503.5 740.0L505.1 737.2L506.7 734.0L508.4 732.8L510.0 737.4L511.6 751.0L513.2 767.3L514.8 775.3L516.5 775.7L518.1 769.9L519.7 757.7L521.3 744.2L522.9 735.7L524.6 732.8L526.2 734.1L527.8 738.4L529.4 744.5L531.0 750.8L532.7 757.1L534.3 763.1L535.9 766.8L537.5 765.6L539.1 757.0L540.8 742.6L542.4 732.9L544.0 733.1L545.6 745.4L547.2 765.2L548.9 775.3L550.5 774.7L552.1 763.2L553.7 742.9L555.3 731.3L557.0 731.1L558.6 740.5L560.2 755.6L561.8 764.9L563.4 764.8L565.1 757.2L566.7 746.9L568.3 740.1L569.9 737.8L571.5 739.3L573.2 744.0L574.8 751.2L576.4 758.2L578.0 762.4L579.6 764.2L581.3 765.2L582.9 765.9L584.5 763.4L586.1 753.4L587.7 737.1L589.4 726.5L591.0 725.0L592.6 733.5L594.2 756.5L595.8 774.2L597.5 778.1L599.1 773.9L600.7 761.7L602.3 747.8L603.9 740.5L605.6 738.3L607.2 737.7L608.8 737.9L610.4 740.7L612.0 748.3L613.7 759.4L615.3 768.1L616.9 771.0L618.5 767.4L620.1 756.6L621.8 742.4L623.4 732.8L625.0 730.0L626.6 732.9L628.2 742.1L629.9 755.6L631.5 766.0L633.1 769.0L634.7 763.5L636.3 748.6L638.0 733.6L639.6 727.4L641.2 728.8L642.8 737.9L644.4 753.2L646.1 765.2L647.7 769.8L649.3 768.3L650.9 761.6L652.5 751.9L654.2 744.4L655.8 741.9L657.4 743.3L659.0 745.0L660.6 744.7L662.3 744.0L663.9 746.9L665.5 755.9L667.1 766.2L668.7 771.0L670.4 768.0L672.0 756.4L673.6 741.5L675.2 733.0L676.8 732.3L678.5 738.3L680.1 750.8L681.7 763.5L683.3 770.0L684.9 769.5L686.6 762.1L688.2 749.4L689.8 738.3L691.4 733.7L693.0 735.5L694.7 743.1L696.3 753.3L697.9 759.7L699.5 759.6L701.1 755.0L702.8 751.2L704.4 752.1L706.0 756.3L707.6 759.1L709.2 756.6L710.9 749.6L712.5 743.6L714.1 743.0L715.7 748.9L717.3 758.0L719.0 764.6L720.6 765.1L722.2 758.5L723.8 746.1L725.4 735.8L727.1 733.3L728.7 739.5L730.3 753.5L731.9 765.9L733.5 770.1L735.2 766.8L736.8 757.4L738.4 746.3L740.0 738.7L741.6 734.9L743.3 733.2L744.9 733.8L746.5 739.2L748.1 753.2L749.7 770.3L751.4 778.5L753.0 778.6L754.6 768.3L756.2 742.5L757.8 725.8L759.5 722.7L761.1 727.7L762.7 744.2L764.3 764.2L765.9 773.0L767.6 773.0L769.2 767.2L770.8 758.5L772.4 753.1L774.0 753.8L775.7 757.5L777.3 757.5L778.9 748.7L780.5 733.8L782.1 724.6L783.8 723.3L785.4 729.8L787.0 749.3L788.6 767.2L790.2 770.7L791.9 763.0L793.5 750.4L795.1 746.8L796.7 757.0L798.3 771.1L800.0 776.7L801.6 773.5L803.2 759.5L804.8 741.2L806.4 732.7L808.1 733.0L809.7 737.9L811.3 743.7L812.9 748.4L814.5 752.2L816.2 755.8L817.8 758.2L819.4 758.5L821.0 756.4L822.6 753.2L824.3 750.2L825.9 748.3L827.5 746.9L829.1 746.1L830.7 747.4L832.4 752.6L834.0 759.8L835.6 762.9L837.2 757.2L838.8 743.4L840.5 732.7L842.1 731.9L843.7 741.3L845.3 756.4L846.9 764.2L848.6 761.5L850.2 751.6L851.8 743.0L853.4 741.5L855.0 746.3L856.7 752.4L858.3 754.0L859.9 750.2L861.5 744.5L863.1 741.6L864.8 743.1L866.4 747.9L868.0 753.1L869.6 756.6L871.2 758.1L872.9 757.7L874.5 755.1L876.1 750.1L877.7 744.2L879.3 740.6L881.0 742.2L882.6 749.6L884.2 759.2L885.8 764.7L887.4 764.6L889.1 761.3L890.7 759.8L892.3 763.6L893.9 769.4L895.5 772.3L897.2 769.7L898.8 760.5L900.4 747.8L902.0 739.4L903.6 737.9L905.3 741.4L906.9 746.3L908.5 749.1L910.1 749.1L911.7 748.4L913.4 748.3L915.0 747.9L916.6 745.1L918.2 740.5L919.8 737.9L921.5 741.1L923.1 751.6L924.7 763.3L926.3 767.0L927.9 758.7L929.6 739.5L931.2 726.5L932.8 724.7L934.4 733.7L936.0 758.2L937.7 775.4L939.3 778.4L940.9 772.8L942.5 757.2L944.1 741.7L945.8 736.6L947.4 740.3L949.0 750.5L950.6 761.8L952.2 768.5L953.9 768.7L955.5 760.9L957.1 745.9L958.7 733.9L960.3 730.5L962.0 734.8L963.6 745.9L965.2 757.7L966.8 763.3L968.4 762.3L970.1 756.7L971.7 750.2L973.3 746.4L974.9 746.8L976.5 750.5L978.2 754.8L979.8 757.2L981.4 757.3L983.0 756.8L984.6 756.8L986.3 756.1L987.9 752.5L989.5 745.7L991.1 738.6L992.7 735.2L994.4 737.1L996.0 743.4L997.6 751.0L999.2 756.1L1000.8 757.9L1002.5 758.4L1004.1 759.4L1005.7 760.9L1007.3 761.5L1008.9 759.5L1010.6 754.5L1012.2 748.0L1013.8 742.6L1015.4 740.4L1017.0 741.7L1018.7 745.5L1020.3 750.3L1021.9 754.4L1023.5 757.2L1025.1 758.3L1026.8 757.6L1028.4 755.6L1030.0 753.8L1031.6 752.9L1033.2 751.8L1034.9 748.9L1036.5 745.1L1038.1 743.8L1039.7 747.5L1041.3 755.7L1043.0 762.9L1044.6 764.3L1046.2 759.5L1047.8 751.2L1049.4 744.8L1051.1 743.5L1052.7 746.2L1054.3 750.7L1055.9 754.5L1057.5 756.8L1059.2 757.2L1060.8 755.3L1062.4 750.8L1064.0 745.6L1065.6 743.7L1067.3 748.5L1068.9 759.3L1070.5 768.8L1072.1 771.7L1073.7 767.0L1075.4 754.6L1077.0 741.3L1078.6 734.3L1080.2 732.7L1081.8 733.6L1083.5 734.8L1085.1 736.1L1086.7 738.6L1088.3 743.5L1089.9 750.8L1091.6 758.6L1093.2 764.5L1094.8 767.1L1096.4 765.5L1098.0 758.4L1099.7 746.8L1101.3 736.9L1102.9 733.0L1104.5 735.4L1106.1 743.2L1107.8 752.9L1109.4 758.5L1111.0 757.8L1112.6 752.3L1114.2 747.4L1115.9 749.4L1117.5 758.9L1119.1 768.2L1120.7 770.3L1122.3 765.7L1124.0 759.4L1125.6 758.2L1127.2 760.2L1128.8 756.7L1130.4 742.9L1132.1 728.7L1133.7 723.4L1135.3 725.1L1136.9 735.7L1138.5 757.3L1140.2 773.9L1141.8 779.5L1143.4 778.5L1145.0 769.1L1146.6 748.4L1148.3 732.7L1149.9 729.4L1151.5 734.3L1153.1 744.2L1154.7 751.7L1156.4 752.5L1158.0 749.1L1159.6 746.9L1161.2 749.5L1162.8 755.7L1164.5 760.3L1166.1 758.7L1167.7 750.1L1169.3 739.5L1170.9 733.1L1172.6 732.2L1174.2 735.9L1175.8 744.1L1177.4 756.0L1179.0 767.5L1180.7 773.7L1182.3 773.2L1183.9 763.0L1185.5 742.0L1187.1 727.9L1188.8 725.5L1190.4 733.2L1192.0 754.6L1193.6 773.0L1195.2 778.4L1196.9 776.4L1198.5 766.3L1200.1 749.8L1201.7 738.9L1203.3 738.1L1205.0 744.6L1206.6 752.3L1208.2 754.3L1209.8 750.6L1211.4 747.5L1213.1 750.7L1214.7 759.5L1216.3 766.5L1217.9 767.3L1219.5 761.0L1221.2 749.1L1222.8 737.2L1224.4 729.5L1226.0 726.5L1227.6 728.9L1229.3 741.2L1230.9 763.9L1232.5 777.4L1234.1 780.1L1235.7 776.5L1237.4 766.2L1239.0 755.7L1240.6 753.3L1242.2 756.4L1243.8 758.7L1245.5 756.1L1247.1 748.1L1248.7 737.6L1250.3 729.4L1251.9 725.8L1253.6 727.0L1255.2 734.3L1256.8 747.4L1258.4 758.0L1260.0 761.3L1261.7 758.7L1263.3 753.4L1264.9 748.3L1266.5 745.8L1268.1 747.6L1269.8 753.6L1271.4 760.4L1273.0 763.4L1274.6 760.0L1276.2 750.7L1277.9 741.9L1279.5 740.2L1281.1 747.9L1282.7 761.4L1284.3 770.4L1286.0 771.2L1287.6 763.9L1289.2 754.4L1290.8 751.0L1292.4 752.3L1294.1 752.0L1295.7 743.3" stroke="#bebebe" stroke-width="2.3" stroke-linejoin="miter"/>
<path d="M332.5 702.2L1303.6 708.8" stroke="#ff0000" stroke-width="4.5" stroke-linecap="round"/>
</g>
<line x1="211.9" y1="427.42" x2="211.9" y2="585.78" stroke="#bebebe" stroke-width="2.3" stroke-linecap="butt"/>
<line x1="205" y1="427.42" x2="218.8" y2="427.42" stroke="#bebebe" stroke-width="2.3" stroke-linecap="butt"/>
<line x1="205" y1="585.78" x2="218.8" y2="585.78" stroke="#bebebe" stroke-width="2.3" stroke-linecap="butt"/>
<circle cx="211.9" cy="506.6" r="4.0" fill="#000"/>
<text x="244" y="506.75" font-size="24.2" text-anchor="middle" font-weight="normal" transform="rotate(-90 244 506.75)">Typical noise level</text>
<rect x="163.3" y="110.7" width="1296" height="791.8" fill="none" stroke="#000" stroke-width="2.7"/>
<line x1="163.3" y1="902.5" x2="163.3" y2="914.1" stroke="#000" stroke-width="1" stroke-linecap="butt"/>
<line x1="163.3" y1="110.7" x2="163.3" y2="99.1" stroke="#000" stroke-width="1" stroke-linecap="butt"/>
<line x1="179.5" y1="902.5" x2="179.5" y2="908.3" stroke="#000" stroke-width="1" stroke-linecap="butt"/>
<line x1="179.5" y1="110.7" x2="179.5" y2="104.9" stroke="#000" stroke-width="1" stroke-linecap="butt"/>
<line x1="195.7" y1="902.5" x2="195.7" y2="908.3" stroke="#000" stroke-width="1" stroke-linecap="butt"/>
<line x1="195.7" y1="110.7" x2="195.7" y2="104.9" stroke="#000" stroke-width="1" stroke-linecap="butt"/>
<line x1="211.9" y1="902.5" x2="211.9" y2="908.3" stroke="#000" stroke-width="1" stroke-linecap="butt"/>
<line x1="211.9" y1="110.7" x2="211.9" y2="104.9" stroke="#000" stroke-width="1" stroke-linecap="butt"/>
<line x1="228.1" y1="902.5" x2="228.1" y2="908.3" stroke="#000" stroke-width="1" stroke-linecap="butt"/>
<line x1="228.1" y1="110.7" x2="228.1" y2="104.9" stroke="#000" stroke-width="1" stroke-linecap="butt"/>
<line x1="244.3" y1="902.5" x2="244.3" y2="908.3" stroke="#000" stroke-width="1" stroke-linecap="butt"/>
<line x1="244.3" y1="110.7" x2="244.3" y2="104.9" stroke="#000" stroke-width="1" stroke-linecap="butt"/>
<line x1="260.5" y1="902.5" x2="260.5" y2="908.3" stroke="#000" stroke-width="1" stroke-linecap="butt"/>
<line x1="260.5" y1="110.7" x2="260.5" y2="104.9" stroke="#000" stroke-width="1" stroke-linecap="butt"/>
<line x1="276.7" y1="902.5" x2="276.7" y2="908.3" stroke="#000" stroke-width="1" stroke-linecap="butt"/>
<line x1="276.7" y1="110.7" x2="276.7" y2="104.9" stroke="#000" stroke-width="1" stroke-linecap="butt"/>
<line x1="292.9" y1="902.5" x2="292.9" y2="908.3" stroke="#000" stroke-width="1" stroke-linecap="butt"/>
<line x1="292.9" y1="110.7" x2="292.9" y2="104.9" stroke="#000" stroke-width="1" stroke-linecap="butt"/>
<line x1="309.1" y1="902.5" x2="309.1" y2="908.3" stroke="#000" stroke-width="1" stroke-linecap="butt"/>
<line x1="309.1" y1="110.7" x2="309.1" y2="104.9" stroke="#000" stroke-width="1" stroke-linecap="butt"/>
<line x1="325.3" y1="902.5" x2="325.3" y2="914.1" stroke="#000" stroke-width="1" stroke-linecap="butt"/>
<line x1="325.3" y1="110.7" x2="325.3" y2="99.1" stroke="#000" stroke-width="1" stroke-linecap="butt"/>
<line x1="341.5" y1="902.5" x2="341.5" y2="908.3" stroke="#000" stroke-width="1" stroke-linecap="butt"/>
<line x1="341.5" y1="110.7" x2="341.5" y2="104.9" stroke="#000" stroke-width="1" stroke-linecap="butt"/>
<line x1="357.7" y1="902.5" x2="357.7" y2="908.3" stroke="#000" stroke-width="1" stroke-linecap="butt"/>
<line x1="357.7" y1="110.7" x2="357.7" y2="104.9" stroke="#000" stroke-width="1" stroke-linecap="butt"/>
<line x1="373.9" y1="902.5" x2="373.9" y2="908.3" stroke="#000" stroke-width="1" stroke-linecap="butt"/>
<line x1="373.9" y1="110.7" x2="373.9" y2="104.9" stroke="#000" stroke-width="1" stroke-linecap="butt"/>
<line x1="390.1" y1="902.5" x2="390.1" y2="908.3" stroke="#000" stroke-width="1" stroke-linecap="butt"/>
<line x1="390.1" y1="110.7" x2="390.1" y2="104.9" stroke="#000" stroke-width="1" stroke-linecap="butt"/>
<line x1="406.3" y1="902.5" x2="406.3" y2="908.3" stroke="#000" stroke-width="1" stroke-linecap="butt"/>
<line x1="406.3" y1="110.7" x2="406.3" y2="104.9" stroke="#000" stroke-width="1" stroke-linecap="butt"/>
<line x1="422.5" y1="902.5" x2="422.5" y2="908.3" stroke="#000" stroke-width="1" stroke-linecap="butt"/>
<line x1="422.5" y1="110.7" x2="422.5" y2="104.9" stroke="#000" stroke-width="1" stroke-linecap="butt"/>
<line x1="438.7" y1="902.5" x2="438.7" y2="908.3" stroke="#000" stroke-width="1" stroke-linecap="butt"/>
<line x1="438.7" y1="110.7" x2="438.7" y2="104.9" stroke="#000" stroke-width="1" stroke-linecap="butt"/>
<line x1="454.9" y1="902.5" x2="454.9" y2="908.3" stroke="#000" stroke-width="1" stroke-linecap="butt"/>
<line x1="454.9" y1="110.7" x2="454.9" y2="104.9" stroke="#000" stroke-width="1" stroke-linecap="butt"/>
<line x1="471.1" y1="902.5" x2="471.1" y2="908.3" stroke="#000" stroke-width="1" stroke-linecap="butt"/>
<line x1="471.1" y1="110.7" x2="471.1" y2="104.9" stroke="#000" stroke-width="1" stroke-linecap="butt"/>
<line x1="487.3" y1="902.5" x2="487.3" y2="914.1" stroke="#000" stroke-width="1" stroke-linecap="butt"/>
<line x1="487.3" y1="110.7" x2="487.3" y2="99.1" stroke="#000" stroke-width="1" stroke-linecap="butt"/>
<line x1="503.5" y1="902.5" x2="503.5" y2="908.3" stroke="#000" stroke-width="1" stroke-linecap="butt"/>
<line x1="503.5" y1="110.7" x2="503.5" y2="104.9" stroke="#000" stroke-width="1" stroke-linecap="butt"/>
<line x1="519.7" y1="902.5" x2="519.7" y2="908.3" stroke="#000" stroke-width="1" stroke-linecap="butt"/>
<line x1="519.7" y1="110.7" x2="519.7" y2="104.9" stroke="#000" stroke-width="1" stroke-linecap="butt"/>
<line x1="535.9" y1="902.5" x2="535.9" y2="908.3" stroke="#000" stroke-width="1" stroke-linecap="butt"/>
<line x1="535.9" y1="110.7" x2="535.9" y2="104.9" stroke="#000" stroke-width="1" stroke-linecap="butt"/>
<line x1="552.1" y1="902.5" x2="552.1" y2="908.3" stroke="#000" stroke-width="1" stroke-linecap="butt"/>
<line x1="552.1" y1="110.7" x2="552.1" y2="104.9" stroke="#000" stroke-width="1" stroke-linecap="butt"/>
<line x1="568.3" y1="902.5" x2="568.3" y2="908.3" stroke="#000" stroke-width="1" stroke-linecap="butt"/>
<line x1="568.3" y1="110.7" x2="568.3" y2="104.9" stroke="#000" stroke-width="1" stroke-linecap="butt"/>
<line x1="584.5" y1="902.5" x2="584.5" y2="908.3" stroke="#000" stroke-width="1" stroke-linecap="butt"/>
<line x1="584.5" y1="110.7" x2="584.5" y2="104.9" stroke="#000" stroke-width="1" stroke-linecap="butt"/>
<line x1="600.7" y1="902.5" x2="600.7" y2="908.3" stroke="#000" stroke-width="1" stroke-linecap="butt"/>
<line x1="600.7" y1="110.7" x2="600.7" y2="104.9" stroke="#000" stroke-width="1" stroke-linecap="butt"/>
<line x1="616.9" y1="902.5" x2="616.9" y2="908.3" stroke="#000" stroke-width="1" stroke-linecap="butt"/>
<line x1="616.9" y1="110.7" x2="616.9" y2="104.9" stroke="#000" stroke-width="1" stroke-linecap="butt"/>
<line x1="633.1" y1="902.5" x2="633.1" y2="908.3" stroke="#000" stroke-width="1" stroke-linecap="butt"/>
<line x1="633.1" y1="110.7" x2="633.1" y2="104.9" stroke="#000" stroke-width="1" stroke-linecap="butt"/>
<line x1="649.3" y1="902.5" x2="649.3" y2="914.1" stroke="#000" stroke-width="1" stroke-linecap="butt"/>
<line x1="649.3" y1="110.7" x2="649.3" y2="99.1" stroke="#000" stroke-width="1" stroke-linecap="butt"/>
<line x1="665.5" y1="902.5" x2="665.5" y2="908.3" stroke="#000" stroke-width="1" stroke-linecap="butt"/>
<line x1="665.5" y1="110.7" x2="665.5" y2="104.9" stroke="#000" stroke-width="1" stroke-linecap="butt"/>
<line x1="681.7" y1="902.5" x2="681.7" y2="908.3" stroke="#000" stroke-width="1" stroke-linecap="butt"/>
<line x1="681.7" y1="110.7" x2="681.7" y2="104.9" stroke="#000" stroke-width="1" stroke-linecap="butt"/>
<line x1="697.9" y1="902.5" x2="697.9" y2="908.3" stroke="#000" stroke-width="1" stroke-linecap="butt"/>
<line x1="697.9" y1="110.7" x2="697.9" y2="104.9" stroke="#000" stroke-width="1" stroke-linecap="butt"/>
<line x1="714.1" y1="902.5" x2="714.1" y2="908.3" stroke="#000" stroke-width="1" stroke-linecap="butt"/>
<line x1="714.1" y1="110.7" x2="714.1" y2="104.9" stroke="#000" stroke-width="1" stroke-linecap="butt"/>
<line x1="730.3" y1="902.5" x2="730.3" y2="908.3" stroke="#000" stroke-width="1" stroke-linecap="butt"/>
<line x1="730.3" y1="110.7" x2="730.3" y2="104.9" stroke="#000" stroke-width="1" stroke-linecap="butt"/>
<line x1="746.5" y1="902.5" x2="746.5" y2="908.3" stroke="#000" stroke-width="1" stroke-linecap="butt"/>
<line x1="746.5" y1="110.7" x2="746.5" y2="104.9" stroke="#000" stroke-width="1" stroke-linecap="butt"/>
<line x1="762.7" y1="902.5" x2="762.7" y2="908.3" stroke="#000" stroke-width="1" stroke-linecap="butt"/>
<line x1="762.7" y1="110.7" x2="762.7" y2="104.9" stroke="#000" stroke-width="1" stroke-linecap="butt"/>
<line x1="778.9" y1="902.5" x2="778.9" y2="908.3" stroke="#000" stroke-width="1" stroke-linecap="butt"/>
<line x1="778.9" y1="110.7" x2="778.9" y2="104.9" stroke="#000" stroke-width="1" stroke-linecap="butt"/>
<line x1="795.1" y1="902.5" x2="795.1" y2="908.3" stroke="#000" stroke-width="1" stroke-linecap="butt"/>
<line x1="795.1" y1="110.7" x2="795.1" y2="104.9" stroke="#000" stroke-width="1" stroke-linecap="butt"/>
<line x1="811.3" y1="902.5" x2="811.3" y2="914.1" stroke="#000" stroke-width="1" stroke-linecap="butt"/>
<line x1="811.3" y1="110.7" x2="811.3" y2="99.1" stroke="#000" stroke-width="1" stroke-linecap="butt"/>
<line x1="827.5" y1="902.5" x2="827.5" y2="908.3" stroke="#000" stroke-width="1" stroke-linecap="butt"/>
<line x1="827.5" y1="110.7" x2="827.5" y2="104.9" stroke="#000" stroke-width="1" stroke-linecap="butt"/>
<line x1="843.7" y1="902.5" x2="843.7" y2="908.3" stroke="#000" stroke-width="1" stroke-linecap="butt"/>
<line x1="843.7" y1="110.7" x2="843.7" y2="104.9" stroke="#000" stroke-width="1" stroke-linecap="butt"/>
<line x1="859.9" y1="902.5" x2="859.9" y2="908.3" stroke="#000" stroke-width="1" stroke-linecap="butt"/>
<line x1="859.9" y1="110.7" x2="859.9" y2="104.9" stroke="#000" stroke-width="1" stroke-linecap="butt"/>
<line x1="876.1" y1="902.5" x2="876.1" y2="908.3" stroke="#000" stroke-width="1" stroke-linecap="butt"/>
<line x1="876.1" y1="110.7" x2="876.1" y2="104.9" stroke="#000" stroke-width="1" stroke-linecap="butt"/>
<line x1="892.3" y1="902.5" x2="892.3" y2="908.3" stroke="#000" stroke-width="1" stroke-linecap="butt"/>
<line x1="892.3" y1="110.7" x2="892.3" y2="104.9" stroke="#000" stroke-width="1" stroke-linecap="butt"/>
<line x1="908.5" y1="902.5" x2="908.5" y2="908.3" stroke="#000" stroke-width="1" stroke-linecap="butt"/>
<line x1="908.5" y1="110.7" x2="908.5" y2="104.9" stroke="#000" stroke-width="1" stroke-linecap="butt"/>
<line x1="924.7" y1="902.5" x2="924.7" y2="908.3" stroke="#000" stroke-width="1" stroke-linecap="butt"/>
<line x1="924.7" y1="110.7" x2="924.7" y2="104.9" stroke="#000" stroke-width="1" stroke-linecap="butt"/>
<line x1="940.9" y1="902.5" x2="940.9" y2="908.3" stroke="#000" stroke-width="1" stroke-linecap="butt"/>
<line x1="940.9" y1="110.7" x2="940.9" y2="104.9" stroke="#000" stroke-width="1" stroke-linecap="butt"/>
<line x1="957.1" y1="902.5" x2="957.1" y2="908.3" stroke="#000" stroke-width="1" stroke-linecap="butt"/>
<line x1="957.1" y1="110.7" x2="957.1" y2="104.9" stroke="#000" stroke-width="1" stroke-linecap="butt"/>
<line x1="973.3" y1="902.5" x2="973.3" y2="914.1" stroke="#000" stroke-width="1" stroke-linecap="butt"/>
<line x1="973.3" y1="110.7" x2="973.3" y2="99.1" stroke="#000" stroke-width="1" stroke-linecap="butt"/>
<line x1="989.5" y1="902.5" x2="989.5" y2="908.3" stroke="#000" stroke-width="1" stroke-linecap="butt"/>
<line x1="989.5" y1="110.7" x2="989.5" y2="104.9" stroke="#000" stroke-width="1" stroke-linecap="butt"/>
<line x1="1005.7" y1="902.5" x2="1005.7" y2="908.3" stroke="#000" stroke-width="1" stroke-linecap="butt"/>
<line x1="1005.7" y1="110.7" x2="1005.7" y2="104.9" stroke="#000" stroke-width="1" stroke-linecap="butt"/>
<line x1="1021.9" y1="902.5" x2="1021.9" y2="908.3" stroke="#000" stroke-width="1" stroke-linecap="butt"/>
<line x1="1021.9" y1="110.7" x2="1021.9" y2="104.9" stroke="#000" stroke-width="1" stroke-linecap="butt"/>
<line x1="1038.1" y1="902.5" x2="1038.1" y2="908.3" stroke="#000" stroke-width="1" stroke-linecap="butt"/>
<line x1="1038.1" y1="110.7" x2="1038.1" y2="104.9" stroke="#000" stroke-width="1" stroke-linecap="butt"/>
<line x1="1054.3" y1="902.5" x2="1054.3" y2="908.3" stroke="#000" stroke-width="1" stroke-linecap="butt"/>
<line x1="1054.3" y1="110.7" x2="1054.3" y2="104.9" stroke="#000" stroke-width="1" stroke-linecap="butt"/>
<line x1="1070.5" y1="902.5" x2="1070.5" y2="908.3" stroke="#000" stroke-width="1" stroke-linecap="butt"/>
<line x1="1070.5" y1="110.7" x2="1070.5" y2="104.9" stroke="#000" stroke-width="1" stroke-linecap="butt"/>
<line x1="1086.7" y1="902.5" x2="1086.7" y2="908.3" stroke="#000" stroke-width="1" stroke-linecap="butt"/>
<line x1="1086.7" y1="110.7" x2="1086.7" y2="104.9" stroke="#000" stroke-width="1" stroke-linecap="butt"/>
<line x1="1102.9" y1="902.5" x2="1102.9" y2="908.3" stroke="#000" stroke-width="1" stroke-linecap="butt"/>
<line x1="1102.9" y1="110.7" x2="1102.9" y2="104.9" stroke="#000" stroke-width="1" stroke-linecap="butt"/>
<line x1="1119.1" y1="902.5" x2="1119.1" y2="908.3" stroke="#000" stroke-width="1" stroke-linecap="butt"/>
<line x1="1119.1" y1="110.7" x2="1119.1" y2="104.9" stroke="#000" stroke-width="1" stroke-linecap="butt"/>
<line x1="1135.3" y1="902.5" x2="1135.3" y2="914.1" stroke="#000" stroke-width="1" stroke-linecap="butt"/>
<line x1="1135.3" y1="110.7" x2="1135.3" y2="99.1" stroke="#000" stroke-width="1" stroke-linecap="butt"/>
<line x1="1151.5" y1="902.5" x2="1151.5" y2="908.3" stroke="#000" stroke-width="1" stroke-linecap="butt"/>
<line x1="1151.5" y1="110.7" x2="1151.5" y2="104.9" stroke="#000" stroke-width="1" stroke-linecap="butt"/>
<line x1="1167.7" y1="902.5" x2="1167.7" y2="908.3" stroke="#000" stroke-width="1" stroke-linecap="butt"/>
<line x1="1167.7" y1="110.7" x2="1167.7" y2="104.9" stroke="#000" stroke-width="1" stroke-linecap="butt"/>
<line x1="1183.9" y1="902.5" x2="1183.9" y2="908.3" stroke="#000" stroke-width="1" stroke-linecap="butt"/>
<line x1="1183.9" y1="110.7" x2="1183.9" y2="104.9" stroke="#000" stroke-width="1" stroke-linecap="butt"/>
<line x1="1200.1" y1="902.5" x2="1200.1" y2="908.3" stroke="#000" stroke-width="1" stroke-linecap="butt"/>
<line x1="1200.1" y1="110.7" x2="1200.1" y2="104.9" stroke="#000" stroke-width="1" stroke-linecap="butt"/>
<line x1="1216.3" y1="902.5" x2="1216.3" y2="908.3" stroke="#000" stroke-width="1" stroke-linecap="butt"/>
<line x1="1216.3" y1="110.7" x2="1216.3" y2="104.9" stroke="#000" stroke-width="1" stroke-linecap="butt"/>
<line x1="1232.5" y1="902.5" x2="1232.5" y2="908.3" stroke="#000" stroke-width="1" stroke-linecap="butt"/>
<line x1="1232.5" y1="110.7" x2="1232.5" y2="104.9" stroke="#000" stroke-width="1" stroke-linecap="butt"/>
<line x1="1248.7" y1="902.5" x2="1248.7" y2="908.3" stroke="#000" stroke-width="1" stroke-linecap="butt"/>
<line x1="1248.7" y1="110.7" x2="1248.7" y2="104.9" stroke="#000" stroke-width="1" stroke-linecap="butt"/>
<line x1="1264.9" y1="902.5" x2="1264.9" y2="908.3" stroke="#000" stroke-width="1" stroke-linecap="butt"/>
<line x1="1264.9" y1="110.7" x2="1264.9" y2="104.9" stroke="#000" stroke-width="1" stroke-linecap="butt"/>
<line x1="1281.1" y1="902.5" x2="1281.1" y2="908.3" stroke="#000" stroke-width="1" stroke-linecap="butt"/>
<line x1="1281.1" y1="110.7" x2="1281.1" y2="104.9" stroke="#000" stroke-width="1" stroke-linecap="butt"/>
<line x1="1297.3" y1="902.5" x2="1297.3" y2="914.1" stroke="#000" stroke-width="1" stroke-linecap="butt"/>
<line x1="1297.3" y1="110.7" x2="1297.3" y2="99.1" stroke="#000" stroke-width="1" stroke-linecap="butt"/>
<line x1="1313.5" y1="902.5" x2="1313.5" y2="908.3" stroke="#000" stroke-width="1" stroke-linecap="butt"/>
<line x1="1313.5" y1="110.7" x2="1313.5" y2="104.9" stroke="#000" stroke-width="1" stroke-linecap="butt"/>
<line x1="1329.7" y1="902.5" x2="1329.7" y2="908.3" stroke="#000" stroke-width="1" stroke-linecap="butt"/>
<line x1="1329.7" y1="110.7" x2="1329.7" y2="104.9" stroke="#000" stroke-width="1" stroke-linecap="butt"/>
<line x1="1345.9" y1="902.5" x2="1345.9" y2="908.3" stroke="#000" stroke-width="1" stroke-linecap="butt"/>
<line x1="1345.9" y1="110.7" x2="1345.9" y2="104.9" stroke="#000" stroke-width="1" stroke-linecap="butt"/>
<line x1="1362.1" y1="902.5" x2="1362.1" y2="908.3" stroke="#000" stroke-width="1" stroke-linecap="butt"/>
<line x1="1362.1" y1="110.7" x2="1362.1" y2="104.9" stroke="#000" stroke-width="1" stroke-linecap="butt"/>
<line x1="1378.3" y1="902.5" x2="1378.3" y2="908.3" stroke="#000" stroke-width="1" stroke-linecap="butt"/>
<line x1="1378.3" y1="110.7" x2="1378.3" y2="104.9" stroke="#000" stroke-width="1" stroke-linecap="butt"/>
<line x1="1394.5" y1="902.5" x2="1394.5" y2="908.3" stroke="#000" stroke-width="1" stroke-linecap="butt"/>
<line x1="1394.5" y1="110.7" x2="1394.5" y2="104.9" stroke="#000" stroke-width="1" stroke-linecap="butt"/>
<line x1="1410.7" y1="902.5" x2="1410.7" y2="908.3" stroke="#000" stroke-width="1" stroke-linecap="butt"/>
<line x1="1410.7" y1="110.7" x2="1410.7" y2="104.9" stroke="#000" stroke-width="1" stroke-linecap="butt"/>
<line x1="1426.9" y1="902.5" x2="1426.9" y2="908.3" stroke="#000" stroke-width="1" stroke-linecap="butt"/>
<line x1="1426.9" y1="110.7" x2="1426.9" y2="104.9" stroke="#000" stroke-width="1" stroke-linecap="butt"/>
<line x1="1443.1" y1="902.5" x2="1443.1" y2="908.3" stroke="#000" stroke-width="1" stroke-linecap="butt"/>
<line x1="1443.1" y1="110.7" x2="1443.1" y2="104.9" stroke="#000" stroke-width="1" stroke-linecap="butt"/>
<line x1="1459.3" y1="902.5" x2="1459.3" y2="914.1" stroke="#000" stroke-width="1" stroke-linecap="butt"/>
<line x1="1459.3" y1="110.7" x2="1459.3" y2="99.1" stroke="#000" stroke-width="1" stroke-linecap="butt"/>
<line x1="163.3" y1="902.5" x2="151.7" y2="902.5" stroke="#000" stroke-width="1" stroke-linecap="butt"/>
<line x1="163.3" y1="862.91" x2="157.5" y2="862.91" stroke="#000" stroke-width="1" stroke-linecap="butt"/>
<line x1="163.3" y1="823.32" x2="151.7" y2="823.32" stroke="#000" stroke-width="1" stroke-linecap="butt"/>
<line x1="163.3" y1="783.73" x2="157.5" y2="783.73" stroke="#000" stroke-width="1" stroke-linecap="butt"/>
<line x1="163.3" y1="744.14" x2="151.7" y2="744.14" stroke="#000" stroke-width="1" stroke-linecap="butt"/>
<line x1="163.3" y1="704.55" x2="157.5" y2="704.55" stroke="#000" stroke-width="1" stroke-linecap="butt"/>
<line x1="163.3" y1="664.96" x2="151.7" y2="664.96" stroke="#000" stroke-width="1" stroke-linecap="butt"/>
<line x1="163.3" y1="625.37" x2="157.5" y2="625.37" stroke="#000" stroke-width="1" stroke-linecap="butt"/>
<line x1="163.3" y1="585.78" x2="151.7" y2="585.78" stroke="#000" stroke-width="1" stroke-linecap="butt"/>
<line x1="163.3" y1="546.19" x2="157.5" y2="546.19" stroke="#000" stroke-width="1" stroke-linecap="butt"/>
<line x1="163.3" y1="506.6" x2="151.7" y2="506.6" stroke="#000" stroke-width="1" stroke-linecap="butt"/>
<line x1="163.3" y1="467.01" x2="157.5" y2="467.01" stroke="#000" stroke-width="1" stroke-linecap="butt"/>
<line x1="163.3" y1="427.42" x2="151.7" y2="427.42" stroke="#000" stroke-width="1" stroke-linecap="butt"/>
<line x1="163.3" y1="387.83" x2="157.5" y2="387.83" stroke="#000" stroke-width="1" stroke-linecap="butt"/>
<line x1="163.3" y1="348.24" x2="151.7" y2="348.24" stroke="#000" stroke-width="1" stroke-linecap="butt"/>
<line x1="163.3" y1="308.65" x2="157.5" y2="308.65" stroke="#000" stroke-width="1" stroke-linecap="butt"/>
<line x1="163.3" y1="269.06" x2="151.7" y2="269.06" stroke="#000" stroke-width="1" stroke-linecap="butt"/>
<line x1="163.3" y1="229.47" x2="157.5" y2="229.47" stroke="#000" stroke-width="1" stroke-linecap="butt"/>
<line x1="163.3" y1="189.88" x2="151.7" y2="189.88" stroke="#000" stroke-width="1" stroke-linecap="butt"/>
<line x1="163.3" y1="150.29" x2="157.5" y2="150.29" stroke="#000" stroke-width="1" stroke-linecap="butt"/>
<line x1="163.3" y1="110.7" x2="151.7" y2="110.7" stroke="#000" stroke-width="1" stroke-linecap="butt"/>
<line x1="1459.3" y1="500.96" x2="1465.1" y2="500.96" stroke="#000" stroke-width="1" stroke-linecap="butt"/>
<line x1="1459.3" y1="494.87" x2="1465.1" y2="494.87" stroke="#000" stroke-width="1" stroke-linecap="butt"/>
<line x1="1459.3" y1="488.77" x2="1465.1" y2="488.77" stroke="#000" stroke-width="1" stroke-linecap="butt"/>
<line x1="1459.3" y1="482.68" x2="1465.1" y2="482.68" stroke="#000" stroke-width="1" stroke-linecap="butt"/>
<line x1="1459.3" y1="476.58" x2="1465.1" y2="476.58" stroke="#000" stroke-width="1" stroke-linecap="butt"/>
<line x1="1459.3" y1="470.48" x2="1465.1" y2="470.48" stroke="#000" stroke-width="1" stroke-linecap="butt"/>
<line x1="1459.3" y1="464.39" x2="1465.1" y2="464.39" stroke="#000" stroke-width="1" stroke-linecap="butt"/>
<line x1="1459.3" y1="458.29" x2="1465.1" y2="458.29" stroke="#000" stroke-width="1" stroke-linecap="butt"/>
<line x1="1459.3" y1="452.2" x2="1465.1" y2="452.2" stroke="#000" stroke-width="1" stroke-linecap="butt"/>
<line x1="1459.3" y1="446.1" x2="1470.9" y2="446.1" stroke="#000" stroke-width="1" stroke-linecap="butt"/>
<line x1="1459.3" y1="440" x2="1465.1" y2="440" stroke="#000" stroke-width="1" stroke-linecap="butt"/>
<line x1="1459.3" y1="433.91" x2="1465.1" y2="433.91" stroke="#000" stroke-width="1" stroke-linecap="butt"/>
<line x1="1459.3" y1="427.81" x2="1465.1" y2="427.81" stroke="#000" stroke-width="1" stroke-linecap="butt"/>
<line x1="1459.3" y1="421.72" x2="1465.1" y2="421.72" stroke="#000" stroke-width="1" stroke-linecap="butt"/>
<line x1="1459.3" y1="415.62" x2="1465.1" y2="415.62" stroke="#000" stroke-width="1" stroke-linecap="butt"/>
<line x1="1459.3" y1="409.52" x2="1465.1" y2="409.52" stroke="#000" stroke-width="1" stroke-linecap="butt"/>
<line x1="1459.3" y1="403.43" x2="1465.1" y2="403.43" stroke="#000" stroke-width="1" stroke-linecap="butt"/>
<line x1="1459.3" y1="397.33" x2="1465.1" y2="397.33" stroke="#000" stroke-width="1" stroke-linecap="butt"/>
<line x1="1459.3" y1="391.24" x2="1465.1" y2="391.24" stroke="#000" stroke-width="1" stroke-linecap="butt"/>
<line x1="1459.3" y1="385.14" x2="1470.9" y2="385.14" stroke="#000" stroke-width="1" stroke-linecap="butt"/>
<line x1="1459.3" y1="379.04" x2="1465.1" y2="379.04" stroke="#000" stroke-width="1" stroke-linecap="butt"/>
<line x1="1459.3" y1="372.95" x2="1465.1" y2="372.95" stroke="#000" stroke-width="1" stroke-linecap="butt"/>
<line x1="1459.3" y1="366.85" x2="1465.1" y2="366.85" stroke="#000" stroke-width="1" stroke-linecap="butt"/>
<line x1="1459.3" y1="360.76" x2="1465.1" y2="360.76" stroke="#000" stroke-width="1" stroke-linecap="butt"/>
<line x1="1459.3" y1="354.66" x2="1465.1" y2="354.66" stroke="#000" stroke-width="1" stroke-linecap="butt"/>
<line x1="1459.3" y1="348.56" x2="1465.1" y2="348.56" stroke="#000" stroke-width="1" stroke-linecap="butt"/>
<line x1="1459.3" y1="342.47" x2="1465.1" y2="342.47" stroke="#000" stroke-width="1" stroke-linecap="butt"/>
<line x1="1459.3" y1="336.37" x2="1465.1" y2="336.37" stroke="#000" stroke-width="1" stroke-linecap="butt"/>
<line x1="1459.3" y1="330.28" x2="1465.1" y2="330.28" stroke="#000" stroke-width="1" stroke-linecap="butt"/>
<line x1="1459.3" y1="324.18" x2="1470.9" y2="324.18" stroke="#000" stroke-width="1" stroke-linecap="butt"/>
<line x1="1459.3" y1="318.08" x2="1465.1" y2="318.08" stroke="#000" stroke-width="1" stroke-linecap="butt"/>
<line x1="1459.3" y1="311.99" x2="1465.1" y2="311.99" stroke="#000" stroke-width="1" stroke-linecap="butt"/>
<line x1="1459.3" y1="305.89" x2="1465.1" y2="305.89" stroke="#000" stroke-width="1" stroke-linecap="butt"/>
<line x1="1459.3" y1="299.8" x2="1465.1" y2="299.8" stroke="#000" stroke-width="1" stroke-linecap="butt"/>
<line x1="1459.3" y1="293.7" x2="1465.1" y2="293.7" stroke="#000" stroke-width="1" stroke-linecap="butt"/>
<line x1="1459.3" y1="287.6" x2="1465.1" y2="287.6" stroke="#000" stroke-width="1" stroke-linecap="butt"/>
<line x1="1459.3" y1="281.51" x2="1465.1" y2="281.51" stroke="#000" stroke-width="1" stroke-linecap="butt"/>
<line x1="1459.3" y1="275.41" x2="1465.1" y2="275.41" stroke="#000" stroke-width="1" stroke-linecap="butt"/>
<line x1="1459.3" y1="269.32" x2="1465.1" y2="269.32" stroke="#000" stroke-width="1" stroke-linecap="butt"/>
<line x1="1459.3" y1="263.22" x2="1470.9" y2="263.22" stroke="#000" stroke-width="1" stroke-linecap="butt"/>
<line x1="1459.3" y1="257.12" x2="1465.1" y2="257.12" stroke="#000" stroke-width="1" stroke-linecap="butt"/>
<line x1="1459.3" y1="251.03" x2="1465.1" y2="251.03" stroke="#000" stroke-width="1" stroke-linecap="butt"/>
<line x1="1459.3" y1="244.93" x2="1465.1" y2="244.93" stroke="#000" stroke-width="1" stroke-linecap="butt"/>
<line x1="1459.3" y1="238.84" x2="1465.1" y2="238.84" stroke="#000" stroke-width="1" stroke-linecap="butt"/>
<line x1="1459.3" y1="232.74" x2="1465.1" y2="232.74" stroke="#000" stroke-width="1" stroke-linecap="butt"/>
<line x1="1459.3" y1="226.64" x2="1465.1" y2="226.64" stroke="#000" stroke-width="1" stroke-linecap="butt"/>
<line x1="1459.3" y1="220.55" x2="1465.1" y2="220.55" stroke="#000" stroke-width="1" stroke-linecap="butt"/>
<line x1="1459.3" y1="214.45" x2="1465.1" y2="214.45" stroke="#000" stroke-width="1" stroke-linecap="butt"/>
<line x1="1459.3" y1="208.36" x2="1465.1" y2="208.36" stroke="#000" stroke-width="1" stroke-linecap="butt"/>
<line x1="1459.3" y1="202.26" x2="1470.9" y2="202.26" stroke="#000" stroke-width="1" stroke-linecap="butt"/>
<line x1="1459.3" y1="196.16" x2="1465.1" y2="196.16" stroke="#000" stroke-width="1" stroke-linecap="butt"/>
<line x1="1459.3" y1="190.07" x2="1465.1" y2="190.07" stroke="#000" stroke-width="1" stroke-linecap="butt"/>
<line x1="1459.3" y1="183.97" x2="1465.1" y2="183.97" stroke="#000" stroke-width="1" stroke-linecap="butt"/>
<line x1="1459.3" y1="177.88" x2="1465.1" y2="177.88" stroke="#000" stroke-width="1" stroke-linecap="butt"/>
<line x1="1459.3" y1="171.78" x2="1465.1" y2="171.78" stroke="#000" stroke-width="1" stroke-linecap="butt"/>
<line x1="1459.3" y1="165.68" x2="1465.1" y2="165.68" stroke="#000" stroke-width="1" stroke-linecap="butt"/>
<line x1="1459.3" y1="159.59" x2="1465.1" y2="159.59" stroke="#000" stroke-width="1" stroke-linecap="butt"/>
<line x1="1459.3" y1="153.49" x2="1465.1" y2="153.49" stroke="#000" stroke-width="1" stroke-linecap="butt"/>
<line x1="1459.3" y1="147.4" x2="1465.1" y2="147.4" stroke="#000" stroke-width="1" stroke-linecap="butt"/>
<line x1="1459.3" y1="141.3" x2="1470.9" y2="141.3" stroke="#000" stroke-width="1" stroke-linecap="butt"/>
<line x1="1459.3" y1="135.2" x2="1465.1" y2="135.2" stroke="#000" stroke-width="1" stroke-linecap="butt"/>
<line x1="1459.3" y1="129.11" x2="1465.1" y2="129.11" stroke="#000" stroke-width="1" stroke-linecap="butt"/>
<line x1="1459.3" y1="123.01" x2="1465.1" y2="123.01" stroke="#000" stroke-width="1" stroke-linecap="butt"/>
<line x1="1459.3" y1="116.92" x2="1465.1" y2="116.92" stroke="#000" stroke-width="1" stroke-linecap="butt"/>
<line x1="1459.3" y1="110.82" x2="1465.1" y2="110.82" stroke="#000" stroke-width="1" stroke-linecap="butt"/>
<line x1="1459.3" y1="902.6" x2="1470.9" y2="902.6" stroke="#000" stroke-width="1" stroke-linecap="butt"/>
<line x1="1459.3" y1="889.38" x2="1465.1" y2="889.38" stroke="#000" stroke-width="1" stroke-linecap="butt"/>
<line x1="1459.3" y1="876.17" x2="1465.1" y2="876.17" stroke="#000" stroke-width="1" stroke-linecap="butt"/>
<line x1="1459.3" y1="862.96" x2="1465.1" y2="862.96" stroke="#000" stroke-width="1" stroke-linecap="butt"/>
<line x1="1459.3" y1="849.74" x2="1465.1" y2="849.74" stroke="#000" stroke-width="1" stroke-linecap="butt"/>
<line x1="1459.3" y1="836.53" x2="1470.9" y2="836.53" stroke="#000" stroke-width="1" stroke-linecap="butt"/>
<line x1="1459.3" y1="823.31" x2="1465.1" y2="823.31" stroke="#000" stroke-width="1" stroke-linecap="butt"/>
<line x1="1459.3" y1="810.1" x2="1465.1" y2="810.1" stroke="#000" stroke-width="1" stroke-linecap="butt"/>
<line x1="1459.3" y1="796.88" x2="1465.1" y2="796.88" stroke="#000" stroke-width="1" stroke-linecap="butt"/>
<line x1="1459.3" y1="783.67" x2="1465.1" y2="783.67" stroke="#000" stroke-width="1" stroke-linecap="butt"/>
<line x1="1459.3" y1="770.45" x2="1470.9" y2="770.45" stroke="#000" stroke-width="1" stroke-linecap="butt"/>
<line x1="1459.3" y1="757.24" x2="1465.1" y2="757.24" stroke="#000" stroke-width="1" stroke-linecap="butt"/>
<line x1="1459.3" y1="744.02" x2="1465.1" y2="744.02" stroke="#000" stroke-width="1" stroke-linecap="butt"/>
<line x1="1459.3" y1="730.81" x2="1465.1" y2="730.81" stroke="#000" stroke-width="1" stroke-linecap="butt"/>
<line x1="1459.3" y1="717.59" x2="1465.1" y2="717.59" stroke="#000" stroke-width="1" stroke-linecap="butt"/>
<line x1="1459.3" y1="704.38" x2="1470.9" y2="704.38" stroke="#000" stroke-width="1" stroke-linecap="butt"/>
<line x1="1459.3" y1="691.16" x2="1465.1" y2="691.16" stroke="#000" stroke-width="1" stroke-linecap="butt"/>
<line x1="1459.3" y1="677.95" x2="1465.1" y2="677.95" stroke="#000" stroke-width="1" stroke-linecap="butt"/>
<line x1="1459.3" y1="664.73" x2="1465.1" y2="664.73" stroke="#000" stroke-width="1" stroke-linecap="butt"/>
<line x1="1459.3" y1="651.52" x2="1465.1" y2="651.52" stroke="#000" stroke-width="1" stroke-linecap="butt"/>
<line x1="1459.3" y1="638.3" x2="1470.9" y2="638.3" stroke="#000" stroke-width="1" stroke-linecap="butt"/>
<line x1="1459.3" y1="625.09" x2="1465.1" y2="625.09" stroke="#000" stroke-width="1" stroke-linecap="butt"/>
<line x1="1459.3" y1="611.87" x2="1465.1" y2="611.87" stroke="#000" stroke-width="1" stroke-linecap="butt"/>
<line x1="1459.3" y1="598.65" x2="1465.1" y2="598.65" stroke="#000" stroke-width="1" stroke-linecap="butt"/>
<line x1="1459.3" y1="585.44" x2="1465.1" y2="585.44" stroke="#000" stroke-width="1" stroke-linecap="butt"/>
<line x1="1459.3" y1="572.23" x2="1470.9" y2="572.23" stroke="#000" stroke-width="1" stroke-linecap="butt"/>
<line x1="1459.3" y1="559.01" x2="1465.1" y2="559.01" stroke="#000" stroke-width="1" stroke-linecap="butt"/>
<line x1="1459.3" y1="545.8" x2="1465.1" y2="545.8" stroke="#000" stroke-width="1" stroke-linecap="butt"/>
<line x1="1459.3" y1="532.58" x2="1465.1" y2="532.58" stroke="#000" stroke-width="1" stroke-linecap="butt"/>
<line x1="1459.3" y1="519.37" x2="1465.1" y2="519.37" stroke="#000" stroke-width="1" stroke-linecap="butt"/>
<text x="139.9" y="912.7" font-size="27.8" text-anchor="end" font-weight="normal"><tspan dy="2.78">−</tspan><tspan dy="-2.78">100</tspan></text>
<text x="139.9" y="833.52" font-size="27.8" text-anchor="end" font-weight="normal"><tspan dy="2.78">−</tspan><tspan dy="-2.78">80</tspan></text>
<text x="139.9" y="754.34" font-size="27.8" text-anchor="end" font-weight="normal"><tspan dy="2.78">−</tspan><tspan dy="-2.78">60</tspan></text>
<text x="139.9" y="675.16" font-size="27.8" text-anchor="end" font-weight="normal"><tspan dy="2.78">−</tspan><tspan dy="-2.78">40</tspan></text>
<text x="139.9" y="595.98" font-size="27.8" text-anchor="end" font-weight="normal"><tspan dy="2.78">−</tspan><tspan dy="-2.78">20</tspan></text>
<text x="139.9" y="516.8" font-size="27.8" text-anchor="end" font-weight="normal">0</text>
<text x="139.9" y="437.62" font-size="27.8" text-anchor="end" font-weight="normal">20</text>
<text x="139.9" y="358.44" font-size="27.8" text-anchor="end" font-weight="normal">40</text>
<text x="139.9" y="279.26" font-size="27.8" text-anchor="end" font-weight="normal">60</text>
<text x="139.9" y="200.08" font-size="27.8" text-anchor="end" font-weight="normal">80</text>
<text x="139.9" y="120.9" font-size="27.8" text-anchor="end" font-weight="normal">100</text>
<text x="163.3" y="946.7" font-size="27.8" text-anchor="middle" font-weight="normal"><tspan dy="2.78">−</tspan><tspan dy="-2.78">10</tspan></text>
<text x="325.3" y="946.7" font-size="27.8" text-anchor="middle" font-weight="normal">0</text>
<text x="487.3" y="946.7" font-size="27.8" text-anchor="middle" font-weight="normal">10</text>
<text x="649.3" y="946.7" font-size="27.8" text-anchor="middle" font-weight="normal">20</text>
<text x="811.3" y="946.7" font-size="27.8" text-anchor="middle" font-weight="normal">30</text>
<text x="973.3" y="946.7" font-size="27.8" text-anchor="middle" font-weight="normal">40</text>
<text x="1135.3" y="946.7" font-size="27.8" text-anchor="middle" font-weight="normal">50</text>
<text x="1297.3" y="946.7" font-size="27.8" text-anchor="middle" font-weight="normal">60</text>
<text x="1459.3" y="946.7" font-size="27.8" text-anchor="middle" font-weight="normal">70</text>
<text x="1544.8" y="455.85" font-size="27.8" text-anchor="end" font-weight="normal">980</text>
<text x="1544.8" y="394.89" font-size="27.8" text-anchor="end" font-weight="normal">990</text>
<text x="1544.8" y="333.93" font-size="27.8" text-anchor="end" font-weight="normal">1000</text>
<text x="1544.8" y="272.97" font-size="27.8" text-anchor="end" font-weight="normal">1010</text>
<text x="1544.8" y="212.01" font-size="27.8" text-anchor="end" font-weight="normal">1020</text>
<text x="1544.8" y="151.05" font-size="27.8" text-anchor="end" font-weight="normal">1030</text>
<text x="1560" y="912.25" font-size="27.8" text-anchor="end" font-weight="normal"><tspan dy="2.78">−</tspan><tspan dy="-2.78">1500</tspan></text>
<text x="1560" y="846.18" font-size="27.8" text-anchor="end" font-weight="normal"><tspan dy="2.78">−</tspan><tspan dy="-2.78">1000</tspan></text>
<text x="1560" y="780.1" font-size="27.8" text-anchor="end" font-weight="normal"><tspan dy="2.78">−</tspan><tspan dy="-2.78">500</tspan></text>
<text x="1560" y="714.02" font-size="27.8" text-anchor="end" font-weight="normal">0</text>
<text x="1560" y="647.95" font-size="27.8" text-anchor="end" font-weight="normal">500</text>
<text x="1560" y="581.88" font-size="27.8" text-anchor="end" font-weight="normal">1000</text>
<text x="810.5" y="999.7" font-size="36.1" text-anchor="middle" font-weight="normal">Time [min] from 2016<tspan dy="3.61">−</tspan><tspan dy="-3.61">06</tspan><tspan dy="3.61">−</tspan><tspan dy="-3.61">18 02:00:00 UTC</tspan></text>
<text x="49" y="506.45" font-size="36.1" text-anchor="middle" font-weight="normal" transform="rotate(-90 49 506.45)">Obs’d Gravity [nm/s<tspan font-size="25.27" dy="-11.55">2</tspan><tspan dy="11.55">]</tspan></text>
<text x="1600.3" y="308.1" font-size="36.1" text-anchor="middle" font-weight="normal" transform="rotate(-90 1600.3 308.1)">Pressure [hPa]</text>
<text x="1615" y="704.3" font-size="36.1" text-anchor="middle" font-weight="normal" transform="rotate(-90 1615 704.3)">Tide [nm/s<tspan font-size="25.27" dy="-11.55">2</tspan><tspan dy="11.55">]</tspan></text>
<text x="996" y="81.7" font-size="32.25" text-anchor="middle" font-weight="bold">SCG_054 gravimeter Onsala Space Observatory, Sweden</text>
<text x="192" y="887.8" font-size="27.8" text-anchor="start" font-weight="bold">The latest 1<tspan dy="2.78">−</tspan><tspan dy="-2.78">hour, 1</tspan><tspan dy="2.78">−</tspan><tspan dy="-2.78">second sampling</tspan></text>
<text x="1431.2" y="887.8" font-size="27.8" text-anchor="end" font-weight="bold">End at 2016<tspan dy="2.78">−</tspan><tspan dy="-2.78">06</tspan><tspan dy="2.78">−</tspan><tspan dy="-2.78">18 02:59:59 UTC</tspan></text>
<rect x="167.0" y="28.3" width="372.8" height="153.0" fill="#fff" stroke="#000" stroke-width="0.5"/>
<line x1="204.2" y1="39.5" x2="260.2" y2="39.5" stroke="#0000ff" stroke-width="0.7" stroke-linecap="butt"/>
<circle cx="232.2" cy="39.5" r="4.3" fill="#0000ff"/>
<text x="279" y="48.02" font-size="24.2" text-anchor="start" font-weight="normal">Pressure</text>
<line x1="204.2" y1="69.8" x2="260.2" y2="69.8" stroke="#00c8c8" stroke-width="0.7" stroke-linecap="butt"/>
<circle cx="232.2" cy="69.8" r="4.3" fill="#00c8c8"/>
<text x="279" y="78.32" font-size="24.2" text-anchor="start" font-weight="normal">100 P, band<tspan dy="2.42">−</tspan><tspan dy="-2.42">passed</tspan></text>
<line x1="204.2" y1="100.3" x2="260.2" y2="100.3" stroke="#000000" stroke-width="2.6" stroke-linecap="butt"/>
<text x="279" y="108.82" font-size="24.2" text-anchor="start" font-weight="normal">Residual</text>
<line x1="204.2" y1="130.6" x2="260.2" y2="130.6" stroke="#bebebe" stroke-width="2.6" stroke-linecap="butt"/>
<text x="279" y="139.12" font-size="24.2" text-anchor="start" font-weight="normal">... last 10 min.</text>
<line x1="204.2" y1="161.2" x2="260.2" y2="161.2" stroke="#ff0000" stroke-width="0.7" stroke-linecap="butt"/>
<circle cx="232.2" cy="161.2" r="4.3" fill="#ff0000"/>
<text x="279" y="169.72" font-size="24.2" text-anchor="start" font-weight="normal">Theor.Tide</text>
</svg>
</body></html>
